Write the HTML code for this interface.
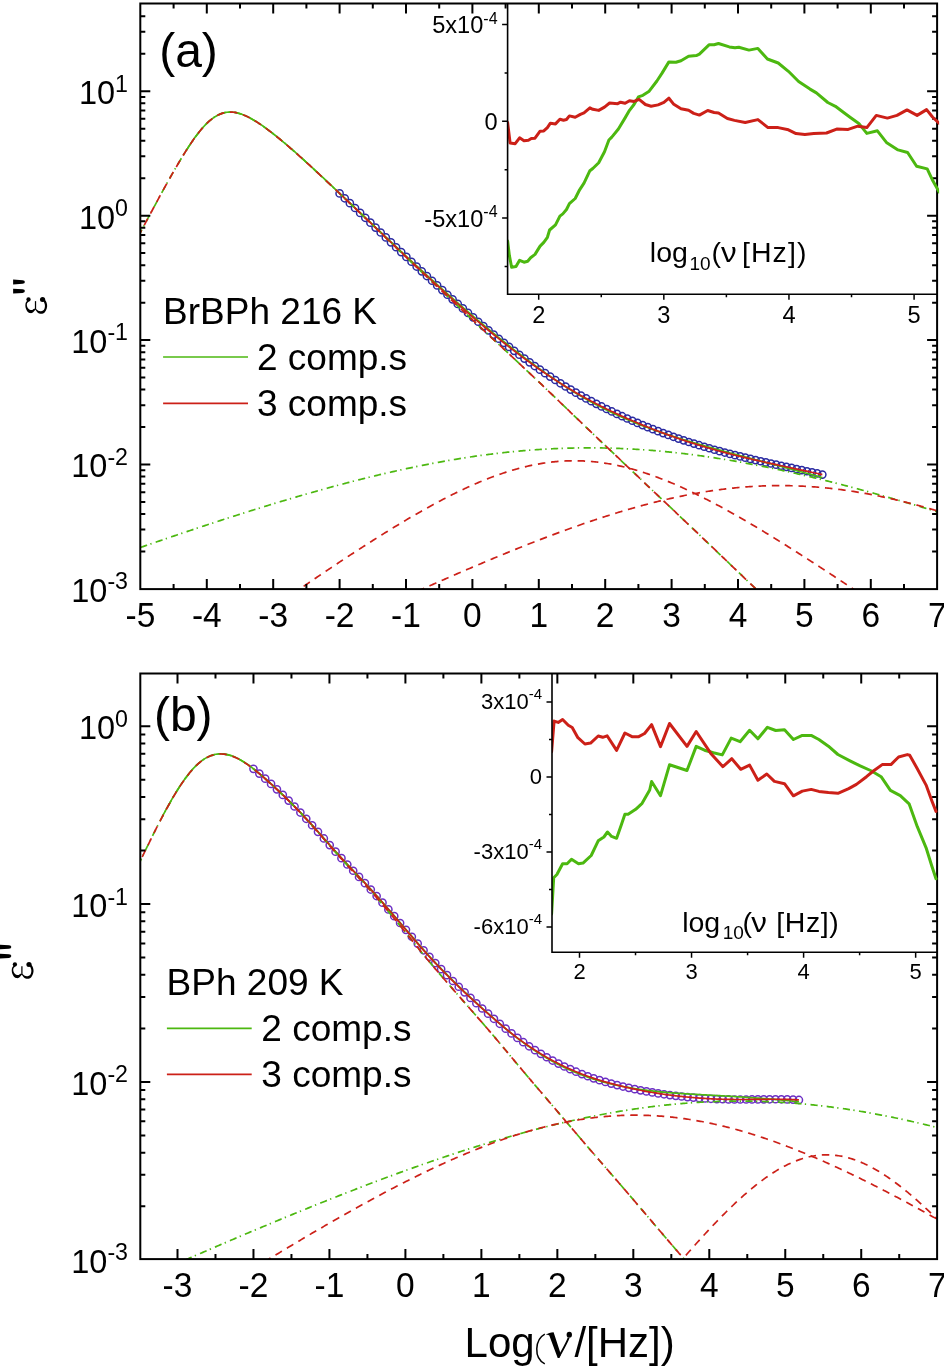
<!DOCTYPE html>
<html><head><meta charset="utf-8"><style>html,body{margin:0;padding:0;background:#fff;}svg{display:block;} text{-webkit-font-smoothing:antialiased;} body{will-change:transform;}</style></head>
<body>
<svg width="944" height="1366" viewBox="0 0 944 1366">
<rect width="944" height="1366" fill="#fff"/>
<clipPath id="ca"><rect x="140.3" y="3.5" width="796.8" height="585.6"/></clipPath>
<g clip-path="url(#ca)">
<g fill="none" stroke="#2a2aa2" stroke-width="1.5">
<circle cx="339.6" cy="193.43" r="3.6"/>
<circle cx="344.74" cy="198.29" r="3.6"/>
<circle cx="349.87" cy="203.15" r="3.6"/>
<circle cx="355.01" cy="208.02" r="3.6"/>
<circle cx="360.14" cy="212.9" r="3.6"/>
<circle cx="365.28" cy="217.78" r="3.6"/>
<circle cx="370.41" cy="222.68" r="3.6"/>
<circle cx="375.55" cy="227.59" r="3.6"/>
<circle cx="380.68" cy="232.51" r="3.6"/>
<circle cx="385.82" cy="237.42" r="3.6"/>
<circle cx="390.95" cy="242.33" r="3.6"/>
<circle cx="396.09" cy="247.23" r="3.6"/>
<circle cx="401.22" cy="252.1" r="3.6"/>
<circle cx="406.36" cy="256.95" r="3.6"/>
<circle cx="411.5" cy="261.76" r="3.6"/>
<circle cx="416.63" cy="266.54" r="3.6"/>
<circle cx="421.77" cy="271.3" r="3.6"/>
<circle cx="426.9" cy="276.03" r="3.6"/>
<circle cx="432.04" cy="280.74" r="3.6"/>
<circle cx="437.17" cy="285.43" r="3.6"/>
<circle cx="442.31" cy="290.1" r="3.6"/>
<circle cx="447.44" cy="294.74" r="3.6"/>
<circle cx="452.58" cy="299.34" r="3.6"/>
<circle cx="457.71" cy="303.91" r="3.6"/>
<circle cx="462.85" cy="308.44" r="3.6"/>
<circle cx="467.99" cy="312.92" r="3.6"/>
<circle cx="473.12" cy="317.36" r="3.6"/>
<circle cx="478.26" cy="321.75" r="3.6"/>
<circle cx="483.39" cy="326.09" r="3.6"/>
<circle cx="488.53" cy="330.37" r="3.6"/>
<circle cx="493.66" cy="334.59" r="3.6"/>
<circle cx="498.8" cy="338.76" r="3.6"/>
<circle cx="503.93" cy="342.86" r="3.6"/>
<circle cx="509.07" cy="346.9" r="3.6"/>
<circle cx="514.2" cy="350.87" r="3.6"/>
<circle cx="519.34" cy="354.77" r="3.6"/>
<circle cx="524.47" cy="358.59" r="3.6"/>
<circle cx="529.61" cy="362.35" r="3.6"/>
<circle cx="534.75" cy="366.03" r="3.6"/>
<circle cx="539.88" cy="369.63" r="3.6"/>
<circle cx="545.02" cy="373.16" r="3.6"/>
<circle cx="550.15" cy="376.62" r="3.6"/>
<circle cx="555.29" cy="379.99" r="3.6"/>
<circle cx="560.42" cy="383.28" r="3.6"/>
<circle cx="565.56" cy="386.49" r="3.6"/>
<circle cx="570.69" cy="389.6" r="3.6"/>
<circle cx="575.83" cy="392.63" r="3.6"/>
<circle cx="580.96" cy="395.56" r="3.6"/>
<circle cx="586.1" cy="398.41" r="3.6"/>
<circle cx="591.23" cy="401.18" r="3.6"/>
<circle cx="596.37" cy="403.86" r="3.6"/>
<circle cx="601.51" cy="406.47" r="3.6"/>
<circle cx="606.64" cy="409" r="3.6"/>
<circle cx="611.78" cy="411.47" r="3.6"/>
<circle cx="616.91" cy="413.88" r="3.6"/>
<circle cx="622.05" cy="416.22" r="3.6"/>
<circle cx="627.18" cy="418.51" r="3.6"/>
<circle cx="632.32" cy="420.75" r="3.6"/>
<circle cx="637.45" cy="422.93" r="3.6"/>
<circle cx="642.59" cy="425.07" r="3.6"/>
<circle cx="647.72" cy="427.14" r="3.6"/>
<circle cx="652.86" cy="429.17" r="3.6"/>
<circle cx="658" cy="431.15" r="3.6"/>
<circle cx="663.13" cy="433.08" r="3.6"/>
<circle cx="668.27" cy="434.95" r="3.6"/>
<circle cx="673.4" cy="436.78" r="3.6"/>
<circle cx="678.54" cy="438.56" r="3.6"/>
<circle cx="683.67" cy="440.3" r="3.6"/>
<circle cx="688.81" cy="441.98" r="3.6"/>
<circle cx="693.94" cy="443.62" r="3.6"/>
<circle cx="699.08" cy="445.22" r="3.6"/>
<circle cx="704.21" cy="446.77" r="3.6"/>
<circle cx="709.35" cy="448.27" r="3.6"/>
<circle cx="714.48" cy="449.74" r="3.6"/>
<circle cx="719.62" cy="451.16" r="3.6"/>
<circle cx="724.76" cy="452.54" r="3.6"/>
<circle cx="729.89" cy="453.88" r="3.6"/>
<circle cx="735.03" cy="455.18" r="3.6"/>
<circle cx="740.16" cy="456.45" r="3.6"/>
<circle cx="745.3" cy="457.69" r="3.6"/>
<circle cx="750.43" cy="458.9" r="3.6"/>
<circle cx="755.57" cy="460.09" r="3.6"/>
<circle cx="760.7" cy="461.25" r="3.6"/>
<circle cx="765.84" cy="462.39" r="3.6"/>
<circle cx="770.97" cy="463.52" r="3.6"/>
<circle cx="776.11" cy="464.64" r="3.6"/>
<circle cx="781.24" cy="465.74" r="3.6"/>
<circle cx="786.38" cy="466.84" r="3.6"/>
<circle cx="791.52" cy="467.94" r="3.6"/>
<circle cx="796.65" cy="469.03" r="3.6"/>
<circle cx="801.79" cy="470.13" r="3.6"/>
<circle cx="806.92" cy="471.23" r="3.6"/>
<circle cx="812.06" cy="472.34" r="3.6"/>
<circle cx="817.19" cy="473.47" r="3.6"/>
<circle cx="822.33" cy="474.6" r="3.6"/>
</g>
<path d="M183.56,154.68 L184.84,152.62 L186.12,150.59 L187.4,148.59 L188.68,146.63 L189.96,144.69 L191.24,142.79 L192.52,140.93 L193.8,139.11 L195.08,137.33 L196.36,135.59 L197.64,133.9 L198.92,132.26 L200.2,130.67 L201.48,129.14 L202.76,127.66 L204.04,126.24 L205.32,124.88 L206.6,123.58 L207.88,122.35 L209.16,121.19 L210.44,120.09 L211.72,119.06 L213,118.1 L214.28,117.21 L215.56,116.39 L216.84,115.65 L218.12,114.97 L219.4,114.37 L220.68,113.84 L221.96,113.39 L223.24,113 L224.52,112.68 L225.8,112.43 L227.08,112.24 L228.36,112.12 L229.64,112.07 L230.92,112.07 L232.2,112.13 L233.48,112.25 L234.76,112.43 L236.04,112.65 L237.32,112.93 L238.6,113.26 L239.88,113.63 L241.16,114.05 L242.44,114.5 L243.72,115 L245,115.54 L246.28,116.11 L247.56,116.72 L248.84,117.36 L250.13,118.03 L251.41,118.72 L252.69,119.45 L253.97,120.2 L255.25,120.97 L256.53,121.77 L257.81,122.59 L259.09,123.43 L260.37,124.29 L261.65,125.17 L262.93,126.06 L264.21,126.97 L265.49,127.9 L266.77,128.84 L268.05,129.79 L269.33,130.75 L270.61,131.73 L271.89,132.72 L273.17,133.72 L274.45,134.73 L275.73,135.75 L277.01,136.78 L278.29,137.82 L279.57,138.86 L280.85,139.92 L282.13,140.98 L283.41,142.05 L284.69,143.12 L285.97,144.21 L287.25,145.3 L288.53,146.39 L289.81,147.5 L291.09,148.6 L292.37,149.72 L293.65,150.84 L294.93,151.97 L296.21,153.1 L297.49,154.23 L298.77,155.37 L300.05,156.52 L301.33,157.67 L302.61,158.83 L303.89,159.98 L305.17,161.15 L306.45,162.31 L307.73,163.48 L309.01,164.66 L310.29,165.83 L311.57,167.01 L312.85,168.2 L314.13,169.38 L315.41,170.57 L316.69,171.76 L317.97,172.95 L319.25,174.14 L320.53,175.34 L321.81,176.54 L323.09,177.73 L324.37,178.93 L325.65,180.13 L326.93,181.34 L328.21,182.54 L329.49,183.74 L330.77,184.95 L332.05,186.15 L333.33,187.35 L334.61,188.56 L335.89,189.77 L337.17,190.97 L338.45,192.18 L339.73,193.38 L341.01,194.59 L342.29,195.8 L343.57,197 L344.85,198.21 L346.13,199.42 L347.41,200.63 L348.69,201.83 L349.97,203.04 L351.25,204.25 L352.53,205.46 L353.81,206.66 L355.09,207.87 L356.37,209.08 L357.65,210.29 L358.93,211.5 L360.21,212.71 L361.49,213.92 L362.77,215.14 L364.05,216.35 L365.33,217.56 L366.61,218.77 L367.89,219.99 L369.17,221.2 L370.45,222.42 L371.73,223.63 L373.01,224.85 L374.29,226.07 L375.57,227.28 L376.85,228.5 L378.13,229.72 L379.41,230.94 L380.69,232.15 L381.97,233.37 L383.26,234.59 L384.54,235.81 L385.82,237.02 L387.1,238.24 L388.38,239.45 L389.66,240.67 L390.94,241.88 L392.22,243.1 L393.5,244.31 L394.78,245.52 L396.06,246.73 L397.34,247.93 L398.62,249.14 L399.9,250.34 L401.18,251.54 L402.46,252.74 L403.74,253.94 L405.02,255.14 L406.3,256.33 L407.58,257.52 L408.86,258.72 L410.14,259.9 L411.42,261.09 L412.7,262.27 L413.98,263.46 L415.26,264.64 L416.54,265.81 L417.82,266.99 L419.1,268.17 L420.38,269.34 L421.66,270.51 L422.94,271.68 L424.22,272.85 L425.5,274.02 L426.78,275.18 L428.06,276.34 L429.34,277.51 L430.62,278.67 L431.9,279.83 L433.18,280.99 L434.46,282.14 L435.74,283.3 L437.02,284.45 L438.3,285.61 L439.58,286.76 L440.86,287.91 L442.14,289.06 L443.42,290.21 L444.7,291.35 L445.98,292.49 L447.26,293.64 L448.54,294.78 L449.82,295.91 L451.1,297.05 L452.38,298.18 L453.66,299.32 L454.94,300.45 L456.22,301.57 L457.5,302.7 L458.78,303.82 L460.06,304.94 L461.34,306.06 L462.62,307.18 L463.9,308.29 L465.18,309.4 L466.46,310.51 L467.74,311.61 L469.02,312.72 L470.3,313.82 L471.58,314.91 L472.86,316.01 L474.14,317.1 L475.42,318.19 L476.7,319.28 L477.98,320.37 L479.26,321.45 L480.54,322.53 L481.82,323.6 L483.1,324.68 L484.38,325.75 L485.66,326.82 L486.94,327.88 L488.22,328.94 L489.5,330 L490.78,331.06 L492.06,332.12 L493.34,333.17 L494.62,334.21 L495.9,335.26 L497.18,336.3 L498.46,337.34 L499.74,338.37 L501.02,339.41 L502.3,340.44 L503.58,341.46 L504.86,342.48 L506.14,343.5 L507.42,344.52 L508.7,345.53 L509.98,346.54 L511.26,347.55 L512.54,348.55 L513.82,349.55 L515.1,350.55 L516.39,351.54 L517.67,352.53 L518.95,353.51 L520.23,354.49 L521.51,355.47 L522.79,356.44 L524.07,357.41 L525.35,358.38 L526.63,359.34 L527.91,360.3 L529.19,361.26 L530.47,362.21 L531.75,363.16 L533.03,364.1 L534.31,365.04 L535.59,365.98 L536.87,366.91 L538.15,367.84 L539.43,368.77 L540.71,369.69 L541.99,370.6 L543.27,371.52 L544.55,372.42 L545.83,373.33 L547.11,374.23 L548.39,375.12 L549.67,376.01 L550.95,376.9 L552.23,377.78 L553.51,378.66 L554.79,379.53 L556.07,380.4 L557.35,381.26 L558.63,382.11 L559.91,382.97 L561.19,383.81 L562.47,384.65 L563.75,385.49 L565.03,386.32 L566.31,387.14 L567.59,387.96 L568.87,388.77 L570.15,389.58 L571.43,390.38 L572.71,391.18 L573.99,391.96 L575.27,392.75 L576.55,393.52 L577.83,394.29 L579.11,395.06 L580.39,395.81 L581.67,396.57 L582.95,397.31 L584.23,398.05 L585.51,398.78 L586.79,399.51 L588.07,400.23 L589.35,400.94 L590.63,401.65 L591.91,402.35 L593.19,403.04 L594.47,403.73 L595.75,404.41 L597.03,405.09 L598.31,405.76 L599.59,406.43 L600.87,407.08 L602.15,407.74 L603.43,408.38 L604.71,409.03 L605.99,409.66 L607.27,410.29 L608.55,410.92 L609.83,411.53 L611.11,412.15 L612.39,412.76 L613.67,413.36 L614.95,413.96 L616.23,414.55 L617.51,415.13 L618.79,415.72 L620.07,416.29 L621.35,416.86 L622.63,417.43 L623.91,417.99 L625.19,418.55 L626.47,419.1 L627.75,419.65 L629.03,420.19 L630.31,420.73 L631.59,421.26 L632.87,421.79 L634.15,422.32 L635.43,422.84 L636.71,423.35 L637.99,423.86 L639.27,424.37 L640.55,424.87 L641.83,425.37 L643.11,425.86 L644.39,426.35 L645.67,426.84 L646.95,427.32 L648.23,427.8 L649.52,428.27 L650.8,428.74 L652.08,429.21 L653.36,429.67 L654.64,430.13 L655.92,430.59 L657.2,431.04 L658.48,431.49 L659.76,431.93 L661.04,432.37 L662.32,432.81 L663.6,433.25 L664.88,433.68 L666.16,434.11 L667.44,434.54 L668.72,434.96 L670,435.38 L671.28,435.8 L672.56,436.21 L673.84,436.62 L675.12,437.03 L676.4,437.44 L677.68,437.84 L678.96,438.25 L680.24,438.65 L681.52,439.04 L682.8,439.44 L684.08,439.83 L685.36,440.22 L686.64,440.61 L687.92,441 L689.2,441.39 L690.48,441.77 L691.76,442.15 L693.04,442.53 L694.32,442.91 L695.6,443.29 L696.88,443.66 L698.16,444.04 L699.44,444.41 L700.72,444.78 L702,445.15 L703.28,445.51 L704.56,445.88 L705.84,446.25 L707.12,446.61 L708.4,446.97 L709.68,447.33 L710.96,447.69 L712.24,448.05 L713.52,448.41 L714.8,448.77 L716.08,449.12 L717.36,449.48 L718.64,449.83 L719.92,450.18 L721.2,450.53 L722.48,450.88 L723.76,451.23 L725.04,451.58 L726.32,451.93 L727.6,452.28 L728.88,452.63 L730.16,452.97 L731.44,453.32 L732.72,453.66 L734,454.01 L735.28,454.35 L736.56,454.69 L737.84,455.03 L739.12,455.38 L740.4,455.72 L741.68,456.06 L742.96,456.4 L744.24,456.74 L745.52,457.08 L746.8,457.42 L748.08,457.76 L749.36,458.1 L750.64,458.44 L751.92,458.78 L753.2,459.11 L754.48,459.45 L755.76,459.79 L757.04,460.13 L758.32,460.47 L759.6,460.8 L760.88,461.14 L762.16,461.48 L763.44,461.82 L764.72,462.15 L766,462.49 L767.28,462.83 L768.56,463.17 L769.84,463.51 L771.12,463.84 L772.4,464.18 L773.68,464.52 L774.96,464.86 L776.24,465.2 L777.52,465.54 L778.8,465.87 L780.08,466.21 L781.36,466.55 L782.65,466.89 L783.93,467.23 L785.21,467.57 L786.49,467.91 L787.77,468.25 L789.05,468.59 L790.33,468.93 L791.61,469.27 L792.89,469.61 L794.17,469.95 L795.45,470.3 L796.73,470.64 L798.01,470.98 L799.29,471.32 L800.57,471.67 L801.85,472.01 L803.13,472.35 L804.41,472.7 L805.69,473.04 L806.97,473.39 L808.25,473.73 L809.53,474.08 L810.81,474.42 L812.09,474.77 L813.37,475.12 L814.65,475.47 L815.93,475.81 L817.21,476.16 L818.49,476.51 L819.77,476.86 L821.05,477.21 L822.33,477.56" fill="none" stroke="#4cb810" stroke-width="1.7"/>
<path d="M339.6,193.43 L340.81,194.57 L342.02,195.72 L343.23,196.86 L344.44,198.01 L345.65,199.15 L346.86,200.3 L348.07,201.44 L349.28,202.59 L350.49,203.74 L351.7,204.88 L352.91,206.03 L354.12,207.18 L355.33,208.32 L356.54,209.47 L357.75,210.62 L358.96,211.77 L360.17,212.92 L361.38,214.07 L362.59,215.22 L363.8,216.37 L365.01,217.52 L366.22,218.68 L367.43,219.83 L368.64,220.98 L369.85,222.14 L371.06,223.3 L372.27,224.45 L373.48,225.61 L374.69,226.76 L375.9,227.92 L377.11,229.08 L378.32,230.24 L379.52,231.4 L380.73,232.56 L381.94,233.71 L383.15,234.87 L384.36,236.03 L385.57,237.19 L386.78,238.35 L387.99,239.5 L389.2,240.66 L390.41,241.82 L391.62,242.97 L392.83,244.13 L394.04,245.28 L395.25,246.43 L396.46,247.58 L397.67,248.73 L398.88,249.88 L400.09,251.03 L401.3,252.17 L402.51,253.32 L403.72,254.46 L404.93,255.6 L406.14,256.74 L407.35,257.88 L408.56,259.01 L409.77,260.15 L410.98,261.28 L412.19,262.41 L413.4,263.54 L414.61,264.67 L415.82,265.79 L417.03,266.92 L418.24,268.04 L419.45,269.16 L420.66,270.28 L421.87,271.4 L423.08,272.51 L424.29,273.63 L425.5,274.74 L426.71,275.86 L427.92,276.97 L429.13,278.08 L430.34,279.19 L431.55,280.3 L432.76,281.4 L433.97,282.51 L435.18,283.61 L436.39,284.72 L437.6,285.82 L438.81,286.92 L440.02,288.02 L441.23,289.12 L442.44,290.21 L443.65,291.31 L444.86,292.4 L446.07,293.5 L447.28,294.59 L448.49,295.67 L449.7,296.76 L450.91,297.85 L452.12,298.93 L453.33,300.01 L454.54,301.09 L455.75,302.16 L456.95,303.24 L458.16,304.31 L459.37,305.38 L460.58,306.45 L461.79,307.51 L463,308.58 L464.21,309.64 L465.42,310.69 L466.63,311.75 L467.84,312.8 L469.05,313.85 L470.26,314.9 L471.47,315.94 L472.68,316.99 L473.89,318.02 L475.1,319.06 L476.31,320.1 L477.52,321.13 L478.73,322.15 L479.94,323.18 L481.15,324.2 L482.36,325.22 L483.57,326.24 L484.78,327.25 L485.99,328.26 L487.2,329.27 L488.41,330.27 L489.62,331.27 L490.83,332.27 L492.04,333.27 L493.25,334.26 L494.46,335.25 L495.67,336.23 L496.88,337.21 L498.09,338.19 L499.3,339.16 L500.51,340.13 L501.72,341.1 L502.93,342.07 L504.14,343.03 L505.35,343.98 L506.56,344.94 L507.77,345.88 L508.98,346.83 L510.19,347.77 L511.4,348.71 L512.61,349.64 L513.82,350.57 L515.03,351.5 L516.24,352.42 L517.45,353.34 L518.66,354.25 L519.87,355.16 L521.08,356.07 L522.29,356.97 L523.5,357.87 L524.71,358.76 L525.92,359.65 L527.13,360.54 L528.34,361.42 L529.55,362.3 L530.76,363.17 L531.97,364.04 L533.18,364.91 L534.38,365.77 L535.59,366.63 L536.8,367.48 L538.01,368.33 L539.22,369.18 L540.43,370.02 L541.64,370.85 L542.85,371.69 L544.06,372.51 L545.27,373.34 L546.48,374.16 L547.69,374.97 L548.9,375.78 L550.11,376.59 L551.32,377.39 L552.53,378.19 L553.74,378.98 L554.95,379.77 L556.16,380.56 L557.37,381.34 L558.58,382.11 L559.79,382.88 L561,383.65 L562.21,384.41 L563.42,385.16 L564.63,385.91 L565.84,386.66 L567.05,387.4 L568.26,388.14 L569.47,388.87 L570.68,389.59 L571.89,390.32 L573.1,391.03 L574.31,391.74 L575.52,392.45 L576.73,393.15 L577.94,393.85 L579.15,394.54 L580.36,395.22 L581.57,395.9 L582.78,396.58 L583.99,397.25 L585.2,397.92 L586.41,398.58 L587.62,399.24 L588.83,399.89 L590.04,400.54 L591.25,401.18 L592.46,401.82 L593.67,402.46 L594.88,403.09 L596.09,403.71 L597.3,404.33 L598.51,404.95 L599.72,405.57 L600.93,406.18 L602.14,406.78 L603.35,407.38 L604.56,407.98 L605.77,408.57 L606.98,409.16 L608.19,409.75 L609.4,410.33 L610.61,410.91 L611.82,411.49 L613.02,412.06 L614.23,412.63 L615.44,413.19 L616.65,413.76 L617.86,414.32 L619.07,414.87 L620.28,415.42 L621.49,415.97 L622.7,416.52 L623.91,417.06 L625.12,417.6 L626.33,418.14 L627.54,418.67 L628.75,419.2 L629.96,419.73 L631.17,420.26 L632.38,420.78 L633.59,421.3 L634.8,421.81 L636.01,422.33 L637.22,422.84 L638.43,423.34 L639.64,423.85 L640.85,424.35 L642.06,424.85 L643.27,425.34 L644.48,425.84 L645.69,426.33 L646.9,426.81 L648.11,427.3 L649.32,427.78 L650.53,428.26 L651.74,428.74 L652.95,429.21 L654.16,429.68 L655.37,430.15 L656.58,430.61 L657.79,431.07 L659,431.53 L660.21,431.99 L661.42,432.44 L662.63,432.89 L663.84,433.34 L665.05,433.78 L666.26,434.23 L667.47,434.67 L668.68,435.1 L669.89,435.54 L671.1,435.97 L672.31,436.4 L673.52,436.82 L674.73,437.25 L675.94,437.67 L677.15,438.09 L678.36,438.5 L679.57,438.91 L680.78,439.32 L681.99,439.73 L683.2,440.14 L684.41,440.54 L685.62,440.94 L686.83,441.34 L688.04,441.73 L689.25,442.12 L690.45,442.51 L691.66,442.9 L692.87,443.28 L694.08,443.67 L695.29,444.05 L696.5,444.42 L697.71,444.8 L698.92,445.17 L700.13,445.54 L701.34,445.91 L702.55,446.27 L703.76,446.63 L704.97,446.99 L706.18,447.35 L707.39,447.7 L708.6,448.06 L709.81,448.41 L711.02,448.75 L712.23,449.1 L713.44,449.44 L714.65,449.78 L715.86,450.12 L717.07,450.46 L718.28,450.79 L719.49,451.12 L720.7,451.45 L721.91,451.78 L723.12,452.1 L724.33,452.42 L725.54,452.74 L726.75,453.06 L727.96,453.38 L729.17,453.69 L730.38,454 L731.59,454.31 L732.8,454.62 L734.01,454.93 L735.22,455.23 L736.43,455.53 L737.64,455.83 L738.85,456.13 L740.06,456.43 L741.27,456.72 L742.48,457.01 L743.69,457.3 L744.9,457.59 L746.11,457.88 L747.32,458.17 L748.53,458.45 L749.74,458.74 L750.95,459.02 L752.16,459.3 L753.37,459.58 L754.58,459.86 L755.79,460.14 L757,460.41 L758.21,460.69 L759.42,460.96 L760.63,461.23 L761.84,461.5 L763.05,461.77 L764.26,462.04 L765.47,462.31 L766.68,462.58 L767.88,462.84 L769.09,463.11 L770.3,463.37 L771.51,463.64 L772.72,463.9 L773.93,464.17 L775.14,464.43 L776.35,464.69 L777.56,464.95 L778.77,465.21 L779.98,465.47 L781.19,465.73 L782.4,465.99 L783.61,466.25 L784.82,466.51 L786.03,466.77 L787.24,467.03 L788.45,467.28 L789.66,467.54 L790.87,467.8 L792.08,468.06 L793.29,468.32 L794.5,468.57 L795.71,468.83 L796.92,469.09 L798.13,469.35 L799.34,469.61 L800.55,469.87 L801.76,470.13 L802.97,470.38 L804.18,470.64 L805.39,470.9 L806.6,471.16 L807.81,471.42 L809.02,471.69 L810.23,471.95 L811.44,472.21 L812.65,472.47 L813.86,472.74 L815.07,473 L816.28,473.27 L817.49,473.53 L818.7,473.8 L819.91,474.07 L821.12,474.33 L822.33,474.6" fill="none" stroke="#cc2018" stroke-width="1.7"/>
<path d="M140.3,232.68 L141.63,230.18 L142.96,227.68 L144.29,225.17 L145.62,222.67 L146.95,220.18 L148.28,217.68 L149.61,215.19 L150.94,212.71 L152.27,210.23 L153.6,207.75 L154.93,205.28 L156.26,202.82 L157.59,200.36 L158.92,197.91 L160.25,195.46 L161.58,193.03 L162.91,190.6 L164.24,188.19 L165.57,185.78 L166.9,183.38 L168.23,181 L169.56,178.63 L170.89,176.27 L172.23,173.93 L173.56,171.6 L174.89,169.29 L176.22,167 L177.55,164.73 L178.88,162.47 L180.21,160.24 L181.54,158.04 L182.87,155.86 L184.2,153.7 L185.53,151.58 L186.86,149.48 L188.19,147.42 L189.52,145.4 L190.85,143.41 L192.18,141.46 L193.51,139.56 L194.84,137.7 L196.17,135.89 L197.5,134.12 L198.83,132.41 L200.16,130.76 L201.49,129.16 L202.82,127.63 L204.15,126.16 L205.48,124.75 L206.81,123.41 L208.14,122.14 L209.47,120.94 L210.8,119.82 L212.13,118.77 L213.46,117.8 L214.79,116.9 L216.12,116.09 L217.45,115.35 L218.78,114.68 L220.11,114.1 L221.44,113.59 L222.77,113.16 L224.1,112.81 L225.43,112.52 L226.76,112.31 L228.09,112.17 L229.42,112.1 L230.75,112.1 L232.08,112.15 L233.42,112.27 L234.75,112.45 L236.08,112.69 L237.41,112.98 L238.74,113.33 L240.07,113.72 L241.4,114.16 L242.73,114.64 L244.06,115.17 L245.39,115.74 L246.72,116.35 L248.05,116.99 L249.38,117.67 L250.71,118.38 L252.04,119.12 L253.37,119.89 L254.7,120.68 L256.03,121.5 L257.36,122.35 L258.69,123.21 L260.02,124.1 L261.35,125.01 L262.68,125.94 L264.01,126.88 L265.34,127.84 L266.67,128.82 L268,129.81 L269.33,130.81 L270.66,131.83 L271.99,132.86 L273.32,133.9 L274.65,134.95 L275.98,136.01 L277.31,137.09 L278.64,138.17 L279.97,139.26 L281.3,140.36 L282.63,141.47 L283.96,142.59 L285.29,143.71 L286.62,144.84 L287.95,145.98 L289.28,147.12 L290.61,148.28 L291.94,149.44 L293.27,150.6 L294.61,151.77 L295.94,152.95 L297.27,154.13 L298.6,155.32 L299.93,156.51 L301.26,157.71 L302.59,158.91 L303.92,160.12 L305.25,161.33 L306.58,162.55 L307.91,163.77 L309.24,164.99 L310.57,166.22 L311.9,167.45 L313.23,168.68 L314.56,169.92 L315.89,171.16 L317.22,172.4 L318.55,173.64 L319.88,174.89 L321.21,176.14 L322.54,177.39 L323.87,178.64 L325.2,179.89 L326.53,181.14 L327.86,182.4 L329.19,183.65 L330.52,184.91 L331.85,186.17 L333.18,187.43 L334.51,188.69 L335.84,189.94 L337.17,191.2 L338.5,192.46 L339.83,193.73 L341.16,194.99 L342.49,196.25 L343.82,197.51 L345.15,198.77 L346.48,200.04 L347.81,201.3 L349.14,202.56 L350.47,203.83 L351.8,205.09 L353.13,206.36 L354.46,207.62 L355.8,208.89 L357.13,210.16 L358.46,211.43 L359.79,212.69 L361.12,213.96 L362.45,215.24 L363.78,216.51 L365.11,217.78 L366.44,219.05 L367.77,220.33 L369.1,221.6 L370.43,222.88 L371.76,224.16 L373.09,225.44 L374.42,226.72 L375.75,228 L377.08,229.28 L378.41,230.56 L379.74,231.85 L381.07,233.13 L382.4,234.41 L383.73,235.7 L385.06,236.98 L386.39,238.27 L387.72,239.55 L389.05,240.83 L390.38,242.12 L391.71,243.4 L393.04,244.68 L394.37,245.96 L395.7,247.25 L397.03,248.53 L398.36,249.8 L399.69,251.08 L401.02,252.36 L402.35,253.63 L403.68,254.91 L405.01,256.18 L406.34,257.45 L407.67,258.72 L409,259.99 L410.33,261.26 L411.66,262.52 L412.99,263.79 L414.32,265.05 L415.65,266.31 L416.99,267.57 L418.32,268.83 L419.65,270.09 L420.98,271.35 L422.31,272.61 L423.64,273.87 L424.97,275.12 L426.3,276.38 L427.63,277.63 L428.96,278.89 L430.29,280.15 L431.62,281.4 L432.95,282.66 L434.28,283.91 L435.61,285.17 L436.94,286.42 L438.27,287.67 L439.6,288.93 L440.93,290.18 L442.26,291.44 L443.59,292.69 L444.92,293.95 L446.25,295.2 L447.58,296.45 L448.91,297.71 L450.24,298.96 L451.57,300.21 L452.9,301.46 L454.23,302.71 L455.56,303.96 L456.89,305.21 L458.22,306.46 L459.55,307.71 L460.88,308.96 L462.21,310.21 L463.54,311.45 L464.87,312.7 L466.2,313.95 L467.53,315.19 L468.86,316.44 L470.19,317.68 L471.52,318.93 L472.85,320.17 L474.18,321.41 L475.51,322.66 L476.84,323.9 L478.18,325.14 L479.51,326.38 L480.84,327.63 L482.17,328.87 L483.5,330.11 L484.83,331.35 L486.16,332.59 L487.49,333.83 L488.82,335.07 L490.15,336.32 L491.48,337.56 L492.81,338.8 L494.14,340.04 L495.47,341.28 L496.8,342.52 L498.13,343.76 L499.46,345 L500.79,346.25 L502.12,347.49 L503.45,348.73 L504.78,349.97 L506.11,351.21 L507.44,352.46 L508.77,353.7 L510.1,354.94 L511.43,356.19 L512.76,357.43 L514.09,358.67 L515.42,359.92 L516.75,361.16 L518.08,362.41 L519.41,363.66 L520.74,364.9 L522.07,366.15 L523.4,367.4 L524.73,368.65 L526.06,369.9 L527.39,371.15 L528.72,372.4 L530.05,373.65 L531.38,374.91 L532.71,376.16 L534.04,377.42 L535.37,378.68 L536.7,379.93 L538.03,381.19 L539.37,382.45 L540.7,383.72 L542.03,384.98 L543.36,386.25 L544.69,387.51 L546.02,388.78 L547.35,390.05 L548.68,391.32 L550.01,392.59 L551.34,393.86 L552.67,395.13 L554,396.41 L555.33,397.68 L556.66,398.96 L557.99,400.24 L559.32,401.51 L560.65,402.79 L561.98,404.07 L563.31,405.35 L564.64,406.63 L565.97,407.91 L567.3,409.19 L568.63,410.47 L569.96,411.75 L571.29,413.03 L572.62,414.31 L573.95,415.59 L575.28,416.87 L576.61,418.15 L577.94,419.42 L579.27,420.7 L580.6,421.98 L581.93,423.25 L583.26,424.53 L584.59,425.8 L585.92,427.08 L587.25,428.35 L588.58,429.62 L589.91,430.9 L591.24,432.17 L592.57,433.44 L593.9,434.71 L595.23,435.98 L596.56,437.25 L597.89,438.51 L599.22,439.78 L600.56,441.05 L601.89,442.31 L603.22,443.58 L604.55,444.84 L605.88,446.11 L607.21,447.37 L608.54,448.64 L609.87,449.9 L611.2,451.17 L612.53,452.43 L613.86,453.69 L615.19,454.96 L616.52,456.22 L617.85,457.48 L619.18,458.74 L620.51,460.01 L621.84,461.27 L623.17,462.53 L624.5,463.8 L625.83,465.06 L627.16,466.32 L628.49,467.59 L629.82,468.85 L631.15,470.11 L632.48,471.38 L633.81,472.64 L635.14,473.9 L636.47,475.17 L637.8,476.43 L639.13,477.7 L640.46,478.96 L641.79,480.22 L643.12,481.49 L644.45,482.75 L645.78,484.01 L647.11,485.27 L648.44,486.54 L649.77,487.8 L651.1,489.06 L652.43,490.32 L653.76,491.58 L655.09,492.85 L656.42,494.11 L657.75,495.37 L659.08,496.63 L660.41,497.89 L661.75,499.15 L663.08,500.41 L664.41,501.67 L665.74,502.93 L667.07,504.18 L668.4,505.44 L669.73,506.7 L671.06,507.96 L672.39,509.22 L673.72,510.48 L675.05,511.74 L676.38,513 L677.71,514.26 L679.04,515.51 L680.37,516.77 L681.7,518.03 L683.03,519.29 L684.36,520.55 L685.69,521.82 L687.02,523.08 L688.35,524.34 L689.68,525.6 L691.01,526.87 L692.34,528.13 L693.67,529.39 L695,530.66 L696.33,531.93 L697.66,533.19 L698.99,534.46 L700.32,535.73 L701.65,537 L702.98,538.27 L704.31,539.54 L705.64,540.81 L706.97,542.08 L708.3,543.35 L709.63,544.62 L710.96,545.9 L712.29,547.17 L713.62,548.44 L714.95,549.72 L716.28,550.99 L717.61,552.27 L718.94,553.54 L720.27,554.82 L721.6,556.09 L722.94,557.37 L724.27,558.64 L725.6,559.92 L726.93,561.19 L728.26,562.47 L729.59,563.74 L730.92,565.02 L732.25,566.29 L733.58,567.57 L734.91,568.84 L736.24,570.12 L737.57,571.39 L738.9,572.67 L740.23,573.94 L741.56,575.22 L742.89,576.49 L744.22,577.77 L745.55,579.04 L746.88,580.31 L748.21,581.59 L749.54,582.86 L750.87,584.14 L752.2,585.41 L753.53,586.68 L754.86,587.96 L756.19,589.23 L757.52,590.51 L758.85,591.78 L760.18,593.05 L761.51,594.33 L762.84,595.6 L764.17,596.88 L765.5,598.15 L766.83,599.42 L768.16,600.7 L769.49,601.97 L770.82,603.24 L772.15,604.52 L773.48,605.79 L774.81,607.06 L776.14,608.33 L777.47,609.6 L778.8,610.87 L780.13,612.14 L781.46,613.41 L782.79,614.68 L784.13,615.95 L785.46,617.22 L786.79,618.48 L788.12,619.75 L789.45,621.01 L790.78,622.27 L792.11,623.53 L793.44,624.79 L794.77,626.05 L796.1,627.31 L797.43,628.56 L798.76,629.82 L800.09,631.07 L801.42,632.32 L802.75,633.58 L804.08,634.83 L805.41,636.08 L806.74,637.33 L808.07,638.58 L809.4,639.82 L810.73,641.07 L812.06,642.32 L813.39,643.57 L814.72,644.82 L816.05,646.06 L817.38,647.31 L818.71,648.56 L820.04,649.81 L821.37,651.05 L822.7,652.3 L824.03,653.55 L825.36,654.81 L826.69,656.07 L828.02,657.34 L829.35,658.6 L830.68,659.86 L832.01,661.13 L833.34,662.39 L834.67,663.65 L836,664.91 L837.33,666.17 L838.66,667.43 L839.99,668.69 L841.32,669.95 L842.65,671.21 L843.98,672.47 L845.32,673.73 L846.65,674.99 L847.98,676.25 L849.31,677.51 L850.64,678.77 L851.97,680.04 L853.3,681.3 L854.63,682.56 L855.96,683.82 L857.29,685.08 L858.62,686.34 L859.95,687.6 L861.28,688.86 L862.61,690.12 L863.94,691.38 L865.27,692.64 L866.6,693.91 L867.93,695.17 L869.26,696.43 L870.59,697.69 L871.92,698.95 L873.25,700.22 L874.58,701.48 L875.91,702.74 L877.24,704 L878.57,705.27 L879.9,706.53 L881.23,707.79 L882.56,709.06 L883.89,710.32 L885.22,711.58 L886.55,712.85 L887.88,714.11 L889.21,715.37 L890.54,716.64 L891.87,717.9 L893.2,719.16 L894.53,720.43 L895.86,721.69 L897.19,722.95 L898.52,724.22 L899.85,725.48 L901.18,726.74 L902.51,728.01 L903.84,729.27 L905.17,730.54 L906.51,731.8 L907.84,733.06 L909.17,734.33 L910.5,735.59 L911.83,736.86 L913.16,738.12 L914.49,739.38 L915.82,740.65 L917.15,741.91 L918.48,743.17 L919.81,744.44 L921.14,745.7 L922.47,746.97 L923.8,748.23 L925.13,749.49 L926.46,750.76 L927.79,752.02 L929.12,753.28 L930.45,754.55 L931.78,755.81 L933.11,757.08 L934.44,758.34 L935.77,759.6 L937.1,760.87" fill="none" stroke="#4cb810" stroke-width="1.7" stroke-dasharray="7.2 3.4 1.3 4.4" stroke-dashoffset="3.70"/>
<path d="M140.3,547.52 L141.63,547.06 L142.96,546.6 L144.29,546.13 L145.62,545.67 L146.95,545.21 L148.28,544.75 L149.61,544.3 L150.94,543.84 L152.27,543.38 L153.6,542.92 L154.93,542.46 L156.26,542.01 L157.59,541.55 L158.92,541.09 L160.25,540.64 L161.58,540.18 L162.91,539.72 L164.24,539.27 L165.57,538.82 L166.9,538.36 L168.23,537.91 L169.56,537.46 L170.89,537 L172.23,536.55 L173.56,536.1 L174.89,535.65 L176.22,535.2 L177.55,534.75 L178.88,534.3 L180.21,533.85 L181.54,533.4 L182.87,532.95 L184.2,532.5 L185.53,532.05 L186.86,531.61 L188.19,531.16 L189.52,530.71 L190.85,530.27 L192.18,529.82 L193.51,529.38 L194.84,528.94 L196.17,528.49 L197.5,528.05 L198.83,527.61 L200.16,527.17 L201.49,526.72 L202.82,526.28 L204.15,525.84 L205.48,525.4 L206.81,524.96 L208.14,524.53 L209.47,524.09 L210.8,523.65 L212.13,523.21 L213.46,522.78 L214.79,522.34 L216.12,521.91 L217.45,521.47 L218.78,521.04 L220.11,520.6 L221.44,520.17 L222.77,519.74 L224.1,519.31 L225.43,518.88 L226.76,518.45 L228.09,518.02 L229.42,517.59 L230.75,517.16 L232.08,516.73 L233.42,516.3 L234.75,515.88 L236.08,515.45 L237.41,515.03 L238.74,514.6 L240.07,514.18 L241.4,513.76 L242.73,513.33 L244.06,512.91 L245.39,512.49 L246.72,512.07 L248.05,511.65 L249.38,511.23 L250.71,510.81 L252.04,510.4 L253.37,509.98 L254.7,509.56 L256.03,509.15 L257.36,508.73 L258.69,508.32 L260.02,507.91 L261.35,507.49 L262.68,507.08 L264.01,506.67 L265.34,506.26 L266.67,505.85 L268,505.44 L269.33,505.04 L270.66,504.63 L271.99,504.22 L273.32,503.82 L274.65,503.42 L275.98,503.01 L277.31,502.61 L278.64,502.21 L279.97,501.81 L281.3,501.41 L282.63,501.01 L283.96,500.61 L285.29,500.21 L286.62,499.82 L287.95,499.42 L289.28,499.03 L290.61,498.63 L291.94,498.24 L293.27,497.85 L294.61,497.46 L295.94,497.07 L297.27,496.68 L298.6,496.29 L299.93,495.9 L301.26,495.52 L302.59,495.13 L303.92,494.75 L305.25,494.36 L306.58,493.98 L307.91,493.6 L309.24,493.22 L310.57,492.84 L311.9,492.46 L313.23,492.08 L314.56,491.71 L315.89,491.33 L317.22,490.96 L318.55,490.58 L319.88,490.21 L321.21,489.84 L322.54,489.47 L323.87,489.1 L325.2,488.73 L326.53,488.37 L327.86,488 L329.19,487.64 L330.52,487.27 L331.85,486.91 L333.18,486.55 L334.51,486.19 L335.84,485.83 L337.17,485.47 L338.5,485.12 L339.83,484.76 L341.16,484.41 L342.49,484.06 L343.82,483.7 L345.15,483.35 L346.48,483 L347.81,482.66 L349.14,482.31 L350.47,481.96 L351.8,481.62 L353.13,481.28 L354.46,480.93 L355.8,480.59 L357.13,480.25 L358.46,479.92 L359.79,479.58 L361.12,479.24 L362.45,478.91 L363.78,478.58 L365.11,478.25 L366.44,477.92 L367.77,477.59 L369.1,477.26 L370.43,476.93 L371.76,476.61 L373.09,476.29 L374.42,475.96 L375.75,475.64 L377.08,475.32 L378.41,475.01 L379.74,474.69 L381.07,474.38 L382.4,474.06 L383.73,473.75 L385.06,473.44 L386.39,473.13 L387.72,472.82 L389.05,472.52 L390.38,472.21 L391.71,471.91 L393.04,471.61 L394.37,471.31 L395.7,471.01 L397.03,470.71 L398.36,470.42 L399.69,470.12 L401.02,469.83 L402.35,469.54 L403.68,469.25 L405.01,468.96 L406.34,468.68 L407.67,468.39 L409,468.11 L410.33,467.83 L411.66,467.55 L412.99,467.27 L414.32,466.99 L415.65,466.72 L416.99,466.45 L418.32,466.17 L419.65,465.9 L420.98,465.64 L422.31,465.37 L423.64,465.11 L424.97,464.84 L426.3,464.58 L427.63,464.32 L428.96,464.06 L430.29,463.81 L431.62,463.55 L432.95,463.3 L434.28,463.05 L435.61,462.8 L436.94,462.56 L438.27,462.31 L439.6,462.07 L440.93,461.83 L442.26,461.59 L443.59,461.35 L444.92,461.11 L446.25,460.88 L447.58,460.64 L448.91,460.41 L450.24,460.18 L451.57,459.96 L452.9,459.73 L454.23,459.51 L455.56,459.29 L456.89,459.07 L458.22,458.85 L459.55,458.64 L460.88,458.42 L462.21,458.21 L463.54,458 L464.87,457.79 L466.2,457.59 L467.53,457.38 L468.86,457.18 L470.19,456.98 L471.52,456.78 L472.85,456.59 L474.18,456.4 L475.51,456.2 L476.84,456.01 L478.18,455.83 L479.51,455.64 L480.84,455.46 L482.17,455.27 L483.5,455.1 L484.83,454.92 L486.16,454.74 L487.49,454.57 L488.82,454.4 L490.15,454.23 L491.48,454.06 L492.81,453.9 L494.14,453.73 L495.47,453.57 L496.8,453.41 L498.13,453.26 L499.46,453.1 L500.79,452.95 L502.12,452.8 L503.45,452.65 L504.78,452.51 L506.11,452.36 L507.44,452.22 L508.77,452.08 L510.1,451.95 L511.43,451.81 L512.76,451.68 L514.09,451.55 L515.42,451.42 L516.75,451.29 L518.08,451.17 L519.41,451.05 L520.74,450.93 L522.07,450.81 L523.4,450.7 L524.73,450.58 L526.06,450.47 L527.39,450.36 L528.72,450.26 L530.05,450.15 L531.38,450.05 L532.71,449.95 L534.04,449.86 L535.37,449.76 L536.7,449.67 L538.03,449.58 L539.37,449.49 L540.7,449.4 L542.03,449.32 L543.36,449.24 L544.69,449.16 L546.02,449.08 L547.35,449.01 L548.68,448.94 L550.01,448.87 L551.34,448.8 L552.67,448.74 L554,448.67 L555.33,448.61 L556.66,448.56 L557.99,448.5 L559.32,448.45 L560.65,448.39 L561.98,448.35 L563.31,448.3 L564.64,448.26 L565.97,448.21 L567.3,448.17 L568.63,448.14 L569.96,448.1 L571.29,448.07 L572.62,448.04 L573.95,448.01 L575.28,447.99 L576.61,447.96 L577.94,447.94 L579.27,447.92 L580.6,447.91 L581.93,447.89 L583.26,447.88 L584.59,447.87 L585.92,447.87 L587.25,447.86 L588.58,447.86 L589.91,447.86 L591.24,447.86 L592.57,447.87 L593.9,447.87 L595.23,447.88 L596.56,447.9 L597.89,447.91 L599.22,447.93 L600.56,447.94 L601.89,447.97 L603.22,447.99 L604.55,448.02 L605.88,448.04 L607.21,448.07 L608.54,448.11 L609.87,448.14 L611.2,448.18 L612.53,448.22 L613.86,448.26 L615.19,448.31 L616.52,448.35 L617.85,448.4 L619.18,448.45 L620.51,448.51 L621.84,448.56 L623.17,448.62 L624.5,448.68 L625.83,448.74 L627.16,448.81 L628.49,448.87 L629.82,448.94 L631.15,449.02 L632.48,449.09 L633.81,449.17 L635.14,449.24 L636.47,449.33 L637.8,449.41 L639.13,449.49 L640.46,449.58 L641.79,449.67 L643.12,449.76 L644.45,449.86 L645.78,449.95 L647.11,450.05 L648.44,450.15 L649.77,450.26 L651.1,450.36 L652.43,450.47 L653.76,450.58 L655.09,450.69 L656.42,450.8 L657.75,450.92 L659.08,451.04 L660.41,451.16 L661.75,451.28 L663.08,451.41 L664.41,451.53 L665.74,451.66 L667.07,451.79 L668.4,451.93 L669.73,452.06 L671.06,452.2 L672.39,452.34 L673.72,452.48 L675.05,452.63 L676.38,452.77 L677.71,452.92 L679.04,453.07 L680.37,453.22 L681.7,453.38 L683.03,453.53 L684.36,453.69 L685.69,453.85 L687.02,454.01 L688.35,454.18 L689.68,454.35 L691.01,454.51 L692.34,454.68 L693.67,454.86 L695,455.03 L696.33,455.21 L697.66,455.39 L698.99,455.57 L700.32,455.75 L701.65,455.93 L702.98,456.12 L704.31,456.31 L705.64,456.5 L706.97,456.69 L708.3,456.89 L709.63,457.08 L710.96,457.28 L712.29,457.48 L713.62,457.68 L714.95,457.88 L716.28,458.09 L717.61,458.3 L718.94,458.51 L720.27,458.72 L721.6,458.93 L722.94,459.14 L724.27,459.36 L725.6,459.58 L726.93,459.8 L728.26,460.02 L729.59,460.25 L730.92,460.47 L732.25,460.7 L733.58,460.93 L734.91,461.16 L736.24,461.39 L737.57,461.62 L738.9,461.86 L740.23,462.1 L741.56,462.34 L742.89,462.58 L744.22,462.82 L745.55,463.07 L746.88,463.31 L748.21,463.56 L749.54,463.81 L750.87,464.06 L752.2,464.31 L753.53,464.57 L754.86,464.82 L756.19,465.08 L757.52,465.34 L758.85,465.6 L760.18,465.86 L761.51,466.13 L762.84,466.39 L764.17,466.66 L765.5,466.93 L766.83,467.2 L768.16,467.47 L769.49,467.75 L770.82,468.02 L772.15,468.3 L773.48,468.57 L774.81,468.85 L776.14,469.14 L777.47,469.42 L778.8,469.7 L780.13,469.99 L781.46,470.27 L782.79,470.56 L784.13,470.85 L785.46,471.14 L786.79,471.44 L788.12,471.73 L789.45,472.03 L790.78,472.32 L792.11,472.62 L793.44,472.92 L794.77,473.22 L796.1,473.52 L797.43,473.83 L798.76,474.13 L800.09,474.44 L801.42,474.75 L802.75,475.05 L804.08,475.36 L805.41,475.68 L806.74,475.99 L808.07,476.3 L809.4,476.62 L810.73,476.94 L812.06,477.25 L813.39,477.57 L814.72,477.89 L816.05,478.22 L817.38,478.54 L818.71,478.86 L820.04,479.19 L821.37,479.51 L822.7,479.84 L824.03,480.17 L825.36,480.5 L826.69,480.83 L828.02,481.17 L829.35,481.5 L830.68,481.83 L832.01,482.17 L833.34,482.51 L834.67,482.85 L836,483.19 L837.33,483.53 L838.66,483.87 L839.99,484.21 L841.32,484.55 L842.65,484.9 L843.98,485.25 L845.32,485.59 L846.65,485.94 L847.98,486.29 L849.31,486.64 L850.64,486.99 L851.97,487.34 L853.3,487.7 L854.63,488.05 L855.96,488.41 L857.29,488.76 L858.62,489.12 L859.95,489.48 L861.28,489.84 L862.61,490.2 L863.94,490.56 L865.27,490.92 L866.6,491.29 L867.93,491.65 L869.26,492.01 L870.59,492.38 L871.92,492.75 L873.25,493.12 L874.58,493.48 L875.91,493.85 L877.24,494.22 L878.57,494.6 L879.9,494.97 L881.23,495.34 L882.56,495.72 L883.89,496.09 L885.22,496.47 L886.55,496.84 L887.88,497.22 L889.21,497.6 L890.54,497.98 L891.87,498.36 L893.2,498.74 L894.53,499.12 L895.86,499.5 L897.19,499.89 L898.52,500.27 L899.85,500.66 L901.18,501.04 L902.51,501.43 L903.84,501.82 L905.17,502.2 L906.51,502.59 L907.84,502.98 L909.17,503.37 L910.5,503.76 L911.83,504.16 L913.16,504.55 L914.49,504.94 L915.82,505.33 L917.15,505.73 L918.48,506.12 L919.81,506.52 L921.14,506.92 L922.47,507.32 L923.8,507.71 L925.13,508.11 L926.46,508.51 L927.79,508.91 L929.12,509.31 L930.45,509.71 L931.78,510.12 L933.11,510.52 L934.44,510.92 L935.77,511.33 L937.1,511.73" fill="none" stroke="#4cb810" stroke-width="1.7" stroke-dasharray="7.2 3.4 1.3 4.4"/>
<path d="M140.3,232.68 L141.63,230.18 L142.96,227.68 L144.29,225.17 L145.62,222.67 L146.95,220.18 L148.28,217.68 L149.61,215.19 L150.94,212.71 L152.27,210.23 L153.6,207.75 L154.93,205.28 L156.26,202.82 L157.59,200.36 L158.92,197.91 L160.25,195.46 L161.58,193.03 L162.91,190.6 L164.24,188.19 L165.57,185.78 L166.9,183.38 L168.23,181 L169.56,178.63 L170.89,176.27 L172.23,173.93 L173.56,171.6 L174.89,169.29 L176.22,167 L177.55,164.73 L178.88,162.47 L180.21,160.24 L181.54,158.04 L182.87,155.86 L184.2,153.7 L185.53,151.58 L186.86,149.48 L188.19,147.42 L189.52,145.4 L190.85,143.41 L192.18,141.46 L193.51,139.56 L194.84,137.7 L196.17,135.89 L197.5,134.12 L198.83,132.41 L200.16,130.76 L201.49,129.16 L202.82,127.63 L204.15,126.16 L205.48,124.75 L206.81,123.41 L208.14,122.14 L209.47,120.94 L210.8,119.82 L212.13,118.77 L213.46,117.8 L214.79,116.9 L216.12,116.09 L217.45,115.35 L218.78,114.68 L220.11,114.1 L221.44,113.59 L222.77,113.16 L224.1,112.81 L225.43,112.52 L226.76,112.31 L228.09,112.17 L229.42,112.1 L230.75,112.1 L232.08,112.15 L233.42,112.27 L234.75,112.45 L236.08,112.69 L237.41,112.98 L238.74,113.33 L240.07,113.72 L241.4,114.16 L242.73,114.64 L244.06,115.17 L245.39,115.74 L246.72,116.35 L248.05,116.99 L249.38,117.67 L250.71,118.38 L252.04,119.12 L253.37,119.89 L254.7,120.68 L256.03,121.5 L257.36,122.35 L258.69,123.21 L260.02,124.1 L261.35,125.01 L262.68,125.94 L264.01,126.88 L265.34,127.84 L266.67,128.82 L268,129.81 L269.33,130.81 L270.66,131.83 L271.99,132.86 L273.32,133.9 L274.65,134.95 L275.98,136.01 L277.31,137.09 L278.64,138.17 L279.97,139.26 L281.3,140.36 L282.63,141.47 L283.96,142.59 L285.29,143.71 L286.62,144.84 L287.95,145.98 L289.28,147.12 L290.61,148.28 L291.94,149.44 L293.27,150.6 L294.61,151.77 L295.94,152.95 L297.27,154.13 L298.6,155.32 L299.93,156.51 L301.26,157.71 L302.59,158.91 L303.92,160.12 L305.25,161.33 L306.58,162.55 L307.91,163.77 L309.24,164.99 L310.57,166.22 L311.9,167.45 L313.23,168.68 L314.56,169.92 L315.89,171.16 L317.22,172.4 L318.55,173.64 L319.88,174.89 L321.21,176.14 L322.54,177.39 L323.87,178.64 L325.2,179.89 L326.53,181.14 L327.86,182.4 L329.19,183.65 L330.52,184.91 L331.85,186.17 L333.18,187.43 L334.51,188.69 L335.84,189.94 L337.17,191.2 L338.5,192.46 L339.83,193.73 L341.16,194.99 L342.49,196.25 L343.82,197.51 L345.15,198.77 L346.48,200.04 L347.81,201.3 L349.14,202.56 L350.47,203.83 L351.8,205.09 L353.13,206.36 L354.46,207.62 L355.8,208.89 L357.13,210.16 L358.46,211.43 L359.79,212.69 L361.12,213.96 L362.45,215.24 L363.78,216.51 L365.11,217.78 L366.44,219.05 L367.77,220.33 L369.1,221.6 L370.43,222.88 L371.76,224.16 L373.09,225.44 L374.42,226.72 L375.75,228 L377.08,229.28 L378.41,230.56 L379.74,231.85 L381.07,233.13 L382.4,234.41 L383.73,235.7 L385.06,236.98 L386.39,238.27 L387.72,239.55 L389.05,240.83 L390.38,242.12 L391.71,243.4 L393.04,244.68 L394.37,245.96 L395.7,247.25 L397.03,248.53 L398.36,249.8 L399.69,251.08 L401.02,252.36 L402.35,253.63 L403.68,254.91 L405.01,256.18 L406.34,257.45 L407.67,258.72 L409,259.99 L410.33,261.26 L411.66,262.52 L412.99,263.79 L414.32,265.05 L415.65,266.31 L416.99,267.57 L418.32,268.83 L419.65,270.09 L420.98,271.35 L422.31,272.61 L423.64,273.87 L424.97,275.12 L426.3,276.38 L427.63,277.63 L428.96,278.89 L430.29,280.15 L431.62,281.4 L432.95,282.66 L434.28,283.91 L435.61,285.17 L436.94,286.42 L438.27,287.67 L439.6,288.93 L440.93,290.18 L442.26,291.44 L443.59,292.69 L444.92,293.95 L446.25,295.2 L447.58,296.45 L448.91,297.71 L450.24,298.96 L451.57,300.21 L452.9,301.46 L454.23,302.71 L455.56,303.96 L456.89,305.21 L458.22,306.46 L459.55,307.71 L460.88,308.96 L462.21,310.21 L463.54,311.45 L464.87,312.7 L466.2,313.95 L467.53,315.19 L468.86,316.44 L470.19,317.68 L471.52,318.93 L472.85,320.17 L474.18,321.41 L475.51,322.66 L476.84,323.9 L478.18,325.14 L479.51,326.38 L480.84,327.63 L482.17,328.87 L483.5,330.11 L484.83,331.35 L486.16,332.59 L487.49,333.83 L488.82,335.07 L490.15,336.32 L491.48,337.56 L492.81,338.8 L494.14,340.04 L495.47,341.28 L496.8,342.52 L498.13,343.76 L499.46,345 L500.79,346.25 L502.12,347.49 L503.45,348.73 L504.78,349.97 L506.11,351.21 L507.44,352.46 L508.77,353.7 L510.1,354.94 L511.43,356.19 L512.76,357.43 L514.09,358.67 L515.42,359.92 L516.75,361.16 L518.08,362.41 L519.41,363.66 L520.74,364.9 L522.07,366.15 L523.4,367.4 L524.73,368.65 L526.06,369.9 L527.39,371.15 L528.72,372.4 L530.05,373.65 L531.38,374.91 L532.71,376.16 L534.04,377.42 L535.37,378.68 L536.7,379.93 L538.03,381.19 L539.37,382.45 L540.7,383.72 L542.03,384.98 L543.36,386.25 L544.69,387.51 L546.02,388.78 L547.35,390.05 L548.68,391.32 L550.01,392.59 L551.34,393.86 L552.67,395.13 L554,396.41 L555.33,397.68 L556.66,398.96 L557.99,400.24 L559.32,401.51 L560.65,402.79 L561.98,404.07 L563.31,405.35 L564.64,406.63 L565.97,407.91 L567.3,409.19 L568.63,410.47 L569.96,411.75 L571.29,413.03 L572.62,414.31 L573.95,415.59 L575.28,416.87 L576.61,418.15 L577.94,419.42 L579.27,420.7 L580.6,421.98 L581.93,423.25 L583.26,424.53 L584.59,425.8 L585.92,427.08 L587.25,428.35 L588.58,429.62 L589.91,430.9 L591.24,432.17 L592.57,433.44 L593.9,434.71 L595.23,435.98 L596.56,437.25 L597.89,438.51 L599.22,439.78 L600.56,441.05 L601.89,442.31 L603.22,443.58 L604.55,444.84 L605.88,446.11 L607.21,447.37 L608.54,448.64 L609.87,449.9 L611.2,451.17 L612.53,452.43 L613.86,453.69 L615.19,454.96 L616.52,456.22 L617.85,457.48 L619.18,458.74 L620.51,460.01 L621.84,461.27 L623.17,462.53 L624.5,463.8 L625.83,465.06 L627.16,466.32 L628.49,467.59 L629.82,468.85 L631.15,470.11 L632.48,471.38 L633.81,472.64 L635.14,473.9 L636.47,475.17 L637.8,476.43 L639.13,477.7 L640.46,478.96 L641.79,480.22 L643.12,481.49 L644.45,482.75 L645.78,484.01 L647.11,485.27 L648.44,486.54 L649.77,487.8 L651.1,489.06 L652.43,490.32 L653.76,491.58 L655.09,492.85 L656.42,494.11 L657.75,495.37 L659.08,496.63 L660.41,497.89 L661.75,499.15 L663.08,500.41 L664.41,501.67 L665.74,502.93 L667.07,504.18 L668.4,505.44 L669.73,506.7 L671.06,507.96 L672.39,509.22 L673.72,510.48 L675.05,511.74 L676.38,513 L677.71,514.26 L679.04,515.51 L680.37,516.77 L681.7,518.03 L683.03,519.29 L684.36,520.55 L685.69,521.82 L687.02,523.08 L688.35,524.34 L689.68,525.6 L691.01,526.87 L692.34,528.13 L693.67,529.39 L695,530.66 L696.33,531.93 L697.66,533.19 L698.99,534.46 L700.32,535.73 L701.65,537 L702.98,538.27 L704.31,539.54 L705.64,540.81 L706.97,542.08 L708.3,543.35 L709.63,544.62 L710.96,545.9 L712.29,547.17 L713.62,548.44 L714.95,549.72 L716.28,550.99 L717.61,552.27 L718.94,553.54 L720.27,554.82 L721.6,556.09 L722.94,557.37 L724.27,558.64 L725.6,559.92 L726.93,561.19 L728.26,562.47 L729.59,563.74 L730.92,565.02 L732.25,566.29 L733.58,567.57 L734.91,568.84 L736.24,570.12 L737.57,571.39 L738.9,572.67 L740.23,573.94 L741.56,575.22 L742.89,576.49 L744.22,577.77 L745.55,579.04 L746.88,580.31 L748.21,581.59 L749.54,582.86 L750.87,584.14 L752.2,585.41 L753.53,586.68 L754.86,587.96 L756.19,589.23 L757.52,590.51 L758.85,591.78 L760.18,593.05 L761.51,594.33 L762.84,595.6 L764.17,596.88 L765.5,598.15 L766.83,599.42 L768.16,600.7 L769.49,601.97 L770.82,603.24 L772.15,604.52 L773.48,605.79 L774.81,607.06 L776.14,608.33 L777.47,609.6 L778.8,610.87 L780.13,612.14 L781.46,613.41 L782.79,614.68 L784.13,615.95 L785.46,617.22 L786.79,618.48 L788.12,619.75 L789.45,621.01 L790.78,622.27 L792.11,623.53 L793.44,624.79 L794.77,626.05 L796.1,627.31 L797.43,628.56 L798.76,629.82 L800.09,631.07 L801.42,632.32 L802.75,633.58 L804.08,634.83 L805.41,636.08 L806.74,637.33 L808.07,638.58 L809.4,639.82 L810.73,641.07 L812.06,642.32 L813.39,643.57 L814.72,644.82 L816.05,646.06 L817.38,647.31 L818.71,648.56 L820.04,649.81 L821.37,651.05 L822.7,652.3 L824.03,653.55 L825.36,654.81 L826.69,656.07 L828.02,657.34 L829.35,658.6 L830.68,659.86 L832.01,661.13 L833.34,662.39 L834.67,663.65 L836,664.91 L837.33,666.17 L838.66,667.43 L839.99,668.69 L841.32,669.95 L842.65,671.21 L843.98,672.47 L845.32,673.73 L846.65,674.99 L847.98,676.25 L849.31,677.51 L850.64,678.77 L851.97,680.04 L853.3,681.3 L854.63,682.56 L855.96,683.82 L857.29,685.08 L858.62,686.34 L859.95,687.6 L861.28,688.86 L862.61,690.12 L863.94,691.38 L865.27,692.64 L866.6,693.91 L867.93,695.17 L869.26,696.43 L870.59,697.69 L871.92,698.95 L873.25,700.22 L874.58,701.48 L875.91,702.74 L877.24,704 L878.57,705.27 L879.9,706.53 L881.23,707.79 L882.56,709.06 L883.89,710.32 L885.22,711.58 L886.55,712.85 L887.88,714.11 L889.21,715.37 L890.54,716.64 L891.87,717.9 L893.2,719.16 L894.53,720.43 L895.86,721.69 L897.19,722.95 L898.52,724.22 L899.85,725.48 L901.18,726.74 L902.51,728.01 L903.84,729.27 L905.17,730.54 L906.51,731.8 L907.84,733.06 L909.17,734.33 L910.5,735.59 L911.83,736.86 L913.16,738.12 L914.49,739.38 L915.82,740.65 L917.15,741.91 L918.48,743.17 L919.81,744.44 L921.14,745.7 L922.47,746.97 L923.8,748.23 L925.13,749.49 L926.46,750.76 L927.79,752.02 L929.12,753.28 L930.45,754.55 L931.78,755.81 L933.11,757.08 L934.44,758.34 L935.77,759.6 L937.1,760.87" fill="none" stroke="#cc2018" stroke-width="1.7" stroke-dasharray="7.5 5.8" stroke-dashoffset="4.90"/>
<path d="M140.3,700.87 L141.63,699.92 L142.96,698.97 L144.29,698.03 L145.62,697.08 L146.95,696.14 L148.28,695.19 L149.61,694.24 L150.94,693.3 L152.27,692.35 L153.6,691.41 L154.93,690.46 L156.26,689.52 L157.59,688.57 L158.92,687.63 L160.25,686.68 L161.58,685.74 L162.91,684.8 L164.24,683.85 L165.57,682.91 L166.9,681.96 L168.23,681.02 L169.56,680.07 L170.89,679.13 L172.23,678.19 L173.56,677.24 L174.89,676.3 L176.22,675.36 L177.55,674.41 L178.88,673.47 L180.21,672.53 L181.54,671.59 L182.87,670.64 L184.2,669.7 L185.53,668.76 L186.86,667.82 L188.19,666.88 L189.52,665.93 L190.85,664.99 L192.18,664.05 L193.51,663.11 L194.84,662.17 L196.17,661.23 L197.5,660.29 L198.83,659.35 L200.16,658.41 L201.49,657.47 L202.82,656.53 L204.15,655.59 L205.48,654.65 L206.81,653.71 L208.14,652.77 L209.47,651.83 L210.8,650.9 L212.13,649.96 L213.46,649.02 L214.79,648.08 L216.12,647.14 L217.45,646.21 L218.78,645.27 L220.11,644.33 L221.44,643.4 L222.77,642.46 L224.1,641.52 L225.43,640.59 L226.76,639.65 L228.09,638.72 L229.42,637.78 L230.75,636.85 L232.08,635.91 L233.42,634.98 L234.75,634.05 L236.08,633.11 L237.41,632.18 L238.74,631.25 L240.07,630.31 L241.4,629.38 L242.73,628.45 L244.06,627.52 L245.39,626.59 L246.72,625.66 L248.05,624.73 L249.38,623.8 L250.71,622.87 L252.04,621.94 L253.37,621.01 L254.7,620.08 L256.03,619.15 L257.36,618.23 L258.69,617.3 L260.02,616.37 L261.35,615.45 L262.68,614.52 L264.01,613.59 L265.34,612.67 L266.67,611.75 L268,610.82 L269.33,609.9 L270.66,608.97 L271.99,608.05 L273.32,607.13 L274.65,606.21 L275.98,605.29 L277.31,604.37 L278.64,603.45 L279.97,602.53 L281.3,601.61 L282.63,600.69 L283.96,599.77 L285.29,598.86 L286.62,597.94 L287.95,597.02 L289.28,596.11 L290.61,595.19 L291.94,594.28 L293.27,593.37 L294.61,592.45 L295.94,591.54 L297.27,590.63 L298.6,589.72 L299.93,588.81 L301.26,587.9 L302.59,586.99 L303.92,586.08 L305.25,585.18 L306.58,584.27 L307.91,583.37 L309.24,582.46 L310.57,581.56 L311.9,580.66 L313.23,579.75 L314.56,578.85 L315.89,577.95 L317.22,577.05 L318.55,576.15 L319.88,575.26 L321.21,574.36 L322.54,573.46 L323.87,572.57 L325.2,571.68 L326.53,570.78 L327.86,569.89 L329.19,569 L330.52,568.11 L331.85,567.22 L333.18,566.34 L334.51,565.45 L335.84,564.56 L337.17,563.68 L338.5,562.8 L339.83,561.91 L341.16,561.03 L342.49,560.16 L343.82,559.28 L345.15,558.4 L346.48,557.53 L347.81,556.65 L349.14,555.78 L350.47,554.91 L351.8,554.04 L353.13,553.17 L354.46,552.3 L355.8,551.44 L357.13,550.57 L358.46,549.71 L359.79,548.85 L361.12,547.99 L362.45,547.13 L363.78,546.27 L365.11,545.42 L366.44,544.56 L367.77,543.71 L369.1,542.86 L370.43,542.01 L371.76,541.17 L373.09,540.32 L374.42,539.48 L375.75,538.64 L377.08,537.8 L378.41,536.96 L379.74,536.13 L381.07,535.3 L382.4,534.47 L383.73,533.64 L385.06,532.81 L386.39,531.98 L387.72,531.16 L389.05,530.34 L390.38,529.52 L391.71,528.71 L393.04,527.89 L394.37,527.08 L395.7,526.27 L397.03,525.47 L398.36,524.66 L399.69,523.86 L401.02,523.06 L402.35,522.26 L403.68,521.47 L405.01,520.68 L406.34,519.89 L407.67,519.1 L409,518.32 L410.33,517.54 L411.66,516.76 L412.99,515.99 L414.32,515.22 L415.65,514.45 L416.99,513.68 L418.32,512.92 L419.65,512.16 L420.98,511.4 L422.31,510.65 L423.64,509.9 L424.97,509.15 L426.3,508.41 L427.63,507.67 L428.96,506.94 L430.29,506.2 L431.62,505.47 L432.95,504.75 L434.28,504.03 L435.61,503.31 L436.94,502.59 L438.27,501.88 L439.6,501.18 L440.93,500.47 L442.26,499.78 L443.59,499.08 L444.92,498.39 L446.25,497.7 L447.58,497.02 L448.91,496.34 L450.24,495.67 L451.57,495 L452.9,494.34 L454.23,493.68 L455.56,493.02 L456.89,492.37 L458.22,491.72 L459.55,491.08 L460.88,490.45 L462.21,489.82 L463.54,489.19 L464.87,488.57 L466.2,487.95 L467.53,487.34 L468.86,486.73 L470.19,486.13 L471.52,485.54 L472.85,484.95 L474.18,484.36 L475.51,483.78 L476.84,483.21 L478.18,482.64 L479.51,482.08 L480.84,481.53 L482.17,480.98 L483.5,480.43 L484.83,479.89 L486.16,479.36 L487.49,478.84 L488.82,478.32 L490.15,477.8 L491.48,477.3 L492.81,476.8 L494.14,476.3 L495.47,475.81 L496.8,475.33 L498.13,474.86 L499.46,474.39 L500.79,473.93 L502.12,473.48 L503.45,473.03 L504.78,472.59 L506.11,472.16 L507.44,471.73 L508.77,471.32 L510.1,470.9 L511.43,470.5 L512.76,470.1 L514.09,469.72 L515.42,469.33 L516.75,468.96 L518.08,468.6 L519.41,468.24 L520.74,467.89 L522.07,467.54 L523.4,467.21 L524.73,466.88 L526.06,466.56 L527.39,466.25 L528.72,465.95 L530.05,465.66 L531.38,465.37 L532.71,465.09 L534.04,464.82 L535.37,464.56 L536.7,464.31 L538.03,464.06 L539.37,463.83 L540.7,463.6 L542.03,463.38 L543.36,463.17 L544.69,462.97 L546.02,462.77 L547.35,462.59 L548.68,462.41 L550.01,462.24 L551.34,462.09 L552.67,461.94 L554,461.8 L555.33,461.66 L556.66,461.54 L557.99,461.43 L559.32,461.32 L560.65,461.23 L561.98,461.14 L563.31,461.06 L564.64,460.99 L565.97,460.93 L567.3,460.88 L568.63,460.84 L569.96,460.8 L571.29,460.78 L572.62,460.76 L573.95,460.76 L575.28,460.76 L576.61,460.77 L577.94,460.79 L579.27,460.82 L580.6,460.86 L581.93,460.91 L583.26,460.97 L584.59,461.03 L585.92,461.11 L587.25,461.19 L588.58,461.29 L589.91,461.39 L591.24,461.5 L592.57,461.62 L593.9,461.74 L595.23,461.88 L596.56,462.03 L597.89,462.18 L599.22,462.34 L600.56,462.52 L601.89,462.7 L603.22,462.89 L604.55,463.08 L605.88,463.29 L607.21,463.5 L608.54,463.73 L609.87,463.96 L611.2,464.2 L612.53,464.45 L613.86,464.7 L615.19,464.97 L616.52,465.24 L617.85,465.52 L619.18,465.81 L620.51,466.11 L621.84,466.41 L623.17,466.72 L624.5,467.04 L625.83,467.37 L627.16,467.71 L628.49,468.05 L629.82,468.4 L631.15,468.76 L632.48,469.13 L633.81,469.5 L635.14,469.88 L636.47,470.27 L637.8,470.67 L639.13,471.07 L640.46,471.48 L641.79,471.9 L643.12,472.32 L644.45,472.75 L645.78,473.19 L647.11,473.63 L648.44,474.08 L649.77,474.54 L651.1,475 L652.43,475.48 L653.76,475.95 L655.09,476.44 L656.42,476.93 L657.75,477.42 L659.08,477.93 L660.41,478.43 L661.75,478.95 L663.08,479.47 L664.41,480 L665.74,480.53 L667.07,481.07 L668.4,481.61 L669.73,482.16 L671.06,482.71 L672.39,483.27 L673.72,483.84 L675.05,484.41 L676.38,484.99 L677.71,485.57 L679.04,486.16 L680.37,486.75 L681.7,487.35 L683.03,487.95 L684.36,488.56 L685.69,489.17 L687.02,489.78 L688.35,490.41 L689.68,491.03 L691.01,491.66 L692.34,492.3 L693.67,492.94 L695,493.58 L696.33,494.23 L697.66,494.88 L698.99,495.54 L700.32,496.2 L701.65,496.87 L702.98,497.54 L704.31,498.21 L705.64,498.89 L706.97,499.57 L708.3,500.26 L709.63,500.95 L710.96,501.64 L712.29,502.34 L713.62,503.04 L714.95,503.74 L716.28,504.45 L717.61,505.16 L718.94,505.87 L720.27,506.59 L721.6,507.31 L722.94,508.03 L724.27,508.76 L725.6,509.49 L726.93,510.23 L728.26,510.96 L729.59,511.7 L730.92,512.45 L732.25,513.19 L733.58,513.94 L734.91,514.69 L736.24,515.45 L737.57,516.21 L738.9,516.97 L740.23,517.73 L741.56,518.49 L742.89,519.26 L744.22,520.03 L745.55,520.81 L746.88,521.58 L748.21,522.36 L749.54,523.14 L750.87,523.92 L752.2,524.71 L753.53,525.49 L754.86,526.28 L756.19,527.08 L757.52,527.87 L758.85,528.67 L760.18,529.47 L761.51,530.27 L762.84,531.07 L764.17,531.87 L765.5,532.68 L766.83,533.49 L768.16,534.3 L769.49,535.11 L770.82,535.93 L772.15,536.74 L773.48,537.56 L774.81,538.38 L776.14,539.2 L777.47,540.02 L778.8,540.85 L780.13,541.68 L781.46,542.5 L782.79,543.33 L784.13,544.17 L785.46,545 L786.79,545.83 L788.12,546.67 L789.45,547.51 L790.78,548.35 L792.11,549.19 L793.44,550.03 L794.77,550.87 L796.1,551.72 L797.43,552.56 L798.76,553.41 L800.09,554.26 L801.42,555.11 L802.75,555.96 L804.08,556.81 L805.41,557.66 L806.74,558.52 L808.07,559.37 L809.4,560.23 L810.73,561.09 L812.06,561.95 L813.39,562.81 L814.72,563.67 L816.05,564.53 L817.38,565.4 L818.71,566.26 L820.04,567.13 L821.37,567.99 L822.7,568.86 L824.03,569.73 L825.36,570.6 L826.69,571.47 L828.02,572.34 L829.35,573.21 L830.68,574.09 L832.01,574.96 L833.34,575.83 L834.67,576.71 L836,577.59 L837.33,578.46 L838.66,579.34 L839.99,580.22 L841.32,581.1 L842.65,581.98 L843.98,582.86 L845.32,583.74 L846.65,584.63 L847.98,585.51 L849.31,586.39 L850.64,587.28 L851.97,588.16 L853.3,589.05 L854.63,589.94 L855.96,590.82 L857.29,591.71 L858.62,592.6 L859.95,593.49 L861.28,594.38 L862.61,595.27 L863.94,596.16 L865.27,597.05 L866.6,597.94 L867.93,598.83 L869.26,599.73 L870.59,600.62 L871.92,601.52 L873.25,602.41 L874.58,603.3 L875.91,604.2 L877.24,605.1 L878.57,605.99 L879.9,606.89 L881.23,607.79 L882.56,608.69 L883.89,609.58 L885.22,610.48 L886.55,611.38 L887.88,612.28 L889.21,613.18 L890.54,614.08 L891.87,614.98 L893.2,615.88 L894.53,616.79 L895.86,617.69 L897.19,618.59 L898.52,619.49 L899.85,620.4 L901.18,621.3 L902.51,622.2 L903.84,623.11 L905.17,624.01 L906.51,624.92 L907.84,625.82 L909.17,626.73 L910.5,627.63 L911.83,628.54 L913.16,629.45 L914.49,630.35 L915.82,631.26 L917.15,632.17 L918.48,633.07 L919.81,633.98 L921.14,634.89 L922.47,635.8 L923.8,636.71 L925.13,637.62 L926.46,638.52 L927.79,639.43 L929.12,640.34 L930.45,641.25 L931.78,642.16 L933.11,643.07 L934.44,643.98 L935.77,644.89 L937.1,645.81" fill="none" stroke="#cc2018" stroke-width="1.7" stroke-dasharray="7.5 5.8"/>
<path d="M140.3,720.99 L141.63,720.36 L142.96,719.72 L144.29,719.09 L145.62,718.45 L146.95,717.82 L148.28,717.18 L149.61,716.55 L150.94,715.91 L152.27,715.27 L153.6,714.64 L154.93,714 L156.26,713.37 L157.59,712.73 L158.92,712.1 L160.25,711.46 L161.58,710.83 L162.91,710.19 L164.24,709.56 L165.57,708.92 L166.9,708.29 L168.23,707.66 L169.56,707.02 L170.89,706.39 L172.23,705.75 L173.56,705.12 L174.89,704.48 L176.22,703.85 L177.55,703.21 L178.88,702.58 L180.21,701.95 L181.54,701.31 L182.87,700.68 L184.2,700.05 L185.53,699.41 L186.86,698.78 L188.19,698.14 L189.52,697.51 L190.85,696.88 L192.18,696.24 L193.51,695.61 L194.84,694.98 L196.17,694.34 L197.5,693.71 L198.83,693.08 L200.16,692.44 L201.49,691.81 L202.82,691.18 L204.15,690.55 L205.48,689.91 L206.81,689.28 L208.14,688.65 L209.47,688.02 L210.8,687.38 L212.13,686.75 L213.46,686.12 L214.79,685.49 L216.12,684.86 L217.45,684.22 L218.78,683.59 L220.11,682.96 L221.44,682.33 L222.77,681.7 L224.1,681.07 L225.43,680.43 L226.76,679.8 L228.09,679.17 L229.42,678.54 L230.75,677.91 L232.08,677.28 L233.42,676.65 L234.75,676.02 L236.08,675.39 L237.41,674.76 L238.74,674.13 L240.07,673.5 L241.4,672.87 L242.73,672.24 L244.06,671.61 L245.39,670.98 L246.72,670.35 L248.05,669.72 L249.38,669.09 L250.71,668.46 L252.04,667.83 L253.37,667.2 L254.7,666.57 L256.03,665.94 L257.36,665.32 L258.69,664.69 L260.02,664.06 L261.35,663.43 L262.68,662.8 L264.01,662.17 L265.34,661.55 L266.67,660.92 L268,660.29 L269.33,659.66 L270.66,659.04 L271.99,658.41 L273.32,657.78 L274.65,657.16 L275.98,656.53 L277.31,655.9 L278.64,655.28 L279.97,654.65 L281.3,654.03 L282.63,653.4 L283.96,652.77 L285.29,652.15 L286.62,651.52 L287.95,650.9 L289.28,650.27 L290.61,649.65 L291.94,649.02 L293.27,648.4 L294.61,647.77 L295.94,647.15 L297.27,646.53 L298.6,645.9 L299.93,645.28 L301.26,644.66 L302.59,644.03 L303.92,643.41 L305.25,642.79 L306.58,642.16 L307.91,641.54 L309.24,640.92 L310.57,640.3 L311.9,639.68 L313.23,639.06 L314.56,638.43 L315.89,637.81 L317.22,637.19 L318.55,636.57 L319.88,635.95 L321.21,635.33 L322.54,634.71 L323.87,634.09 L325.2,633.47 L326.53,632.85 L327.86,632.23 L329.19,631.61 L330.52,631 L331.85,630.38 L333.18,629.76 L334.51,629.14 L335.84,628.52 L337.17,627.91 L338.5,627.29 L339.83,626.67 L341.16,626.06 L342.49,625.44 L343.82,624.82 L345.15,624.21 L346.48,623.59 L347.81,622.98 L349.14,622.36 L350.47,621.75 L351.8,621.13 L353.13,620.52 L354.46,619.91 L355.8,619.29 L357.13,618.68 L358.46,618.07 L359.79,617.46 L361.12,616.84 L362.45,616.23 L363.78,615.62 L365.11,615.01 L366.44,614.4 L367.77,613.79 L369.1,613.18 L370.43,612.57 L371.76,611.96 L373.09,611.35 L374.42,610.74 L375.75,610.13 L377.08,609.53 L378.41,608.92 L379.74,608.31 L381.07,607.7 L382.4,607.1 L383.73,606.49 L385.06,605.89 L386.39,605.28 L387.72,604.68 L389.05,604.07 L390.38,603.47 L391.71,602.86 L393.04,602.26 L394.37,601.66 L395.7,601.05 L397.03,600.45 L398.36,599.85 L399.69,599.25 L401.02,598.65 L402.35,598.05 L403.68,597.45 L405.01,596.85 L406.34,596.25 L407.67,595.65 L409,595.06 L410.33,594.46 L411.66,593.86 L412.99,593.26 L414.32,592.67 L415.65,592.07 L416.99,591.48 L418.32,590.88 L419.65,590.29 L420.98,589.7 L422.31,589.1 L423.64,588.51 L424.97,587.92 L426.3,587.33 L427.63,586.74 L428.96,586.15 L430.29,585.56 L431.62,584.97 L432.95,584.38 L434.28,583.8 L435.61,583.21 L436.94,582.62 L438.27,582.04 L439.6,581.45 L440.93,580.87 L442.26,580.28 L443.59,579.7 L444.92,579.12 L446.25,578.53 L447.58,577.95 L448.91,577.37 L450.24,576.79 L451.57,576.21 L452.9,575.63 L454.23,575.06 L455.56,574.48 L456.89,573.9 L458.22,573.33 L459.55,572.75 L460.88,572.18 L462.21,571.6 L463.54,571.03 L464.87,570.46 L466.2,569.89 L467.53,569.32 L468.86,568.75 L470.19,568.18 L471.52,567.61 L472.85,567.04 L474.18,566.48 L475.51,565.91 L476.84,565.35 L478.18,564.78 L479.51,564.22 L480.84,563.66 L482.17,563.1 L483.5,562.53 L484.83,561.98 L486.16,561.42 L487.49,560.86 L488.82,560.3 L490.15,559.75 L491.48,559.19 L492.81,558.64 L494.14,558.08 L495.47,557.53 L496.8,556.98 L498.13,556.43 L499.46,555.88 L500.79,555.33 L502.12,554.79 L503.45,554.24 L504.78,553.69 L506.11,553.15 L507.44,552.61 L508.77,552.07 L510.1,551.52 L511.43,550.99 L512.76,550.45 L514.09,549.91 L515.42,549.37 L516.75,548.84 L518.08,548.3 L519.41,547.77 L520.74,547.24 L522.07,546.71 L523.4,546.18 L524.73,545.65 L526.06,545.12 L527.39,544.6 L528.72,544.07 L530.05,543.55 L531.38,543.03 L532.71,542.51 L534.04,541.99 L535.37,541.47 L536.7,540.96 L538.03,540.44 L539.37,539.93 L540.7,539.41 L542.03,538.9 L543.36,538.39 L544.69,537.88 L546.02,537.38 L547.35,536.87 L548.68,536.37 L550.01,535.87 L551.34,535.36 L552.67,534.87 L554,534.37 L555.33,533.87 L556.66,533.38 L557.99,532.88 L559.32,532.39 L560.65,531.9 L561.98,531.41 L563.31,530.92 L564.64,530.44 L565.97,529.96 L567.3,529.47 L568.63,528.99 L569.96,528.51 L571.29,528.04 L572.62,527.56 L573.95,527.09 L575.28,526.62 L576.61,526.15 L577.94,525.68 L579.27,525.21 L580.6,524.75 L581.93,524.28 L583.26,523.82 L584.59,523.36 L585.92,522.91 L587.25,522.45 L588.58,522 L589.91,521.55 L591.24,521.1 L592.57,520.65 L593.9,520.2 L595.23,519.76 L596.56,519.32 L597.89,518.88 L599.22,518.44 L600.56,518.01 L601.89,517.57 L603.22,517.14 L604.55,516.71 L605.88,516.29 L607.21,515.86 L608.54,515.44 L609.87,515.02 L611.2,514.6 L612.53,514.18 L613.86,513.77 L615.19,513.36 L616.52,512.95 L617.85,512.54 L619.18,512.14 L620.51,511.73 L621.84,511.33 L623.17,510.94 L624.5,510.54 L625.83,510.15 L627.16,509.76 L628.49,509.37 L629.82,508.99 L631.15,508.6 L632.48,508.22 L633.81,507.84 L635.14,507.47 L636.47,507.1 L637.8,506.73 L639.13,506.36 L640.46,505.99 L641.79,505.63 L643.12,505.27 L644.45,504.92 L645.78,504.56 L647.11,504.21 L648.44,503.86 L649.77,503.51 L651.1,503.17 L652.43,502.83 L653.76,502.49 L655.09,502.16 L656.42,501.83 L657.75,501.5 L659.08,501.17 L660.41,500.85 L661.75,500.53 L663.08,500.21 L664.41,499.89 L665.74,499.58 L667.07,499.27 L668.4,498.97 L669.73,498.67 L671.06,498.37 L672.39,498.07 L673.72,497.78 L675.05,497.49 L676.38,497.2 L677.71,496.91 L679.04,496.63 L680.37,496.36 L681.7,496.08 L683.03,495.81 L684.36,495.54 L685.69,495.28 L687.02,495.01 L688.35,494.76 L689.68,494.5 L691.01,494.25 L692.34,494 L693.67,493.76 L695,493.51 L696.33,493.27 L697.66,493.04 L698.99,492.81 L700.32,492.58 L701.65,492.35 L702.98,492.13 L704.31,491.92 L705.64,491.7 L706.97,491.49 L708.3,491.28 L709.63,491.08 L710.96,490.88 L712.29,490.68 L713.62,490.49 L714.95,490.3 L716.28,490.11 L717.61,489.93 L718.94,489.75 L720.27,489.58 L721.6,489.4 L722.94,489.24 L724.27,489.07 L725.6,488.91 L726.93,488.75 L728.26,488.6 L729.59,488.45 L730.92,488.31 L732.25,488.16 L733.58,488.03 L734.91,487.89 L736.24,487.76 L737.57,487.63 L738.9,487.51 L740.23,487.39 L741.56,487.28 L742.89,487.16 L744.22,487.06 L745.55,486.95 L746.88,486.85 L748.21,486.75 L749.54,486.66 L750.87,486.57 L752.2,486.49 L753.53,486.41 L754.86,486.33 L756.19,486.26 L757.52,486.19 L758.85,486.12 L760.18,486.06 L761.51,486 L762.84,485.95 L764.17,485.9 L765.5,485.85 L766.83,485.81 L768.16,485.77 L769.49,485.74 L770.82,485.71 L772.15,485.68 L773.48,485.66 L774.81,485.64 L776.14,485.63 L777.47,485.62 L778.8,485.61 L780.13,485.61 L781.46,485.61 L782.79,485.62 L784.13,485.63 L785.46,485.64 L786.79,485.66 L788.12,485.68 L789.45,485.7 L790.78,485.73 L792.11,485.76 L793.44,485.8 L794.77,485.84 L796.1,485.89 L797.43,485.93 L798.76,485.99 L800.09,486.04 L801.42,486.1 L802.75,486.17 L804.08,486.24 L805.41,486.31 L806.74,486.38 L808.07,486.46 L809.4,486.55 L810.73,486.63 L812.06,486.73 L813.39,486.82 L814.72,486.92 L816.05,487.02 L817.38,487.13 L818.71,487.24 L820.04,487.36 L821.37,487.47 L822.7,487.6 L824.03,487.72 L825.36,487.85 L826.69,487.98 L828.02,488.12 L829.35,488.26 L830.68,488.41 L832.01,488.56 L833.34,488.71 L834.67,488.86 L836,489.02 L837.33,489.19 L838.66,489.35 L839.99,489.52 L841.32,489.7 L842.65,489.87 L843.98,490.06 L845.32,490.24 L846.65,490.43 L847.98,490.62 L849.31,490.82 L850.64,491.02 L851.97,491.22 L853.3,491.43 L854.63,491.64 L855.96,491.85 L857.29,492.07 L858.62,492.29 L859.95,492.51 L861.28,492.74 L862.61,492.97 L863.94,493.2 L865.27,493.44 L866.6,493.68 L867.93,493.92 L869.26,494.17 L870.59,494.42 L871.92,494.68 L873.25,494.93 L874.58,495.2 L875.91,495.46 L877.24,495.73 L878.57,496 L879.9,496.27 L881.23,496.55 L882.56,496.83 L883.89,497.11 L885.22,497.4 L886.55,497.69 L887.88,497.98 L889.21,498.27 L890.54,498.57 L891.87,498.87 L893.2,499.18 L894.53,499.49 L895.86,499.8 L897.19,500.11 L898.52,500.43 L899.85,500.75 L901.18,501.07 L902.51,501.4 L903.84,501.72 L905.17,502.06 L906.51,502.39 L907.84,502.73 L909.17,503.07 L910.5,503.41 L911.83,503.75 L913.16,504.1 L914.49,504.45 L915.82,504.81 L917.15,505.16 L918.48,505.52 L919.81,505.88 L921.14,506.25 L922.47,506.61 L923.8,506.98 L925.13,507.35 L926.46,507.73 L927.79,508.11 L929.12,508.49 L930.45,508.87 L931.78,509.25 L933.11,509.64 L934.44,510.03 L935.77,510.42 L937.1,510.82" fill="none" stroke="#cc2018" stroke-width="1.7" stroke-dasharray="7.5 5.8"/>
</g>
<rect x="140.3" y="3.5" width="796.8" height="585.6" fill="none" stroke="#000" stroke-width="2"/>
<path d="M173.6,589.1v-5M173.6,3.5v5M206.8,589.1v-10M206.8,3.5v10M240,589.1v-5M240,3.5v5M273.2,589.1v-10M273.2,3.5v10M306.4,589.1v-5M306.4,3.5v5M339.6,589.1v-10M339.6,3.5v10M372.8,589.1v-5M372.8,3.5v5M406,589.1v-10M406,3.5v10M439.2,589.1v-5M439.2,3.5v5M472.4,589.1v-10M472.4,3.5v10M505.6,589.1v-5M505.6,3.5v5M538.8,589.1v-10M538.8,3.5v10M572,589.1v-5M572,3.5v5M605.2,589.1v-10M605.2,3.5v10M638.4,589.1v-5M638.4,3.5v5M671.6,589.1v-10M671.6,3.5v10M704.8,589.1v-5M704.8,3.5v5M738,589.1v-10M738,3.5v10M771.2,589.1v-5M771.2,3.5v5M804.4,589.1v-10M804.4,3.5v10M837.6,589.1v-5M837.6,3.5v5M870.8,589.1v-10M870.8,3.5v10M904,589.1v-5M904,3.5v5M140.3,551.54h5M937.1,551.54h-5M140.3,529.62h5M937.1,529.62h-5M140.3,514.07h5M937.1,514.07h-5M140.3,502.01h5M937.1,502.01h-5M140.3,492.16h5M937.1,492.16h-5M140.3,483.83h5M937.1,483.83h-5M140.3,476.61h5M937.1,476.61h-5M140.3,470.24h5M937.1,470.24h-5M140.3,464.55h10M937.1,464.55h-10M140.3,427.09h5M937.1,427.09h-5M140.3,405.17h5M937.1,405.17h-5M140.3,389.62h5M937.1,389.62h-5M140.3,377.56h5M937.1,377.56h-5M140.3,367.71h5M937.1,367.71h-5M140.3,359.38h5M937.1,359.38h-5M140.3,352.16h5M937.1,352.16h-5M140.3,345.79h5M937.1,345.79h-5M140.3,340.1h10M937.1,340.1h-10M140.3,302.64h5M937.1,302.64h-5M140.3,280.72h5M937.1,280.72h-5M140.3,265.17h5M937.1,265.17h-5M140.3,253.11h5M937.1,253.11h-5M140.3,243.26h5M937.1,243.26h-5M140.3,234.93h5M937.1,234.93h-5M140.3,227.71h5M937.1,227.71h-5M140.3,221.34h5M937.1,221.34h-5M140.3,215.65h10M937.1,215.65h-10M140.3,178.19h5M937.1,178.19h-5M140.3,156.27h5M937.1,156.27h-5M140.3,140.72h5M937.1,140.72h-5M140.3,128.66h5M937.1,128.66h-5M140.3,118.81h5M937.1,118.81h-5M140.3,110.48h5M937.1,110.48h-5M140.3,103.26h5M937.1,103.26h-5M140.3,96.89h5M937.1,96.89h-5M140.3,91.2h10M937.1,91.2h-10M140.3,53.74h5M937.1,53.74h-5M140.3,31.82h5M937.1,31.82h-5M140.3,16.27h5M937.1,16.27h-5" stroke="#000" stroke-width="2" fill="none"/>
<text x="140.4" y="627.2" font-family="Liberation Sans, sans-serif" font-size="33.5" text-anchor="middle" transform="translate(0,627.2) scale(1,1.045) translate(0,-627.2)">-5</text>
<text x="206.8" y="627.2" font-family="Liberation Sans, sans-serif" font-size="33.5" text-anchor="middle" transform="translate(0,627.2) scale(1,1.045) translate(0,-627.2)">-4</text>
<text x="273.2" y="627.2" font-family="Liberation Sans, sans-serif" font-size="33.5" text-anchor="middle" transform="translate(0,627.2) scale(1,1.045) translate(0,-627.2)">-3</text>
<text x="339.6" y="627.2" font-family="Liberation Sans, sans-serif" font-size="33.5" text-anchor="middle" transform="translate(0,627.2) scale(1,1.045) translate(0,-627.2)">-2</text>
<text x="406" y="627.2" font-family="Liberation Sans, sans-serif" font-size="33.5" text-anchor="middle" transform="translate(0,627.2) scale(1,1.045) translate(0,-627.2)">-1</text>
<text x="472.4" y="627.2" font-family="Liberation Sans, sans-serif" font-size="33.5" text-anchor="middle" transform="translate(0,627.2) scale(1,1.045) translate(0,-627.2)">0</text>
<text x="538.8" y="627.2" font-family="Liberation Sans, sans-serif" font-size="33.5" text-anchor="middle" transform="translate(0,627.2) scale(1,1.045) translate(0,-627.2)">1</text>
<text x="605.2" y="627.2" font-family="Liberation Sans, sans-serif" font-size="33.5" text-anchor="middle" transform="translate(0,627.2) scale(1,1.045) translate(0,-627.2)">2</text>
<text x="671.6" y="627.2" font-family="Liberation Sans, sans-serif" font-size="33.5" text-anchor="middle" transform="translate(0,627.2) scale(1,1.045) translate(0,-627.2)">3</text>
<text x="738" y="627.2" font-family="Liberation Sans, sans-serif" font-size="33.5" text-anchor="middle" transform="translate(0,627.2) scale(1,1.045) translate(0,-627.2)">4</text>
<text x="804.4" y="627.2" font-family="Liberation Sans, sans-serif" font-size="33.5" text-anchor="middle" transform="translate(0,627.2) scale(1,1.045) translate(0,-627.2)">5</text>
<text x="870.8" y="627.2" font-family="Liberation Sans, sans-serif" font-size="33.5" text-anchor="middle" transform="translate(0,627.2) scale(1,1.045) translate(0,-627.2)">6</text>
<text x="937.2" y="627.2" font-family="Liberation Sans, sans-serif" font-size="33.5" text-anchor="middle" transform="translate(0,627.2) scale(1,1.045) translate(0,-627.2)">7</text>
<text x="128" y="601.9" font-family="Liberation Sans, sans-serif" font-size="32.5" text-anchor="end" transform="translate(0,601.9) scale(1,1.05) translate(0,-601.9)">10<tspan font-size="23.2" dy="-11.9">-3</tspan></text>
<text x="128" y="477.45" font-family="Liberation Sans, sans-serif" font-size="32.5" text-anchor="end" transform="translate(0,477.45) scale(1,1.05) translate(0,-477.45)">10<tspan font-size="23.2" dy="-11.9">-2</tspan></text>
<text x="128" y="353" font-family="Liberation Sans, sans-serif" font-size="32.5" text-anchor="end" transform="translate(0,353) scale(1,1.05) translate(0,-353)">10<tspan font-size="23.2" dy="-11.9">-1</tspan></text>
<text x="128" y="228.55" font-family="Liberation Sans, sans-serif" font-size="32.5" text-anchor="end" transform="translate(0,228.55) scale(1,1.05) translate(0,-228.55)">10<tspan font-size="23.2" dy="-11.9">0</tspan></text>
<text x="128" y="104.1" font-family="Liberation Sans, sans-serif" font-size="32.5" text-anchor="end" transform="translate(0,104.1) scale(1,1.05) translate(0,-104.1)">10<tspan font-size="23.2" dy="-11.9">1</tspan></text>
<clipPath id="cb"><rect x="140.3" y="673.5" width="796.8" height="585.6"/></clipPath>
<g clip-path="url(#cb)">
<g fill="none" stroke="#6b2ec4" stroke-width="1.5">
<circle cx="253.47" cy="768.85" r="3.6"/>
<circle cx="259.34" cy="773.62" r="3.6"/>
<circle cx="265.2" cy="778.69" r="3.6"/>
<circle cx="271.07" cy="783.95" r="3.6"/>
<circle cx="276.93" cy="789.37" r="3.6"/>
<circle cx="282.8" cy="794.92" r="3.6"/>
<circle cx="288.66" cy="800.62" r="3.6"/>
<circle cx="294.53" cy="806.48" r="3.6"/>
<circle cx="300.39" cy="812.53" r="3.6"/>
<circle cx="306.26" cy="818.79" r="3.6"/>
<circle cx="312.12" cy="825.24" r="3.6"/>
<circle cx="317.99" cy="831.82" r="3.6"/>
<circle cx="323.85" cy="838.46" r="3.6"/>
<circle cx="329.72" cy="845.09" r="3.6"/>
<circle cx="335.58" cy="851.66" r="3.6"/>
<circle cx="341.45" cy="858.13" r="3.6"/>
<circle cx="347.31" cy="864.49" r="3.6"/>
<circle cx="353.18" cy="870.75" r="3.6"/>
<circle cx="359.04" cy="876.94" r="3.6"/>
<circle cx="364.91" cy="883.18" r="3.6"/>
<circle cx="370.77" cy="889.53" r="3.6"/>
<circle cx="376.64" cy="896.04" r="3.6"/>
<circle cx="382.5" cy="902.67" r="3.6"/>
<circle cx="388.37" cy="909.39" r="3.6"/>
<circle cx="394.24" cy="916.17" r="3.6"/>
<circle cx="400.1" cy="923" r="3.6"/>
<circle cx="405.97" cy="929.86" r="3.6"/>
<circle cx="411.83" cy="936.75" r="3.6"/>
<circle cx="417.7" cy="943.59" r="3.6"/>
<circle cx="423.56" cy="950.28" r="3.6"/>
<circle cx="429.43" cy="956.77" r="3.6"/>
<circle cx="435.29" cy="963.08" r="3.6"/>
<circle cx="441.16" cy="969.2" r="3.6"/>
<circle cx="447.02" cy="975.17" r="3.6"/>
<circle cx="452.89" cy="981.01" r="3.6"/>
<circle cx="458.75" cy="986.74" r="3.6"/>
<circle cx="464.62" cy="992.37" r="3.6"/>
<circle cx="470.48" cy="997.88" r="3.6"/>
<circle cx="476.35" cy="1003.26" r="3.6"/>
<circle cx="482.21" cy="1008.52" r="3.6"/>
<circle cx="488.08" cy="1013.69" r="3.6"/>
<circle cx="493.94" cy="1018.79" r="3.6"/>
<circle cx="499.81" cy="1023.79" r="3.6"/>
<circle cx="505.67" cy="1028.68" r="3.6"/>
<circle cx="511.54" cy="1033.4" r="3.6"/>
<circle cx="517.4" cy="1037.91" r="3.6"/>
<circle cx="523.27" cy="1042.21" r="3.6"/>
<circle cx="529.13" cy="1046.29" r="3.6"/>
<circle cx="535" cy="1050.15" r="3.6"/>
<circle cx="540.87" cy="1053.81" r="3.6"/>
<circle cx="546.73" cy="1057.26" r="3.6"/>
<circle cx="552.6" cy="1060.53" r="3.6"/>
<circle cx="558.46" cy="1063.6" r="3.6"/>
<circle cx="564.33" cy="1066.49" r="3.6"/>
<circle cx="570.19" cy="1069.19" r="3.6"/>
<circle cx="576.06" cy="1071.72" r="3.6"/>
<circle cx="581.92" cy="1074.07" r="3.6"/>
<circle cx="587.79" cy="1076.26" r="3.6"/>
<circle cx="593.65" cy="1078.3" r="3.6"/>
<circle cx="599.52" cy="1080.19" r="3.6"/>
<circle cx="605.38" cy="1081.95" r="3.6"/>
<circle cx="611.25" cy="1083.58" r="3.6"/>
<circle cx="617.11" cy="1085.1" r="3.6"/>
<circle cx="622.98" cy="1086.53" r="3.6"/>
<circle cx="628.84" cy="1087.87" r="3.6"/>
<circle cx="634.71" cy="1089.13" r="3.6"/>
<circle cx="640.57" cy="1090.31" r="3.6"/>
<circle cx="646.44" cy="1091.42" r="3.6"/>
<circle cx="652.3" cy="1092.45" r="3.6"/>
<circle cx="658.17" cy="1093.4" r="3.6"/>
<circle cx="664.03" cy="1094.28" r="3.6"/>
<circle cx="669.9" cy="1095.08" r="3.6"/>
<circle cx="675.77" cy="1095.82" r="3.6"/>
<circle cx="681.63" cy="1096.48" r="3.6"/>
<circle cx="687.5" cy="1097.08" r="3.6"/>
<circle cx="693.36" cy="1097.61" r="3.6"/>
<circle cx="699.23" cy="1098.06" r="3.6"/>
<circle cx="705.09" cy="1098.46" r="3.6"/>
<circle cx="710.96" cy="1098.78" r="3.6"/>
<circle cx="716.82" cy="1099.05" r="3.6"/>
<circle cx="722.69" cy="1099.25" r="3.6"/>
<circle cx="728.55" cy="1099.39" r="3.6"/>
<circle cx="734.42" cy="1099.48" r="3.6"/>
<circle cx="740.28" cy="1099.51" r="3.6"/>
<circle cx="746.15" cy="1099.5" r="3.6"/>
<circle cx="752.01" cy="1099.46" r="3.6"/>
<circle cx="757.88" cy="1099.4" r="3.6"/>
<circle cx="763.74" cy="1099.33" r="3.6"/>
<circle cx="769.61" cy="1099.28" r="3.6"/>
<circle cx="775.47" cy="1099.25" r="3.6"/>
<circle cx="781.34" cy="1099.29" r="3.6"/>
<circle cx="787.2" cy="1099.4" r="3.6"/>
<circle cx="793.07" cy="1099.62" r="3.6"/>
<circle cx="798.93" cy="1099.96" r="3.6"/>
</g>
<path d="M162.31,816.56 L163.58,814.16 L164.86,811.79 L166.13,809.44 L167.41,807.12 L168.69,804.83 L169.96,802.57 L171.24,800.34 L172.51,798.14 L173.79,795.98 L175.06,793.86 L176.34,791.77 L177.62,789.72 L178.89,787.72 L180.17,785.75 L181.44,783.83 L182.72,781.96 L183.99,780.14 L185.27,778.37 L186.55,776.65 L187.82,774.99 L189.1,773.38 L190.37,771.83 L191.65,770.34 L192.93,768.9 L194.2,767.54 L195.48,766.23 L196.75,764.98 L198.03,763.8 L199.3,762.69 L200.58,761.64 L201.86,760.66 L203.13,759.74 L204.41,758.9 L205.68,758.12 L206.96,757.4 L208.24,756.75 L209.51,756.17 L210.79,755.66 L212.06,755.21 L213.34,754.83 L214.61,754.51 L215.89,754.25 L217.17,754.06 L218.44,753.92 L219.72,753.85 L220.99,753.83 L222.27,753.88 L223.54,753.97 L224.82,754.13 L226.1,754.33 L227.37,754.59 L228.65,754.9 L229.92,755.26 L231.2,755.66 L232.48,756.11 L233.75,756.61 L235.03,757.15 L236.3,757.73 L237.58,758.35 L238.85,759 L240.13,759.7 L241.41,760.43 L242.68,761.19 L243.96,761.99 L245.23,762.81 L246.51,763.67 L247.79,764.55 L249.06,765.46 L250.34,766.39 L251.61,767.35 L252.89,768.32 L254.16,769.32 L255.44,770.34 L256.72,771.37 L257.99,772.42 L259.27,773.48 L260.54,774.56 L261.82,775.65 L263.09,776.75 L264.37,777.87 L265.65,778.99 L266.92,780.12 L268.2,781.27 L269.47,782.41 L270.75,783.57 L272.03,784.74 L273.3,785.9 L274.58,787.08 L275.85,788.27 L277.13,789.45 L278.4,790.65 L279.68,791.85 L280.96,793.06 L282.23,794.27 L283.51,795.49 L284.78,796.72 L286.06,797.96 L287.34,799.2 L288.61,800.45 L289.89,801.71 L291.16,802.97 L292.44,804.25 L293.71,805.53 L294.99,806.82 L296.27,808.12 L297.54,809.43 L298.82,810.75 L300.09,812.08 L301.37,813.42 L302.64,814.77 L303.92,816.13 L305.2,817.5 L306.47,818.88 L307.75,820.27 L309.02,821.66 L310.3,823.06 L311.58,824.47 L312.85,825.89 L314.13,827.31 L315.4,828.74 L316.68,830.17 L317.95,831.61 L319.23,833.05 L320.51,834.49 L321.78,835.93 L323.06,837.37 L324.33,838.82 L325.61,840.26 L326.89,841.7 L328.16,843.13 L329.44,844.57 L330.71,846 L331.99,847.43 L333.26,848.86 L334.54,850.28 L335.82,851.7 L337.09,853.11 L338.37,854.51 L339.64,855.92 L340.92,857.32 L342.2,858.71 L343.47,860.09 L344.75,861.48 L346.02,862.85 L347.3,864.22 L348.57,865.59 L349.85,866.94 L351.13,868.3 L352.4,869.65 L353.68,871 L354.95,872.35 L356.23,873.69 L357.5,875.03 L358.78,876.38 L360.06,877.72 L361.33,879.07 L362.61,880.42 L363.88,881.77 L365.16,883.14 L366.44,884.5 L367.71,885.87 L368.99,887.26 L370.26,888.65 L371.54,890.04 L372.81,891.45 L374.09,892.85 L375.37,894.27 L376.64,895.7 L377.92,897.12 L379.19,898.56 L380.47,900 L381.75,901.44 L383.02,902.89 L384.3,904.35 L385.57,905.8 L386.85,907.26 L388.12,908.72 L389.4,910.19 L390.68,911.65 L391.95,913.13 L393.23,914.6 L394.5,916.07 L395.78,917.55 L397.05,919.02 L398.33,920.51 L399.61,921.99 L400.88,923.48 L402.16,924.96 L403.43,926.46 L404.71,927.95 L405.99,929.44 L407.26,930.94 L408.54,932.43 L409.81,933.92 L411.09,935.42 L412.36,936.91 L413.64,938.4 L414.92,939.88 L416.19,941.37 L417.47,942.84 L418.74,944.31 L420.02,945.77 L421.3,947.22 L422.57,948.66 L423.85,950.1 L425.12,951.53 L426.4,952.94 L427.67,954.36 L428.95,955.75 L430.23,957.14 L431.5,958.52 L432.78,959.89 L434.05,961.25 L435.33,962.61 L436.6,963.96 L437.88,965.29 L439.16,966.63 L440.43,967.95 L441.71,969.26 L442.98,970.57 L444.26,971.88 L445.54,973.17 L446.81,974.46 L448.09,975.75 L449.36,977.03 L450.64,978.3 L451.91,979.57 L453.19,980.83 L454.47,982.09 L455.74,983.34 L457.02,984.59 L458.29,985.84 L459.57,987.08 L460.85,988.32 L462.12,989.55 L463.4,990.77 L464.67,991.99 L465.95,993.21 L467.22,994.42 L468.5,995.63 L469.78,996.83 L471.05,998.02 L472.33,999.21 L473.6,1000.39 L474.88,1001.57 L476.15,1002.74 L477.43,1003.91 L478.71,1005.07 L479.98,1006.23 L481.26,1007.38 L482.53,1008.53 L483.81,1009.67 L485.09,1010.81 L486.36,1011.95 L487.64,1013.09 L488.91,1014.21 L490.19,1015.34 L491.46,1016.47 L492.74,1017.59 L494.02,1018.71 L495.29,1019.82 L496.57,1020.93 L497.84,1022.04 L499.12,1023.14 L500.4,1024.24 L501.67,1025.33 L502.95,1026.42 L504.22,1027.49 L505.5,1028.56 L506.77,1029.63 L508.05,1030.68 L509.33,1031.73 L510.6,1032.77 L511.88,1033.8 L513.15,1034.82 L514.43,1035.83 L515.71,1036.83 L516.98,1037.82 L518.26,1038.8 L519.53,1039.77 L520.81,1040.73 L522.08,1041.68 L523.36,1042.62 L524.64,1043.55 L525.91,1044.46 L527.19,1045.37 L528.46,1046.27 L529.74,1047.15 L531.01,1048.03 L532.29,1048.9 L533.57,1049.75 L534.84,1050.6 L536.12,1051.43 L537.39,1052.26 L538.67,1053.08 L539.95,1053.88 L541.22,1054.68 L542.5,1055.47 L543.77,1056.24 L545.05,1057.01 L546.32,1057.77 L547.6,1058.52 L548.88,1059.26 L550.15,1059.99 L551.43,1060.71 L552.7,1061.42 L553.98,1062.12 L555.26,1062.81 L556.53,1063.49 L557.81,1064.16 L559.08,1064.82 L560.36,1065.47 L561.63,1066.11 L562.91,1066.74 L564.19,1067.37 L565.46,1067.98 L566.74,1068.58 L568.01,1069.18 L569.29,1069.76 L570.56,1070.33 L571.84,1070.9 L573.12,1071.45 L574.39,1072 L575.67,1072.54 L576.94,1073.06 L578.22,1073.58 L579.5,1074.09 L580.77,1074.59 L582.05,1075.08 L583.32,1075.56 L584.6,1076.04 L585.87,1076.5 L587.15,1076.95 L588.43,1077.4 L589.7,1077.84 L590.98,1078.26 L592.25,1078.68 L593.53,1079.1 L594.81,1079.5 L596.08,1079.89 L597.36,1080.28 L598.63,1080.66 L599.91,1081.03 L601.18,1081.39 L602.46,1081.74 L603.74,1082.09 L605.01,1082.43 L606.29,1082.76 L607.56,1083.09 L608.84,1083.4 L610.11,1083.72 L611.39,1084.02 L612.67,1084.32 L613.94,1084.61 L615.22,1084.9 L616.49,1085.18 L617.77,1085.45 L619.05,1085.72 L620.32,1085.98 L621.6,1086.24 L622.87,1086.49 L624.15,1086.73 L625.42,1086.97 L626.7,1087.21 L627.98,1087.44 L629.25,1087.66 L630.53,1087.89 L631.8,1088.1 L633.08,1088.31 L634.36,1088.52 L635.63,1088.72 L636.91,1088.92 L638.18,1089.11 L639.46,1089.3 L640.73,1089.48 L642.01,1089.66 L643.29,1089.84 L644.56,1090.01 L645.84,1090.18 L647.11,1090.34 L648.39,1090.5 L649.66,1090.66 L650.94,1090.81 L652.22,1090.96 L653.49,1091.11 L654.77,1091.25 L656.04,1091.39 L657.32,1091.52 L658.6,1091.65 L659.87,1091.78 L661.15,1091.9 L662.42,1092.03 L663.7,1092.14 L664.97,1092.26 L666.25,1092.37 L667.53,1092.48 L668.8,1092.59 L670.08,1092.7 L671.35,1092.8 L672.63,1092.9 L673.91,1093 L675.18,1093.09 L676.46,1093.19 L677.73,1093.28 L679.01,1093.37 L680.28,1093.46 L681.56,1093.54 L682.84,1093.63 L684.11,1093.71 L685.39,1093.79 L686.66,1093.87 L687.94,1093.95 L689.22,1094.03 L690.49,1094.11 L691.77,1094.18 L693.04,1094.26 L694.32,1094.33 L695.59,1094.4 L696.87,1094.47 L698.15,1094.55 L699.42,1094.62 L700.7,1094.69 L701.97,1094.76 L703.25,1094.82 L704.52,1094.89 L705.8,1094.96 L707.08,1095.03 L708.35,1095.1 L709.63,1095.17 L710.9,1095.24 L712.18,1095.3 L713.46,1095.37 L714.73,1095.44 L716.01,1095.51 L717.28,1095.58 L718.56,1095.65 L719.83,1095.72 L721.11,1095.79 L722.39,1095.86 L723.66,1095.93 L724.94,1096 L726.21,1096.08 L727.49,1096.15 L728.77,1096.22 L730.04,1096.3 L731.32,1096.37 L732.59,1096.45 L733.87,1096.52 L735.14,1096.6 L736.42,1096.68 L737.7,1096.75 L738.97,1096.83 L740.25,1096.91 L741.52,1096.99 L742.8,1097.07 L744.07,1097.16 L745.35,1097.24 L746.63,1097.32 L747.9,1097.41 L749.18,1097.49 L750.45,1097.58 L751.73,1097.67 L753.01,1097.76 L754.28,1097.85 L755.56,1097.94 L756.83,1098.03 L758.11,1098.12 L759.38,1098.21 L760.66,1098.31 L761.94,1098.4 L763.21,1098.5 L764.49,1098.6 L765.76,1098.7 L767.04,1098.8 L768.32,1098.9 L769.59,1099 L770.87,1099.11 L772.14,1099.21 L773.42,1099.32 L774.69,1099.43 L775.97,1099.54 L777.25,1099.65 L778.52,1099.76 L779.8,1099.88 L781.07,1099.99 L782.35,1100.11 L783.62,1100.23 L784.9,1100.35 L786.18,1100.47 L787.45,1100.6 L788.73,1100.72 L790,1100.85 L791.28,1100.98 L792.56,1101.11 L793.83,1101.24 L795.11,1101.37 L796.38,1101.51 L797.66,1101.64 L798.93,1101.78" fill="none" stroke="#4cb810" stroke-width="1.7"/>
<path d="M253.47,768.85 L254.84,769.93 L256.2,771.03 L257.57,772.15 L258.94,773.29 L260.31,774.44 L261.67,775.61 L263.04,776.79 L264.41,777.99 L265.77,779.19 L267.14,780.41 L268.51,781.64 L269.87,782.87 L271.24,784.11 L272.61,785.37 L273.98,786.62 L275.34,787.89 L276.71,789.17 L278.08,790.44 L279.44,791.73 L280.81,793.03 L282.18,794.33 L283.55,795.64 L284.91,796.96 L286.28,798.29 L287.65,799.62 L289.01,800.96 L290.38,802.32 L291.75,803.68 L293.12,805.05 L294.48,806.43 L295.85,807.82 L297.22,809.23 L298.58,810.64 L299.95,812.07 L301.32,813.51 L302.68,814.95 L304.05,816.42 L305.42,817.89 L306.79,819.37 L308.15,820.86 L309.52,822.36 L310.89,823.87 L312.25,825.39 L313.62,826.91 L314.99,828.44 L316.36,829.98 L317.72,831.52 L319.09,833.07 L320.46,834.62 L321.82,836.16 L323.19,837.71 L324.56,839.26 L325.93,840.81 L327.29,842.35 L328.66,843.9 L330.03,845.44 L331.39,846.98 L332.76,848.51 L334.13,850.04 L335.49,851.56 L336.86,853.08 L338.23,854.59 L339.6,856.1 L340.96,857.6 L342.33,859.09 L343.7,860.58 L345.06,862.07 L346.43,863.54 L347.8,865.01 L349.17,866.48 L350.53,867.94 L351.9,869.39 L353.27,870.84 L354.63,872.29 L356,873.73 L357.37,875.18 L358.74,876.62 L360.1,878.06 L361.47,879.51 L362.84,880.96 L364.2,882.42 L365.57,883.89 L366.94,885.35 L368.3,886.84 L369.67,888.33 L371.04,889.82 L372.41,891.33 L373.77,892.84 L375.14,894.36 L376.51,895.89 L377.87,897.43 L379.24,898.97 L380.61,900.52 L381.98,902.07 L383.34,903.63 L384.71,905.19 L386.08,906.76 L387.44,908.33 L388.81,909.9 L390.18,911.47 L391.54,913.06 L392.91,914.64 L394.28,916.22 L395.65,917.81 L397.01,919.4 L398.38,920.99 L399.75,922.58 L401.11,924.18 L402.48,925.78 L403.85,927.38 L405.22,928.98 L406.58,930.59 L407.95,932.2 L409.32,933.8 L410.68,935.41 L412.05,937.01 L413.42,938.61 L414.79,940.21 L416.15,941.8 L417.52,943.38 L418.89,944.96 L420.25,946.53 L421.62,948.08 L422.99,949.63 L424.35,951.17 L425.72,952.69 L427.09,954.21 L428.46,955.72 L429.82,957.21 L431.19,958.69 L432.56,960.16 L433.92,961.62 L435.29,963.08 L436.66,964.52 L438.03,965.95 L439.39,967.38 L440.76,968.79 L442.13,970.2 L443.49,971.6 L444.86,972.99 L446.23,974.37 L447.6,975.75 L448.96,977.11 L450.33,978.48 L451.7,979.83 L453.06,981.18 L454.43,982.53 L455.8,983.87 L457.16,985.2 L458.53,986.53 L459.9,987.85 L461.27,989.17 L462.63,990.48 L464,991.78 L465.37,993.08 L466.73,994.37 L468.1,995.65 L469.47,996.93 L470.84,998.2 L472.2,999.47 L473.57,1000.72 L474.94,1001.98 L476.3,1003.22 L477.67,1004.46 L479.04,1005.69 L480.41,1006.91 L481.77,1008.13 L483.14,1009.35 L484.51,1010.55 L485.87,1011.76 L487.24,1012.96 L488.61,1014.15 L489.97,1015.35 L491.34,1016.54 L492.71,1017.72 L494.08,1018.9 L495.44,1020.08 L496.81,1021.24 L498.18,1022.41 L499.54,1023.57 L500.91,1024.72 L502.28,1025.87 L503.65,1027.01 L505.01,1028.14 L506.38,1029.26 L507.75,1030.37 L509.11,1031.47 L510.48,1032.56 L511.85,1033.64 L513.22,1034.71 L514.58,1035.77 L515.95,1036.81 L517.32,1037.85 L518.68,1038.87 L520.05,1039.88 L521.42,1040.88 L522.78,1041.87 L524.15,1042.84 L525.52,1043.8 L526.89,1044.75 L528.25,1045.69 L529.62,1046.62 L530.99,1047.53 L532.35,1048.43 L533.72,1049.33 L535.09,1050.21 L536.46,1051.08 L537.82,1051.93 L539.19,1052.78 L540.56,1053.62 L541.92,1054.44 L543.29,1055.26 L544.66,1056.06 L546.02,1056.86 L547.39,1057.64 L548.76,1058.41 L550.13,1059.18 L551.49,1059.93 L552.86,1060.67 L554.23,1061.4 L555.59,1062.12 L556.96,1062.83 L558.33,1063.53 L559.7,1064.22 L561.06,1064.91 L562.43,1065.57 L563.8,1066.23 L565.16,1066.89 L566.53,1067.52 L567.9,1068.16 L569.27,1068.78 L570.63,1069.39 L572,1069.99 L573.37,1070.58 L574.73,1071.16 L576.1,1071.73 L577.47,1072.3 L578.83,1072.85 L580.2,1073.4 L581.57,1073.93 L582.94,1074.46 L584.3,1074.98 L585.67,1075.49 L587.04,1075.99 L588.4,1076.49 L589.77,1076.97 L591.14,1077.45 L592.51,1077.92 L593.87,1078.37 L595.24,1078.83 L596.61,1079.27 L597.97,1079.71 L599.34,1080.14 L600.71,1080.56 L602.08,1080.97 L603.44,1081.38 L604.81,1081.78 L606.18,1082.17 L607.54,1082.56 L608.91,1082.94 L610.28,1083.32 L611.64,1083.68 L613.01,1084.05 L614.38,1084.4 L615.75,1084.76 L617.11,1085.1 L618.48,1085.44 L619.85,1085.78 L621.21,1086.11 L622.58,1086.44 L623.95,1086.76 L625.32,1087.08 L626.68,1087.39 L628.05,1087.7 L629.42,1088 L630.78,1088.3 L632.15,1088.59 L633.52,1088.88 L634.89,1089.17 L636.25,1089.45 L637.62,1089.73 L638.99,1090 L640.35,1090.27 L641.72,1090.53 L643.09,1090.79 L644.45,1091.05 L645.82,1091.3 L647.19,1091.55 L648.56,1091.8 L649.92,1092.04 L651.29,1092.27 L652.66,1092.5 L654.02,1092.73 L655.39,1092.96 L656.76,1093.18 L658.13,1093.39 L659.49,1093.6 L660.86,1093.81 L662.23,1094.02 L663.59,1094.22 L664.96,1094.41 L666.33,1094.6 L667.69,1094.79 L669.06,1094.97 L670.43,1095.15 L671.8,1095.33 L673.16,1095.5 L674.53,1095.67 L675.9,1095.84 L677.26,1096 L678.63,1096.15 L680,1096.31 L681.37,1096.46 L682.73,1096.6 L684.1,1096.74 L685.47,1096.88 L686.83,1097.02 L688.2,1097.15 L689.57,1097.27 L690.94,1097.4 L692.3,1097.52 L693.67,1097.63 L695.04,1097.74 L696.4,1097.85 L697.77,1097.96 L699.14,1098.06 L700.5,1098.16 L701.87,1098.25 L703.24,1098.34 L704.61,1098.43 L705.97,1098.51 L707.34,1098.59 L708.71,1098.66 L710.07,1098.74 L711.44,1098.81 L712.81,1098.87 L714.18,1098.94 L715.54,1098.99 L716.91,1099.05 L718.28,1099.1 L719.64,1099.15 L721.01,1099.2 L722.38,1099.24 L723.75,1099.28 L725.11,1099.32 L726.48,1099.35 L727.85,1099.38 L729.21,1099.4 L730.58,1099.43 L731.95,1099.45 L733.31,1099.47 L734.68,1099.48 L736.05,1099.49 L737.42,1099.5 L738.78,1099.51 L740.15,1099.51 L741.52,1099.51 L742.88,1099.51 L744.25,1099.51 L745.62,1099.51 L746.99,1099.5 L748.35,1099.49 L749.72,1099.48 L751.09,1099.47 L752.45,1099.46 L753.82,1099.45 L755.19,1099.43 L756.56,1099.42 L757.92,1099.4 L759.29,1099.38 L760.66,1099.37 L762.02,1099.35 L763.39,1099.34 L764.76,1099.32 L766.12,1099.31 L767.49,1099.29 L768.86,1099.28 L770.23,1099.27 L771.59,1099.26 L772.96,1099.26 L774.33,1099.25 L775.69,1099.25 L777.06,1099.26 L778.43,1099.26 L779.8,1099.27 L781.16,1099.29 L782.53,1099.3 L783.9,1099.33 L785.26,1099.35 L786.63,1099.39 L788,1099.42 L789.37,1099.47 L790.73,1099.52 L792.1,1099.58 L793.47,1099.64 L794.83,1099.71 L796.2,1099.79 L797.57,1099.87 L798.93,1099.96" fill="none" stroke="#cc2018" stroke-width="1.7"/>
<path d="M140.3,861.05 L141.63,858.27 L142.96,855.5 L144.29,852.74 L145.62,849.98 L146.95,847.24 L148.28,844.51 L149.61,841.79 L150.94,839.09 L152.27,836.41 L153.6,833.74 L154.93,831.09 L156.26,828.46 L157.59,825.85 L158.92,823.26 L160.25,820.69 L161.58,818.15 L162.91,815.63 L164.24,813.14 L165.57,810.67 L166.9,808.24 L168.23,805.83 L169.56,803.46 L170.89,801.12 L172.23,798.82 L173.56,796.55 L174.89,794.33 L176.22,792.14 L177.55,790 L178.88,787.9 L180.21,785.85 L181.54,783.85 L182.87,781.91 L184.2,780.01 L185.53,778.17 L186.86,776.39 L188.19,774.67 L189.52,773.01 L190.85,771.41 L192.18,769.88 L193.51,768.41 L194.84,767.01 L196.17,765.68 L197.5,764.42 L198.83,763.23 L200.16,762.11 L201.49,761.07 L202.82,760.09 L204.15,759.19 L205.48,758.37 L206.81,757.61 L208.14,756.93 L209.47,756.32 L210.8,755.78 L212.13,755.32 L213.46,754.92 L214.79,754.6 L216.12,754.34 L217.45,754.15 L218.78,754.03 L220.11,753.97 L221.44,753.98 L222.77,754.04 L224.1,754.17 L225.43,754.36 L226.76,754.6 L228.09,754.9 L229.42,755.26 L230.75,755.66 L232.08,756.12 L233.42,756.62 L234.75,757.18 L236.08,757.78 L237.41,758.42 L238.74,759.1 L240.07,759.82 L241.4,760.59 L242.73,761.39 L244.06,762.22 L245.39,763.09 L246.72,763.99 L248.05,764.91 L249.38,765.87 L250.71,766.85 L252.04,767.86 L253.37,768.89 L254.7,769.94 L256.03,771.01 L257.36,772.11 L258.69,773.21 L260.02,774.33 L261.35,775.47 L262.68,776.62 L264.01,777.78 L265.34,778.96 L266.67,780.14 L268,781.34 L269.33,782.54 L270.66,783.75 L271.99,784.97 L273.32,786.2 L274.65,787.43 L275.98,788.67 L277.31,789.92 L278.64,791.17 L279.97,792.43 L281.3,793.7 L282.63,794.98 L283.96,796.26 L285.29,797.55 L286.62,798.85 L287.95,800.16 L289.28,801.47 L290.61,802.8 L291.94,804.13 L293.27,805.47 L294.61,806.83 L295.94,808.19 L297.27,809.57 L298.6,810.95 L299.93,812.35 L301.26,813.76 L302.59,815.17 L303.92,816.6 L305.25,818.04 L306.58,819.49 L307.91,820.95 L309.24,822.42 L310.57,823.89 L311.9,825.38 L313.23,826.88 L314.56,828.38 L315.89,829.88 L317.22,831.4 L318.55,832.91 L319.88,834.43 L321.21,835.95 L322.54,837.47 L323.87,838.99 L325.2,840.52 L326.53,842.04 L327.86,843.55 L329.19,845.08 L330.52,846.59 L331.85,848.1 L333.18,849.61 L334.51,851.11 L335.84,852.61 L337.17,854.11 L338.5,855.6 L339.83,857.09 L341.16,858.57 L342.49,860.04 L343.82,861.51 L345.15,862.98 L346.48,864.44 L347.81,865.89 L349.14,867.34 L350.47,868.79 L351.8,870.23 L353.13,871.67 L354.46,873.1 L355.8,874.54 L357.13,875.97 L358.46,877.4 L359.79,878.84 L361.12,880.28 L362.45,881.72 L363.78,883.17 L365.11,884.63 L366.44,886.1 L367.77,887.56 L369.1,889.05 L370.43,890.54 L371.76,892.04 L373.09,893.56 L374.42,895.07 L375.75,896.6 L377.08,898.14 L378.41,899.68 L379.74,901.23 L381.07,902.79 L382.4,904.35 L383.73,905.93 L385.06,907.51 L386.39,909.08 L387.72,910.67 L389.05,912.27 L390.38,913.86 L391.71,915.46 L393.04,917.07 L394.37,918.67 L395.7,920.29 L397.03,921.91 L398.36,923.53 L399.69,925.16 L401.02,926.79 L402.35,928.43 L403.68,930.07 L405.01,931.72 L406.34,933.37 L407.67,935.03 L409,936.68 L410.33,938.34 L411.66,940.01 L412.99,941.67 L414.32,943.33 L415.65,944.98 L416.99,946.64 L418.32,948.29 L419.65,949.94 L420.98,951.58 L422.31,953.21 L423.64,954.84 L424.97,956.46 L426.3,958.07 L427.63,959.68 L428.96,961.28 L430.29,962.87 L431.62,964.46 L432.95,966.03 L434.28,967.6 L435.61,969.18 L436.94,970.73 L438.27,972.29 L439.6,973.84 L440.93,975.38 L442.26,976.93 L443.59,978.47 L444.92,980 L446.25,981.53 L447.58,983.06 L448.91,984.59 L450.24,986.12 L451.57,987.64 L452.9,989.17 L454.23,990.69 L455.56,992.21 L456.89,993.73 L458.22,995.26 L459.55,996.78 L460.88,998.3 L462.21,999.82 L463.54,1001.35 L464.87,1002.87 L466.2,1004.39 L467.53,1005.91 L468.86,1007.43 L470.19,1008.95 L471.52,1010.47 L472.85,1011.99 L474.18,1013.51 L475.51,1015.03 L476.84,1016.55 L478.18,1018.07 L479.51,1019.6 L480.84,1021.12 L482.17,1022.64 L483.5,1024.17 L484.83,1025.7 L486.16,1027.24 L487.49,1028.78 L488.82,1030.32 L490.15,1031.87 L491.48,1033.43 L492.81,1034.98 L494.14,1036.55 L495.47,1038.12 L496.8,1039.69 L498.13,1041.27 L499.46,1042.85 L500.79,1044.44 L502.12,1046.03 L503.45,1047.62 L504.78,1049.21 L506.11,1050.81 L507.44,1052.4 L508.77,1053.99 L510.1,1055.59 L511.43,1057.18 L512.76,1058.78 L514.09,1060.37 L515.42,1061.96 L516.75,1063.55 L518.08,1065.13 L519.41,1066.72 L520.74,1068.3 L522.07,1069.88 L523.4,1071.46 L524.73,1073.03 L526.06,1074.61 L527.39,1076.18 L528.72,1077.75 L530.05,1079.32 L531.38,1080.89 L532.71,1082.45 L534.04,1084.01 L535.37,1085.58 L536.7,1087.14 L538.03,1088.7 L539.37,1090.26 L540.7,1091.82 L542.03,1093.38 L543.36,1094.95 L544.69,1096.51 L546.02,1098.07 L547.35,1099.63 L548.68,1101.19 L550.01,1102.75 L551.34,1104.31 L552.67,1105.87 L554,1107.43 L555.33,1108.99 L556.66,1110.55 L557.99,1112.11 L559.32,1113.67 L560.65,1115.23 L561.98,1116.79 L563.31,1118.35 L564.64,1119.91 L565.97,1121.47 L567.3,1123.02 L568.63,1124.58 L569.96,1126.14 L571.29,1127.7 L572.62,1129.25 L573.95,1130.81 L575.28,1132.36 L576.61,1133.92 L577.94,1135.47 L579.27,1137.03 L580.6,1138.58 L581.93,1140.13 L583.26,1141.68 L584.59,1143.23 L585.92,1144.78 L587.25,1146.33 L588.58,1147.88 L589.91,1149.43 L591.24,1150.97 L592.57,1152.51 L593.9,1154.06 L595.23,1155.6 L596.56,1157.14 L597.89,1158.68 L599.22,1160.21 L600.56,1161.75 L601.89,1163.28 L603.22,1164.82 L604.55,1166.35 L605.88,1167.88 L607.21,1169.41 L608.54,1170.95 L609.87,1172.48 L611.2,1174.01 L612.53,1175.54 L613.86,1177.07 L615.19,1178.6 L616.52,1180.14 L617.85,1181.67 L619.18,1183.21 L620.51,1184.75 L621.84,1186.28 L623.17,1187.83 L624.5,1189.37 L625.83,1190.91 L627.16,1192.46 L628.49,1194.01 L629.82,1195.55 L631.15,1197.11 L632.48,1198.66 L633.81,1200.21 L635.14,1201.77 L636.47,1203.33 L637.8,1204.89 L639.13,1206.45 L640.46,1208.01 L641.79,1209.58 L643.12,1211.14 L644.45,1212.71 L645.78,1214.27 L647.11,1215.84 L648.44,1217.41 L649.77,1218.97 L651.1,1220.54 L652.43,1222.11 L653.76,1223.68 L655.09,1225.24 L656.42,1226.81 L657.75,1228.37 L659.08,1229.94 L660.41,1231.5 L661.75,1233.06 L663.08,1234.62 L664.41,1236.18 L665.74,1237.74 L667.07,1239.29 L668.4,1240.85 L669.73,1242.4 L671.06,1243.95 L672.39,1245.5 L673.72,1247.04 L675.05,1248.59 L676.38,1250.13 L677.71,1251.67 L679.04,1253.21 L680.37,1254.75 L681.7,1256.29 L683.03,1257.82 L684.36,1259.36 L685.69,1260.89 L687.02,1262.42 L688.35,1263.95 L689.68,1265.47 L691.01,1267 L692.34,1268.52 L693.67,1270.04 L695,1271.56 L696.33,1273.08 L697.66,1274.6 L698.99,1276.11 L700.32,1277.63 L701.65,1279.15 L702.98,1280.66 L704.31,1282.18 L705.64,1283.69 L706.97,1285.21 L708.3,1286.73 L709.63,1288.26 L710.96,1289.78 L712.29,1291.31 L713.62,1292.84 L714.95,1294.37 L716.28,1295.9 L717.61,1297.44 L718.94,1298.98 L720.27,1300.52 L721.6,1302.07 L722.94,1303.62 L724.27,1305.16 L725.6,1306.72 L726.93,1308.27 L728.26,1309.83 L729.59,1311.39 L730.92,1312.95 L732.25,1314.51 L733.58,1316.07 L734.91,1317.64 L736.24,1319.21 L737.57,1320.78 L738.9,1322.35 L740.23,1323.92 L741.56,1325.5 L742.89,1327.08 L744.22,1328.65 L745.55,1330.23 L746.88,1331.81 L748.21,1333.38 L749.54,1334.96 L750.87,1336.53 L752.2,1338.11 L753.53,1339.68 L754.86,1341.25 L756.19,1342.82 L757.52,1344.38 L758.85,1345.95 L760.18,1347.51 L761.51,1349.07 L762.84,1350.63 L764.17,1352.19 L765.5,1353.75 L766.83,1355.3 L768.16,1356.85 L769.49,1358.4 L770.82,1359.95 L772.15,1361.49 L773.48,1363.04 L774.81,1364.58 L776.14,1366.12 L777.47,1367.66 L778.8,1369.2 L780.13,1370.73 L781.46,1372.27 L782.79,1373.81 L784.13,1375.35 L785.46,1376.89 L786.79,1378.43 L788.12,1379.98 L789.45,1381.52 L790.78,1383.07 L792.11,1384.62 L793.44,1386.17 L794.77,1387.72 L796.1,1389.27 L797.43,1390.82 L798.76,1392.38 L800.09,1393.93 L801.42,1395.5 L802.75,1397.06 L804.08,1398.62 L805.41,1400.19 L806.74,1401.76 L808.07,1403.33 L809.4,1404.91 L810.73,1406.49 L812.06,1408.06 L813.39,1409.64 L814.72,1411.22 L816.05,1412.81 L817.38,1414.39 L818.71,1415.98 L820.04,1417.56 L821.37,1419.15 L822.7,1420.74 L824.03,1422.32 L825.36,1423.91 L826.69,1425.5 L828.02,1427.09 L829.35,1428.67 L830.68,1430.26 L832.01,1431.85 L833.34,1433.43 L834.67,1435.02 L836,1436.6 L837.33,1438.18 L838.66,1439.77 L839.99,1441.35 L841.32,1442.93 L842.65,1444.51 L843.98,1446.08 L845.32,1447.66 L846.65,1449.23 L847.98,1450.81 L849.31,1452.38 L850.64,1453.95 L851.97,1455.52 L853.3,1457.1 L854.63,1458.66 L855.96,1460.23 L857.29,1461.8 L858.62,1463.37 L859.95,1464.93 L861.28,1466.5 L862.61,1468.06 L863.94,1469.62 L865.27,1471.18 L866.6,1472.75 L867.93,1474.31 L869.26,1475.87 L870.59,1477.43 L871.92,1478.99 L873.25,1480.55 L874.58,1482.11 L875.91,1483.67 L877.24,1485.22 L878.57,1486.78 L879.9,1488.34 L881.23,1489.9 L882.56,1491.46 L883.89,1493.01 L885.22,1494.57 L886.55,1496.13 L887.88,1497.69 L889.21,1499.24 L890.54,1500.8 L891.87,1502.36 L893.2,1503.91 L894.53,1505.47 L895.86,1507.03 L897.19,1508.58 L898.52,1510.14 L899.85,1511.7 L901.18,1513.25 L902.51,1514.81 L903.84,1516.36 L905.17,1517.92 L906.51,1519.48 L907.84,1521.03 L909.17,1522.59 L910.5,1524.15 L911.83,1525.7 L913.16,1527.26 L914.49,1528.82 L915.82,1530.37 L917.15,1531.93 L918.48,1533.48 L919.81,1535.04 L921.14,1536.6 L922.47,1538.15 L923.8,1539.71 L925.13,1541.27 L926.46,1542.82 L927.79,1544.38 L929.12,1545.93 L930.45,1547.49 L931.78,1549.05 L933.11,1550.6 L934.44,1552.16 L935.77,1553.72 L937.1,1555.27" fill="none" stroke="#4cb810" stroke-width="1.7" stroke-dasharray="7.2 3.4 1.3 4.4" stroke-dashoffset="4.61"/>
<path d="M140.3,1279.78 L141.63,1279.19 L142.96,1278.6 L144.29,1278.01 L145.62,1277.42 L146.95,1276.83 L148.28,1276.24 L149.61,1275.65 L150.94,1275.06 L152.27,1274.48 L153.6,1273.89 L154.93,1273.3 L156.26,1272.71 L157.59,1272.13 L158.92,1271.54 L160.25,1270.95 L161.58,1270.37 L162.91,1269.78 L164.24,1269.2 L165.57,1268.61 L166.9,1268.03 L168.23,1267.44 L169.56,1266.86 L170.89,1266.27 L172.23,1265.69 L173.56,1265.11 L174.89,1264.52 L176.22,1263.94 L177.55,1263.36 L178.88,1262.77 L180.21,1262.19 L181.54,1261.61 L182.87,1261.03 L184.2,1260.45 L185.53,1259.87 L186.86,1259.29 L188.19,1258.71 L189.52,1258.13 L190.85,1257.55 L192.18,1256.97 L193.51,1256.39 L194.84,1255.81 L196.17,1255.23 L197.5,1254.65 L198.83,1254.08 L200.16,1253.5 L201.49,1252.92 L202.82,1252.35 L204.15,1251.77 L205.48,1251.19 L206.81,1250.62 L208.14,1250.04 L209.47,1249.47 L210.8,1248.89 L212.13,1248.32 L213.46,1247.75 L214.79,1247.17 L216.12,1246.6 L217.45,1246.03 L218.78,1245.45 L220.11,1244.88 L221.44,1244.31 L222.77,1243.74 L224.1,1243.17 L225.43,1242.6 L226.76,1242.03 L228.09,1241.46 L229.42,1240.89 L230.75,1240.32 L232.08,1239.75 L233.42,1239.19 L234.75,1238.62 L236.08,1238.05 L237.41,1237.48 L238.74,1236.92 L240.07,1236.35 L241.4,1235.79 L242.73,1235.22 L244.06,1234.66 L245.39,1234.09 L246.72,1233.53 L248.05,1232.97 L249.38,1232.4 L250.71,1231.84 L252.04,1231.28 L253.37,1230.72 L254.7,1230.16 L256.03,1229.6 L257.36,1229.04 L258.69,1228.48 L260.02,1227.92 L261.35,1227.36 L262.68,1226.8 L264.01,1226.24 L265.34,1225.69 L266.67,1225.13 L268,1224.57 L269.33,1224.02 L270.66,1223.46 L271.99,1222.91 L273.32,1222.35 L274.65,1221.8 L275.98,1221.25 L277.31,1220.69 L278.64,1220.14 L279.97,1219.59 L281.3,1219.04 L282.63,1218.49 L283.96,1217.94 L285.29,1217.39 L286.62,1216.84 L287.95,1216.29 L289.28,1215.74 L290.61,1215.2 L291.94,1214.65 L293.27,1214.1 L294.61,1213.56 L295.94,1213.01 L297.27,1212.47 L298.6,1211.93 L299.93,1211.38 L301.26,1210.84 L302.59,1210.3 L303.92,1209.76 L305.25,1209.22 L306.58,1208.68 L307.91,1208.14 L309.24,1207.6 L310.57,1207.06 L311.9,1206.52 L313.23,1205.98 L314.56,1205.45 L315.89,1204.91 L317.22,1204.38 L318.55,1203.84 L319.88,1203.31 L321.21,1202.77 L322.54,1202.24 L323.87,1201.71 L325.2,1201.18 L326.53,1200.65 L327.86,1200.12 L329.19,1199.59 L330.52,1199.06 L331.85,1198.53 L333.18,1198.01 L334.51,1197.48 L335.84,1196.95 L337.17,1196.43 L338.5,1195.9 L339.83,1195.38 L341.16,1194.86 L342.49,1194.34 L343.82,1193.81 L345.15,1193.29 L346.48,1192.77 L347.81,1192.25 L349.14,1191.74 L350.47,1191.22 L351.8,1190.7 L353.13,1190.19 L354.46,1189.67 L355.8,1189.16 L357.13,1188.64 L358.46,1188.13 L359.79,1187.62 L361.12,1187.11 L362.45,1186.6 L363.78,1186.09 L365.11,1185.58 L366.44,1185.07 L367.77,1184.56 L369.1,1184.06 L370.43,1183.55 L371.76,1183.05 L373.09,1182.54 L374.42,1182.04 L375.75,1181.54 L377.08,1181.04 L378.41,1180.54 L379.74,1180.04 L381.07,1179.54 L382.4,1179.04 L383.73,1178.54 L385.06,1178.05 L386.39,1177.55 L387.72,1177.06 L389.05,1176.57 L390.38,1176.07 L391.71,1175.58 L393.04,1175.09 L394.37,1174.6 L395.7,1174.11 L397.03,1173.63 L398.36,1173.14 L399.69,1172.66 L401.02,1172.17 L402.35,1171.69 L403.68,1171.2 L405.01,1170.72 L406.34,1170.24 L407.67,1169.76 L409,1169.29 L410.33,1168.81 L411.66,1168.33 L412.99,1167.86 L414.32,1167.38 L415.65,1166.91 L416.99,1166.44 L418.32,1165.97 L419.65,1165.5 L420.98,1165.03 L422.31,1164.56 L423.64,1164.09 L424.97,1163.63 L426.3,1163.16 L427.63,1162.7 L428.96,1162.24 L430.29,1161.78 L431.62,1161.32 L432.95,1160.86 L434.28,1160.4 L435.61,1159.94 L436.94,1159.49 L438.27,1159.03 L439.6,1158.58 L440.93,1158.13 L442.26,1157.68 L443.59,1157.23 L444.92,1156.78 L446.25,1156.33 L447.58,1155.89 L448.91,1155.44 L450.24,1155 L451.57,1154.56 L452.9,1154.12 L454.23,1153.68 L455.56,1153.24 L456.89,1152.8 L458.22,1152.36 L459.55,1151.93 L460.88,1151.5 L462.21,1151.06 L463.54,1150.63 L464.87,1150.2 L466.2,1149.78 L467.53,1149.35 L468.86,1148.92 L470.19,1148.5 L471.52,1148.08 L472.85,1147.66 L474.18,1147.24 L475.51,1146.82 L476.84,1146.4 L478.18,1145.99 L479.51,1145.57 L480.84,1145.16 L482.17,1144.75 L483.5,1144.34 L484.83,1143.93 L486.16,1143.52 L487.49,1143.12 L488.82,1142.71 L490.15,1142.31 L491.48,1141.91 L492.81,1141.51 L494.14,1141.11 L495.47,1140.71 L496.8,1140.32 L498.13,1139.92 L499.46,1139.53 L500.79,1139.14 L502.12,1138.75 L503.45,1138.36 L504.78,1137.98 L506.11,1137.59 L507.44,1137.21 L508.77,1136.83 L510.1,1136.45 L511.43,1136.07 L512.76,1135.69 L514.09,1135.32 L515.42,1134.94 L516.75,1134.57 L518.08,1134.2 L519.41,1133.83 L520.74,1133.46 L522.07,1133.1 L523.4,1132.73 L524.73,1132.37 L526.06,1132.01 L527.39,1131.65 L528.72,1131.3 L530.05,1130.94 L531.38,1130.59 L532.71,1130.24 L534.04,1129.89 L535.37,1129.54 L536.7,1129.19 L538.03,1128.85 L539.37,1128.5 L540.7,1128.16 L542.03,1127.82 L543.36,1127.48 L544.69,1127.15 L546.02,1126.81 L547.35,1126.48 L548.68,1126.15 L550.01,1125.82 L551.34,1125.5 L552.67,1125.17 L554,1124.85 L555.33,1124.53 L556.66,1124.21 L557.99,1123.89 L559.32,1123.57 L560.65,1123.26 L561.98,1122.95 L563.31,1122.64 L564.64,1122.33 L565.97,1122.02 L567.3,1121.72 L568.63,1121.42 L569.96,1121.12 L571.29,1120.82 L572.62,1120.52 L573.95,1120.23 L575.28,1119.93 L576.61,1119.64 L577.94,1119.35 L579.27,1119.07 L580.6,1118.78 L581.93,1118.5 L583.26,1118.22 L584.59,1117.94 L585.92,1117.66 L587.25,1117.39 L588.58,1117.12 L589.91,1116.85 L591.24,1116.58 L592.57,1116.31 L593.9,1116.05 L595.23,1115.79 L596.56,1115.53 L597.89,1115.27 L599.22,1115.01 L600.56,1114.76 L601.89,1114.51 L603.22,1114.26 L604.55,1114.01 L605.88,1113.77 L607.21,1113.52 L608.54,1113.28 L609.87,1113.04 L611.2,1112.81 L612.53,1112.57 L613.86,1112.34 L615.19,1112.11 L616.52,1111.88 L617.85,1111.66 L619.18,1111.44 L620.51,1111.21 L621.84,1111 L623.17,1110.78 L624.5,1110.57 L625.83,1110.35 L627.16,1110.14 L628.49,1109.94 L629.82,1109.73 L631.15,1109.53 L632.48,1109.33 L633.81,1109.13 L635.14,1108.93 L636.47,1108.74 L637.8,1108.55 L639.13,1108.36 L640.46,1108.17 L641.79,1107.99 L643.12,1107.8 L644.45,1107.63 L645.78,1107.45 L647.11,1107.27 L648.44,1107.1 L649.77,1106.93 L651.1,1106.76 L652.43,1106.6 L653.76,1106.43 L655.09,1106.27 L656.42,1106.11 L657.75,1105.96 L659.08,1105.8 L660.41,1105.65 L661.75,1105.5 L663.08,1105.36 L664.41,1105.21 L665.74,1105.07 L667.07,1104.93 L668.4,1104.79 L669.73,1104.66 L671.06,1104.53 L672.39,1104.4 L673.72,1104.27 L675.05,1104.15 L676.38,1104.02 L677.71,1103.9 L679.04,1103.79 L680.37,1103.67 L681.7,1103.56 L683.03,1103.45 L684.36,1103.34 L685.69,1103.24 L687.02,1103.13 L688.35,1103.03 L689.68,1102.94 L691.01,1102.84 L692.34,1102.75 L693.67,1102.66 L695,1102.57 L696.33,1102.49 L697.66,1102.41 L698.99,1102.33 L700.32,1102.25 L701.65,1102.17 L702.98,1102.1 L704.31,1102.03 L705.64,1101.96 L706.97,1101.9 L708.3,1101.84 L709.63,1101.78 L710.96,1101.72 L712.29,1101.66 L713.62,1101.61 L714.95,1101.56 L716.28,1101.52 L717.61,1101.47 L718.94,1101.43 L720.27,1101.39 L721.6,1101.35 L722.94,1101.32 L724.27,1101.29 L725.6,1101.26 L726.93,1101.23 L728.26,1101.21 L729.59,1101.19 L730.92,1101.17 L732.25,1101.15 L733.58,1101.14 L734.91,1101.13 L736.24,1101.12 L737.57,1101.11 L738.9,1101.11 L740.23,1101.11 L741.56,1101.11 L742.89,1101.11 L744.22,1101.12 L745.55,1101.13 L746.88,1101.14 L748.21,1101.15 L749.54,1101.17 L750.87,1101.19 L752.2,1101.21 L753.53,1101.24 L754.86,1101.26 L756.19,1101.29 L757.52,1101.32 L758.85,1101.36 L760.18,1101.4 L761.51,1101.44 L762.84,1101.48 L764.17,1101.52 L765.5,1101.57 L766.83,1101.62 L768.16,1101.67 L769.49,1101.73 L770.82,1101.79 L772.15,1101.85 L773.48,1101.91 L774.81,1101.97 L776.14,1102.04 L777.47,1102.11 L778.8,1102.18 L780.13,1102.26 L781.46,1102.34 L782.79,1102.42 L784.13,1102.5 L785.46,1102.59 L786.79,1102.67 L788.12,1102.76 L789.45,1102.86 L790.78,1102.95 L792.11,1103.05 L793.44,1103.15 L794.77,1103.25 L796.1,1103.36 L797.43,1103.47 L798.76,1103.58 L800.09,1103.69 L801.42,1103.8 L802.75,1103.92 L804.08,1104.04 L805.41,1104.16 L806.74,1104.29 L808.07,1104.42 L809.4,1104.55 L810.73,1104.68 L812.06,1104.81 L813.39,1104.95 L814.72,1105.09 L816.05,1105.23 L817.38,1105.38 L818.71,1105.52 L820.04,1105.67 L821.37,1105.83 L822.7,1105.98 L824.03,1106.14 L825.36,1106.3 L826.69,1106.46 L828.02,1106.62 L829.35,1106.79 L830.68,1106.95 L832.01,1107.13 L833.34,1107.3 L834.67,1107.47 L836,1107.65 L837.33,1107.83 L838.66,1108.01 L839.99,1108.2 L841.32,1108.39 L842.65,1108.58 L843.98,1108.77 L845.32,1108.96 L846.65,1109.16 L847.98,1109.36 L849.31,1109.56 L850.64,1109.76 L851.97,1109.97 L853.3,1110.18 L854.63,1110.39 L855.96,1110.6 L857.29,1110.81 L858.62,1111.03 L859.95,1111.25 L861.28,1111.47 L862.61,1111.69 L863.94,1111.92 L865.27,1112.15 L866.6,1112.38 L867.93,1112.61 L869.26,1112.84 L870.59,1113.08 L871.92,1113.32 L873.25,1113.56 L874.58,1113.8 L875.91,1114.05 L877.24,1114.3 L878.57,1114.55 L879.9,1114.8 L881.23,1115.05 L882.56,1115.31 L883.89,1115.57 L885.22,1115.83 L886.55,1116.09 L887.88,1116.35 L889.21,1116.62 L890.54,1116.89 L891.87,1117.16 L893.2,1117.43 L894.53,1117.71 L895.86,1117.98 L897.19,1118.26 L898.52,1118.54 L899.85,1118.83 L901.18,1119.11 L902.51,1119.4 L903.84,1119.69 L905.17,1119.98 L906.51,1120.27 L907.84,1120.56 L909.17,1120.86 L910.5,1121.16 L911.83,1121.46 L913.16,1121.76 L914.49,1122.07 L915.82,1122.37 L917.15,1122.68 L918.48,1122.99 L919.81,1123.31 L921.14,1123.62 L922.47,1123.94 L923.8,1124.25 L925.13,1124.57 L926.46,1124.9 L927.79,1125.22 L929.12,1125.54 L930.45,1125.87 L931.78,1126.2 L933.11,1126.53 L934.44,1126.86 L935.77,1127.2 L937.1,1127.54" fill="none" stroke="#4cb810" stroke-width="1.7" stroke-dasharray="7.2 3.4 1.3 4.4"/>
<path d="M140.3,861.05 L141.63,858.27 L142.96,855.5 L144.29,852.74 L145.62,849.98 L146.95,847.24 L148.28,844.51 L149.61,841.79 L150.94,839.09 L152.27,836.41 L153.6,833.74 L154.93,831.09 L156.26,828.46 L157.59,825.85 L158.92,823.26 L160.25,820.69 L161.58,818.15 L162.91,815.63 L164.24,813.14 L165.57,810.67 L166.9,808.24 L168.23,805.83 L169.56,803.46 L170.89,801.12 L172.23,798.82 L173.56,796.55 L174.89,794.33 L176.22,792.14 L177.55,790 L178.88,787.9 L180.21,785.85 L181.54,783.85 L182.87,781.91 L184.2,780.01 L185.53,778.17 L186.86,776.39 L188.19,774.67 L189.52,773.01 L190.85,771.41 L192.18,769.88 L193.51,768.41 L194.84,767.01 L196.17,765.68 L197.5,764.42 L198.83,763.23 L200.16,762.11 L201.49,761.07 L202.82,760.09 L204.15,759.19 L205.48,758.37 L206.81,757.61 L208.14,756.93 L209.47,756.32 L210.8,755.78 L212.13,755.32 L213.46,754.92 L214.79,754.6 L216.12,754.34 L217.45,754.15 L218.78,754.03 L220.11,753.97 L221.44,753.98 L222.77,754.04 L224.1,754.17 L225.43,754.36 L226.76,754.6 L228.09,754.9 L229.42,755.26 L230.75,755.66 L232.08,756.12 L233.42,756.62 L234.75,757.18 L236.08,757.78 L237.41,758.42 L238.74,759.1 L240.07,759.82 L241.4,760.59 L242.73,761.39 L244.06,762.22 L245.39,763.09 L246.72,763.99 L248.05,764.91 L249.38,765.87 L250.71,766.85 L252.04,767.86 L253.37,768.89 L254.7,769.94 L256.03,771.01 L257.36,772.11 L258.69,773.21 L260.02,774.33 L261.35,775.47 L262.68,776.62 L264.01,777.78 L265.34,778.96 L266.67,780.14 L268,781.34 L269.33,782.54 L270.66,783.75 L271.99,784.97 L273.32,786.2 L274.65,787.43 L275.98,788.67 L277.31,789.92 L278.64,791.17 L279.97,792.43 L281.3,793.7 L282.63,794.98 L283.96,796.26 L285.29,797.55 L286.62,798.85 L287.95,800.16 L289.28,801.47 L290.61,802.8 L291.94,804.13 L293.27,805.47 L294.61,806.83 L295.94,808.19 L297.27,809.57 L298.6,810.95 L299.93,812.35 L301.26,813.76 L302.59,815.17 L303.92,816.6 L305.25,818.04 L306.58,819.49 L307.91,820.95 L309.24,822.42 L310.57,823.89 L311.9,825.38 L313.23,826.88 L314.56,828.38 L315.89,829.88 L317.22,831.4 L318.55,832.91 L319.88,834.43 L321.21,835.95 L322.54,837.47 L323.87,838.99 L325.2,840.52 L326.53,842.04 L327.86,843.55 L329.19,845.08 L330.52,846.59 L331.85,848.1 L333.18,849.61 L334.51,851.11 L335.84,852.61 L337.17,854.11 L338.5,855.6 L339.83,857.09 L341.16,858.57 L342.49,860.04 L343.82,861.51 L345.15,862.98 L346.48,864.44 L347.81,865.89 L349.14,867.34 L350.47,868.79 L351.8,870.23 L353.13,871.67 L354.46,873.1 L355.8,874.54 L357.13,875.97 L358.46,877.4 L359.79,878.84 L361.12,880.28 L362.45,881.72 L363.78,883.17 L365.11,884.63 L366.44,886.1 L367.77,887.56 L369.1,889.05 L370.43,890.54 L371.76,892.04 L373.09,893.56 L374.42,895.07 L375.75,896.6 L377.08,898.14 L378.41,899.68 L379.74,901.23 L381.07,902.79 L382.4,904.35 L383.73,905.93 L385.06,907.51 L386.39,909.08 L387.72,910.67 L389.05,912.27 L390.38,913.86 L391.71,915.46 L393.04,917.07 L394.37,918.67 L395.7,920.29 L397.03,921.91 L398.36,923.53 L399.69,925.16 L401.02,926.79 L402.35,928.43 L403.68,930.07 L405.01,931.72 L406.34,933.37 L407.67,935.03 L409,936.68 L410.33,938.34 L411.66,940.01 L412.99,941.67 L414.32,943.33 L415.65,944.98 L416.99,946.64 L418.32,948.29 L419.65,949.94 L420.98,951.58 L422.31,953.21 L423.64,954.84 L424.97,956.46 L426.3,958.07 L427.63,959.68 L428.96,961.28 L430.29,962.87 L431.62,964.46 L432.95,966.03 L434.28,967.6 L435.61,969.18 L436.94,970.73 L438.27,972.29 L439.6,973.84 L440.93,975.38 L442.26,976.93 L443.59,978.47 L444.92,980 L446.25,981.53 L447.58,983.06 L448.91,984.59 L450.24,986.12 L451.57,987.64 L452.9,989.17 L454.23,990.69 L455.56,992.21 L456.89,993.73 L458.22,995.26 L459.55,996.78 L460.88,998.3 L462.21,999.82 L463.54,1001.35 L464.87,1002.87 L466.2,1004.39 L467.53,1005.91 L468.86,1007.43 L470.19,1008.95 L471.52,1010.47 L472.85,1011.99 L474.18,1013.51 L475.51,1015.03 L476.84,1016.55 L478.18,1018.07 L479.51,1019.6 L480.84,1021.12 L482.17,1022.64 L483.5,1024.17 L484.83,1025.7 L486.16,1027.24 L487.49,1028.78 L488.82,1030.32 L490.15,1031.87 L491.48,1033.43 L492.81,1034.98 L494.14,1036.55 L495.47,1038.12 L496.8,1039.69 L498.13,1041.27 L499.46,1042.85 L500.79,1044.44 L502.12,1046.03 L503.45,1047.62 L504.78,1049.21 L506.11,1050.81 L507.44,1052.4 L508.77,1053.99 L510.1,1055.59 L511.43,1057.18 L512.76,1058.78 L514.09,1060.37 L515.42,1061.96 L516.75,1063.55 L518.08,1065.13 L519.41,1066.72 L520.74,1068.3 L522.07,1069.88 L523.4,1071.46 L524.73,1073.03 L526.06,1074.61 L527.39,1076.18 L528.72,1077.75 L530.05,1079.32 L531.38,1080.89 L532.71,1082.45 L534.04,1084.01 L535.37,1085.58 L536.7,1087.14 L538.03,1088.7 L539.37,1090.26 L540.7,1091.82 L542.03,1093.38 L543.36,1094.95 L544.69,1096.51 L546.02,1098.07 L547.35,1099.63 L548.68,1101.19 L550.01,1102.75 L551.34,1104.31 L552.67,1105.87 L554,1107.43 L555.33,1108.99 L556.66,1110.55 L557.99,1112.11 L559.32,1113.67 L560.65,1115.23 L561.98,1116.79 L563.31,1118.35 L564.64,1119.91 L565.97,1121.47 L567.3,1123.02 L568.63,1124.58 L569.96,1126.14 L571.29,1127.7 L572.62,1129.25 L573.95,1130.81 L575.28,1132.36 L576.61,1133.92 L577.94,1135.47 L579.27,1137.03 L580.6,1138.58 L581.93,1140.13 L583.26,1141.68 L584.59,1143.23 L585.92,1144.78 L587.25,1146.33 L588.58,1147.88 L589.91,1149.43 L591.24,1150.97 L592.57,1152.51 L593.9,1154.06 L595.23,1155.6 L596.56,1157.14 L597.89,1158.68 L599.22,1160.21 L600.56,1161.75 L601.89,1163.28 L603.22,1164.82 L604.55,1166.35 L605.88,1167.88 L607.21,1169.41 L608.54,1170.95 L609.87,1172.48 L611.2,1174.01 L612.53,1175.54 L613.86,1177.07 L615.19,1178.6 L616.52,1180.14 L617.85,1181.67 L619.18,1183.21 L620.51,1184.75 L621.84,1186.28 L623.17,1187.83 L624.5,1189.37 L625.83,1190.91 L627.16,1192.46 L628.49,1194.01 L629.82,1195.55 L631.15,1197.11 L632.48,1198.66 L633.81,1200.21 L635.14,1201.77 L636.47,1203.33 L637.8,1204.89 L639.13,1206.45 L640.46,1208.01 L641.79,1209.58 L643.12,1211.14 L644.45,1212.71 L645.78,1214.27 L647.11,1215.84 L648.44,1217.41 L649.77,1218.97 L651.1,1220.54 L652.43,1222.11 L653.76,1223.68 L655.09,1225.24 L656.42,1226.81 L657.75,1228.37 L659.08,1229.94 L660.41,1231.5 L661.75,1233.06 L663.08,1234.62 L664.41,1236.18 L665.74,1237.74 L667.07,1239.29 L668.4,1240.85 L669.73,1242.4 L671.06,1243.95 L672.39,1245.5 L673.72,1247.04 L675.05,1248.59 L676.38,1250.13 L677.71,1251.67 L679.04,1253.21 L680.37,1254.75 L681.7,1256.29 L683.03,1257.82 L684.36,1259.36 L685.69,1260.89 L687.02,1262.42 L688.35,1263.95 L689.68,1265.47 L691.01,1267 L692.34,1268.52 L693.67,1270.04 L695,1271.56 L696.33,1273.08 L697.66,1274.6 L698.99,1276.11 L700.32,1277.63 L701.65,1279.15 L702.98,1280.66 L704.31,1282.18 L705.64,1283.69 L706.97,1285.21 L708.3,1286.73 L709.63,1288.26 L710.96,1289.78 L712.29,1291.31 L713.62,1292.84 L714.95,1294.37 L716.28,1295.9 L717.61,1297.44 L718.94,1298.98 L720.27,1300.52 L721.6,1302.07 L722.94,1303.62 L724.27,1305.16 L725.6,1306.72 L726.93,1308.27 L728.26,1309.83 L729.59,1311.39 L730.92,1312.95 L732.25,1314.51 L733.58,1316.07 L734.91,1317.64 L736.24,1319.21 L737.57,1320.78 L738.9,1322.35 L740.23,1323.92 L741.56,1325.5 L742.89,1327.08 L744.22,1328.65 L745.55,1330.23 L746.88,1331.81 L748.21,1333.38 L749.54,1334.96 L750.87,1336.53 L752.2,1338.11 L753.53,1339.68 L754.86,1341.25 L756.19,1342.82 L757.52,1344.38 L758.85,1345.95 L760.18,1347.51 L761.51,1349.07 L762.84,1350.63 L764.17,1352.19 L765.5,1353.75 L766.83,1355.3 L768.16,1356.85 L769.49,1358.4 L770.82,1359.95 L772.15,1361.49 L773.48,1363.04 L774.81,1364.58 L776.14,1366.12 L777.47,1367.66 L778.8,1369.2 L780.13,1370.73 L781.46,1372.27 L782.79,1373.81 L784.13,1375.35 L785.46,1376.89 L786.79,1378.43 L788.12,1379.98 L789.45,1381.52 L790.78,1383.07 L792.11,1384.62 L793.44,1386.17 L794.77,1387.72 L796.1,1389.27 L797.43,1390.82 L798.76,1392.38 L800.09,1393.93 L801.42,1395.5 L802.75,1397.06 L804.08,1398.62 L805.41,1400.19 L806.74,1401.76 L808.07,1403.33 L809.4,1404.91 L810.73,1406.49 L812.06,1408.06 L813.39,1409.64 L814.72,1411.22 L816.05,1412.81 L817.38,1414.39 L818.71,1415.98 L820.04,1417.56 L821.37,1419.15 L822.7,1420.74 L824.03,1422.32 L825.36,1423.91 L826.69,1425.5 L828.02,1427.09 L829.35,1428.67 L830.68,1430.26 L832.01,1431.85 L833.34,1433.43 L834.67,1435.02 L836,1436.6 L837.33,1438.18 L838.66,1439.77 L839.99,1441.35 L841.32,1442.93 L842.65,1444.51 L843.98,1446.08 L845.32,1447.66 L846.65,1449.23 L847.98,1450.81 L849.31,1452.38 L850.64,1453.95 L851.97,1455.52 L853.3,1457.1 L854.63,1458.66 L855.96,1460.23 L857.29,1461.8 L858.62,1463.37 L859.95,1464.93 L861.28,1466.5 L862.61,1468.06 L863.94,1469.62 L865.27,1471.18 L866.6,1472.75 L867.93,1474.31 L869.26,1475.87 L870.59,1477.43 L871.92,1478.99 L873.25,1480.55 L874.58,1482.11 L875.91,1483.67 L877.24,1485.22 L878.57,1486.78 L879.9,1488.34 L881.23,1489.9 L882.56,1491.46 L883.89,1493.01 L885.22,1494.57 L886.55,1496.13 L887.88,1497.69 L889.21,1499.24 L890.54,1500.8 L891.87,1502.36 L893.2,1503.91 L894.53,1505.47 L895.86,1507.03 L897.19,1508.58 L898.52,1510.14 L899.85,1511.7 L901.18,1513.25 L902.51,1514.81 L903.84,1516.36 L905.17,1517.92 L906.51,1519.48 L907.84,1521.03 L909.17,1522.59 L910.5,1524.15 L911.83,1525.7 L913.16,1527.26 L914.49,1528.82 L915.82,1530.37 L917.15,1531.93 L918.48,1533.48 L919.81,1535.04 L921.14,1536.6 L922.47,1538.15 L923.8,1539.71 L925.13,1541.27 L926.46,1542.82 L927.79,1544.38 L929.12,1545.93 L930.45,1547.49 L931.78,1549.05 L933.11,1550.6 L934.44,1552.16 L935.77,1553.72 L937.1,1555.27" fill="none" stroke="#cc2018" stroke-width="1.7" stroke-dasharray="7.5 5.8" stroke-dashoffset="8.81"/>
<path d="M140.3,1339.88 L141.63,1339.02 L142.96,1338.17 L144.29,1337.32 L145.62,1336.46 L146.95,1335.61 L148.28,1334.76 L149.61,1333.9 L150.94,1333.05 L152.27,1332.2 L153.6,1331.35 L154.93,1330.5 L156.26,1329.65 L157.59,1328.79 L158.92,1327.94 L160.25,1327.09 L161.58,1326.24 L162.91,1325.39 L164.24,1324.54 L165.57,1323.7 L166.9,1322.85 L168.23,1322 L169.56,1321.15 L170.89,1320.3 L172.23,1319.46 L173.56,1318.61 L174.89,1317.76 L176.22,1316.91 L177.55,1316.07 L178.88,1315.22 L180.21,1314.38 L181.54,1313.53 L182.87,1312.69 L184.2,1311.84 L185.53,1311 L186.86,1310.16 L188.19,1309.31 L189.52,1308.47 L190.85,1307.63 L192.18,1306.79 L193.51,1305.95 L194.84,1305.1 L196.17,1304.26 L197.5,1303.42 L198.83,1302.58 L200.16,1301.74 L201.49,1300.9 L202.82,1300.07 L204.15,1299.23 L205.48,1298.39 L206.81,1297.55 L208.14,1296.72 L209.47,1295.88 L210.8,1295.04 L212.13,1294.21 L213.46,1293.37 L214.79,1292.54 L216.12,1291.71 L217.45,1290.87 L218.78,1290.04 L220.11,1289.21 L221.44,1288.37 L222.77,1287.54 L224.1,1286.71 L225.43,1285.88 L226.76,1285.05 L228.09,1284.22 L229.42,1283.39 L230.75,1282.57 L232.08,1281.74 L233.42,1280.91 L234.75,1280.08 L236.08,1279.26 L237.41,1278.43 L238.74,1277.61 L240.07,1276.78 L241.4,1275.96 L242.73,1275.14 L244.06,1274.31 L245.39,1273.49 L246.72,1272.67 L248.05,1271.85 L249.38,1271.03 L250.71,1270.21 L252.04,1269.39 L253.37,1268.57 L254.7,1267.76 L256.03,1266.94 L257.36,1266.12 L258.69,1265.31 L260.02,1264.49 L261.35,1263.68 L262.68,1262.87 L264.01,1262.05 L265.34,1261.24 L266.67,1260.43 L268,1259.62 L269.33,1258.81 L270.66,1258 L271.99,1257.19 L273.32,1256.39 L274.65,1255.58 L275.98,1254.77 L277.31,1253.97 L278.64,1253.17 L279.97,1252.36 L281.3,1251.56 L282.63,1250.76 L283.96,1249.96 L285.29,1249.16 L286.62,1248.36 L287.95,1247.56 L289.28,1246.76 L290.61,1245.97 L291.94,1245.17 L293.27,1244.37 L294.61,1243.58 L295.94,1242.79 L297.27,1242 L298.6,1241.21 L299.93,1240.41 L301.26,1239.63 L302.59,1238.84 L303.92,1238.05 L305.25,1237.26 L306.58,1236.48 L307.91,1235.69 L309.24,1234.91 L310.57,1234.13 L311.9,1233.35 L313.23,1232.57 L314.56,1231.79 L315.89,1231.01 L317.22,1230.23 L318.55,1229.46 L319.88,1228.68 L321.21,1227.91 L322.54,1227.14 L323.87,1226.37 L325.2,1225.6 L326.53,1224.83 L327.86,1224.06 L329.19,1223.29 L330.52,1222.53 L331.85,1221.76 L333.18,1221 L334.51,1220.24 L335.84,1219.48 L337.17,1218.72 L338.5,1217.96 L339.83,1217.2 L341.16,1216.45 L342.49,1215.7 L343.82,1214.94 L345.15,1214.19 L346.48,1213.44 L347.81,1212.69 L349.14,1211.95 L350.47,1211.2 L351.8,1210.46 L353.13,1209.71 L354.46,1208.97 L355.8,1208.23 L357.13,1207.49 L358.46,1206.76 L359.79,1206.02 L361.12,1205.29 L362.45,1204.55 L363.78,1203.82 L365.11,1203.09 L366.44,1202.36 L367.77,1201.64 L369.1,1200.91 L370.43,1200.19 L371.76,1199.47 L373.09,1198.75 L374.42,1198.03 L375.75,1197.31 L377.08,1196.6 L378.41,1195.89 L379.74,1195.18 L381.07,1194.47 L382.4,1193.76 L383.73,1193.05 L385.06,1192.35 L386.39,1191.65 L387.72,1190.94 L389.05,1190.25 L390.38,1189.55 L391.71,1188.85 L393.04,1188.16 L394.37,1187.47 L395.7,1186.78 L397.03,1186.09 L398.36,1185.41 L399.69,1184.72 L401.02,1184.04 L402.35,1183.36 L403.68,1182.69 L405.01,1182.01 L406.34,1181.34 L407.67,1180.67 L409,1180 L410.33,1179.33 L411.66,1178.67 L412.99,1178.01 L414.32,1177.35 L415.65,1176.69 L416.99,1176.03 L418.32,1175.38 L419.65,1174.73 L420.98,1174.08 L422.31,1173.43 L423.64,1172.79 L424.97,1172.15 L426.3,1171.51 L427.63,1170.87 L428.96,1170.24 L430.29,1169.6 L431.62,1168.97 L432.95,1168.35 L434.28,1167.72 L435.61,1167.1 L436.94,1166.48 L438.27,1165.86 L439.6,1165.25 L440.93,1164.64 L442.26,1164.03 L443.59,1163.42 L444.92,1162.82 L446.25,1162.22 L447.58,1161.62 L448.91,1161.02 L450.24,1160.43 L451.57,1159.84 L452.9,1159.25 L454.23,1158.67 L455.56,1158.09 L456.89,1157.51 L458.22,1156.93 L459.55,1156.36 L460.88,1155.79 L462.21,1155.22 L463.54,1154.66 L464.87,1154.1 L466.2,1153.54 L467.53,1152.98 L468.86,1152.43 L470.19,1151.88 L471.52,1151.34 L472.85,1150.8 L474.18,1150.26 L475.51,1149.72 L476.84,1149.19 L478.18,1148.66 L479.51,1148.13 L480.84,1147.61 L482.17,1147.09 L483.5,1146.57 L484.83,1146.06 L486.16,1145.55 L487.49,1145.05 L488.82,1144.54 L490.15,1144.05 L491.48,1143.55 L492.81,1143.06 L494.14,1142.57 L495.47,1142.08 L496.8,1141.6 L498.13,1141.13 L499.46,1140.65 L500.79,1140.18 L502.12,1139.71 L503.45,1139.25 L504.78,1138.79 L506.11,1138.34 L507.44,1137.88 L508.77,1137.44 L510.1,1136.99 L511.43,1136.55 L512.76,1136.12 L514.09,1135.68 L515.42,1135.25 L516.75,1134.83 L518.08,1134.41 L519.41,1133.99 L520.74,1133.58 L522.07,1133.17 L523.4,1132.77 L524.73,1132.37 L526.06,1131.97 L527.39,1131.58 L528.72,1131.19 L530.05,1130.81 L531.38,1130.43 L532.71,1130.05 L534.04,1129.68 L535.37,1129.31 L536.7,1128.95 L538.03,1128.59 L539.37,1128.24 L540.7,1127.89 L542.03,1127.54 L543.36,1127.2 L544.69,1126.86 L546.02,1126.53 L547.35,1126.2 L548.68,1125.88 L550.01,1125.56 L551.34,1125.25 L552.67,1124.94 L554,1124.63 L555.33,1124.33 L556.66,1124.03 L557.99,1123.74 L559.32,1123.46 L560.65,1123.17 L561.98,1122.9 L563.31,1122.62 L564.64,1122.35 L565.97,1122.09 L567.3,1121.83 L568.63,1121.58 L569.96,1121.33 L571.29,1121.08 L572.62,1120.84 L573.95,1120.61 L575.28,1120.38 L576.61,1120.15 L577.94,1119.93 L579.27,1119.72 L580.6,1119.51 L581.93,1119.3 L583.26,1119.1 L584.59,1118.9 L585.92,1118.71 L587.25,1118.52 L588.58,1118.34 L589.91,1118.17 L591.24,1118 L592.57,1117.83 L593.9,1117.67 L595.23,1117.51 L596.56,1117.36 L597.89,1117.21 L599.22,1117.07 L600.56,1116.94 L601.89,1116.81 L603.22,1116.68 L604.55,1116.56 L605.88,1116.44 L607.21,1116.33 L608.54,1116.23 L609.87,1116.13 L611.2,1116.03 L612.53,1115.94 L613.86,1115.86 L615.19,1115.78 L616.52,1115.7 L617.85,1115.63 L619.18,1115.57 L620.51,1115.51 L621.84,1115.45 L623.17,1115.4 L624.5,1115.36 L625.83,1115.32 L627.16,1115.29 L628.49,1115.26 L629.82,1115.23 L631.15,1115.22 L632.48,1115.2 L633.81,1115.2 L635.14,1115.19 L636.47,1115.2 L637.8,1115.2 L639.13,1115.22 L640.46,1115.23 L641.79,1115.26 L643.12,1115.29 L644.45,1115.32 L645.78,1115.36 L647.11,1115.4 L648.44,1115.45 L649.77,1115.5 L651.1,1115.56 L652.43,1115.63 L653.76,1115.7 L655.09,1115.77 L656.42,1115.85 L657.75,1115.94 L659.08,1116.03 L660.41,1116.12 L661.75,1116.22 L663.08,1116.33 L664.41,1116.44 L665.74,1116.55 L667.07,1116.67 L668.4,1116.8 L669.73,1116.93 L671.06,1117.06 L672.39,1117.2 L673.72,1117.35 L675.05,1117.5 L676.38,1117.65 L677.71,1117.81 L679.04,1117.98 L680.37,1118.15 L681.7,1118.33 L683.03,1118.51 L684.36,1118.69 L685.69,1118.88 L687.02,1119.08 L688.35,1119.27 L689.68,1119.48 L691.01,1119.69 L692.34,1119.9 L693.67,1120.12 L695,1120.34 L696.33,1120.57 L697.66,1120.81 L698.99,1121.04 L700.32,1121.29 L701.65,1121.53 L702.98,1121.79 L704.31,1122.04 L705.64,1122.3 L706.97,1122.57 L708.3,1122.84 L709.63,1123.12 L710.96,1123.4 L712.29,1123.68 L713.62,1123.97 L714.95,1124.26 L716.28,1124.56 L717.61,1124.86 L718.94,1125.17 L720.27,1125.48 L721.6,1125.8 L722.94,1126.12 L724.27,1126.44 L725.6,1126.77 L726.93,1127.1 L728.26,1127.44 L729.59,1127.78 L730.92,1128.13 L732.25,1128.48 L733.58,1128.83 L734.91,1129.19 L736.24,1129.55 L737.57,1129.92 L738.9,1130.29 L740.23,1130.66 L741.56,1131.04 L742.89,1131.43 L744.22,1131.81 L745.55,1132.21 L746.88,1132.6 L748.21,1133 L749.54,1133.4 L750.87,1133.81 L752.2,1134.22 L753.53,1134.64 L754.86,1135.06 L756.19,1135.48 L757.52,1135.91 L758.85,1136.34 L760.18,1136.77 L761.51,1137.21 L762.84,1137.65 L764.17,1138.09 L765.5,1138.54 L766.83,1139 L768.16,1139.45 L769.49,1139.91 L770.82,1140.38 L772.15,1140.84 L773.48,1141.31 L774.81,1141.79 L776.14,1142.26 L777.47,1142.75 L778.8,1143.23 L780.13,1143.72 L781.46,1144.21 L782.79,1144.7 L784.13,1145.2 L785.46,1145.7 L786.79,1146.21 L788.12,1146.72 L789.45,1147.23 L790.78,1147.74 L792.11,1148.26 L793.44,1148.78 L794.77,1149.3 L796.1,1149.83 L797.43,1150.36 L798.76,1150.89 L800.09,1151.43 L801.42,1151.97 L802.75,1152.51 L804.08,1153.06 L805.41,1153.6 L806.74,1154.15 L808.07,1154.71 L809.4,1155.27 L810.73,1155.83 L812.06,1156.39 L813.39,1156.95 L814.72,1157.52 L816.05,1158.09 L817.38,1158.67 L818.71,1159.24 L820.04,1159.82 L821.37,1160.4 L822.7,1160.99 L824.03,1161.58 L825.36,1162.17 L826.69,1162.76 L828.02,1163.35 L829.35,1163.95 L830.68,1164.55 L832.01,1165.15 L833.34,1165.76 L834.67,1166.37 L836,1166.98 L837.33,1167.59 L838.66,1168.21 L839.99,1168.82 L841.32,1169.44 L842.65,1170.06 L843.98,1170.69 L845.32,1171.32 L846.65,1171.95 L847.98,1172.58 L849.31,1173.21 L850.64,1173.85 L851.97,1174.48 L853.3,1175.12 L854.63,1175.77 L855.96,1176.41 L857.29,1177.06 L858.62,1177.71 L859.95,1178.36 L861.28,1179.01 L862.61,1179.67 L863.94,1180.32 L865.27,1180.98 L866.6,1181.64 L867.93,1182.31 L869.26,1182.97 L870.59,1183.64 L871.92,1184.31 L873.25,1184.98 L874.58,1185.65 L875.91,1186.33 L877.24,1187 L878.57,1187.68 L879.9,1188.36 L881.23,1189.04 L882.56,1189.73 L883.89,1190.41 L885.22,1191.1 L886.55,1191.79 L887.88,1192.48 L889.21,1193.17 L890.54,1193.87 L891.87,1194.56 L893.2,1195.26 L894.53,1195.96 L895.86,1196.66 L897.19,1197.36 L898.52,1198.07 L899.85,1198.77 L901.18,1199.48 L902.51,1200.19 L903.84,1200.9 L905.17,1201.61 L906.51,1202.32 L907.84,1203.04 L909.17,1203.76 L910.5,1204.47 L911.83,1205.19 L913.16,1205.91 L914.49,1206.64 L915.82,1207.36 L917.15,1208.08 L918.48,1208.81 L919.81,1209.54 L921.14,1210.27 L922.47,1211 L923.8,1211.73 L925.13,1212.46 L926.46,1213.2 L927.79,1213.93 L929.12,1214.67 L930.45,1215.41 L931.78,1216.15 L933.11,1216.89 L934.44,1217.63 L935.77,1218.37 L937.1,1219.12" fill="none" stroke="#cc2018" stroke-width="1.7" stroke-dasharray="7.5 5.8"/>
<path d="M140.3,1959.84 L141.63,1958.1 L142.96,1956.36 L144.29,1954.62 L145.62,1952.88 L146.95,1951.14 L148.28,1949.4 L149.61,1947.66 L150.94,1945.92 L152.27,1944.18 L153.6,1942.44 L154.93,1940.7 L156.26,1938.96 L157.59,1937.22 L158.92,1935.48 L160.25,1933.74 L161.58,1932 L162.91,1930.25 L164.24,1928.51 L165.57,1926.77 L166.9,1925.03 L168.23,1923.29 L169.56,1921.55 L170.89,1919.81 L172.23,1918.07 L173.56,1916.33 L174.89,1914.59 L176.22,1912.85 L177.55,1911.11 L178.88,1909.37 L180.21,1907.63 L181.54,1905.89 L182.87,1904.15 L184.2,1902.4 L185.53,1900.66 L186.86,1898.92 L188.19,1897.18 L189.52,1895.44 L190.85,1893.7 L192.18,1891.96 L193.51,1890.22 L194.84,1888.48 L196.17,1886.74 L197.5,1885 L198.83,1883.26 L200.16,1881.52 L201.49,1879.78 L202.82,1878.04 L204.15,1876.3 L205.48,1874.56 L206.81,1872.82 L208.14,1871.07 L209.47,1869.33 L210.8,1867.59 L212.13,1865.85 L213.46,1864.11 L214.79,1862.37 L216.12,1860.63 L217.45,1858.89 L218.78,1857.15 L220.11,1855.41 L221.44,1853.67 L222.77,1851.93 L224.1,1850.19 L225.43,1848.45 L226.76,1846.71 L228.09,1844.97 L229.42,1843.23 L230.75,1841.48 L232.08,1839.74 L233.42,1838 L234.75,1836.26 L236.08,1834.52 L237.41,1832.78 L238.74,1831.04 L240.07,1829.3 L241.4,1827.56 L242.73,1825.82 L244.06,1824.08 L245.39,1822.34 L246.72,1820.6 L248.05,1818.86 L249.38,1817.12 L250.71,1815.38 L252.04,1813.64 L253.37,1811.9 L254.7,1810.16 L256.03,1808.42 L257.36,1806.67 L258.69,1804.93 L260.02,1803.19 L261.35,1801.45 L262.68,1799.71 L264.01,1797.97 L265.34,1796.23 L266.67,1794.49 L268,1792.75 L269.33,1791.01 L270.66,1789.27 L271.99,1787.53 L273.32,1785.79 L274.65,1784.05 L275.98,1782.31 L277.31,1780.57 L278.64,1778.83 L279.97,1777.09 L281.3,1775.35 L282.63,1773.61 L283.96,1771.87 L285.29,1770.13 L286.62,1768.38 L287.95,1766.64 L289.28,1764.9 L290.61,1763.16 L291.94,1761.42 L293.27,1759.68 L294.61,1757.94 L295.94,1756.2 L297.27,1754.46 L298.6,1752.72 L299.93,1750.98 L301.26,1749.24 L302.59,1747.5 L303.92,1745.76 L305.25,1744.02 L306.58,1742.28 L307.91,1740.54 L309.24,1738.8 L310.57,1737.06 L311.9,1735.32 L313.23,1733.58 L314.56,1731.84 L315.89,1730.1 L317.22,1728.36 L318.55,1726.62 L319.88,1724.88 L321.21,1723.14 L322.54,1721.4 L323.87,1719.66 L325.2,1717.92 L326.53,1716.18 L327.86,1714.44 L329.19,1712.7 L330.52,1710.96 L331.85,1709.22 L333.18,1707.48 L334.51,1705.74 L335.84,1704 L337.17,1702.26 L338.5,1700.52 L339.83,1698.78 L341.16,1697.04 L342.49,1695.3 L343.82,1693.56 L345.15,1691.82 L346.48,1690.08 L347.81,1688.34 L349.14,1686.6 L350.47,1684.86 L351.8,1683.12 L353.13,1681.38 L354.46,1679.64 L355.8,1677.9 L357.13,1676.16 L358.46,1674.42 L359.79,1672.68 L361.12,1670.94 L362.45,1669.2 L363.78,1667.46 L365.11,1665.72 L366.44,1663.98 L367.77,1662.24 L369.1,1660.5 L370.43,1658.76 L371.76,1657.02 L373.09,1655.28 L374.42,1653.54 L375.75,1651.8 L377.08,1650.06 L378.41,1648.32 L379.74,1646.58 L381.07,1644.84 L382.4,1643.1 L383.73,1641.36 L385.06,1639.62 L386.39,1637.89 L387.72,1636.15 L389.05,1634.41 L390.38,1632.67 L391.71,1630.93 L393.04,1629.19 L394.37,1627.45 L395.7,1625.71 L397.03,1623.97 L398.36,1622.23 L399.69,1620.49 L401.02,1618.75 L402.35,1617.02 L403.68,1615.28 L405.01,1613.54 L406.34,1611.8 L407.67,1610.06 L409,1608.32 L410.33,1606.58 L411.66,1604.84 L412.99,1603.11 L414.32,1601.37 L415.65,1599.63 L416.99,1597.89 L418.32,1596.15 L419.65,1594.41 L420.98,1592.68 L422.31,1590.94 L423.64,1589.2 L424.97,1587.46 L426.3,1585.72 L427.63,1583.98 L428.96,1582.25 L430.29,1580.51 L431.62,1578.77 L432.95,1577.03 L434.28,1575.3 L435.61,1573.56 L436.94,1571.82 L438.27,1570.08 L439.6,1568.35 L440.93,1566.61 L442.26,1564.87 L443.59,1563.13 L444.92,1561.4 L446.25,1559.66 L447.58,1557.92 L448.91,1556.19 L450.24,1554.45 L451.57,1552.71 L452.9,1550.98 L454.23,1549.24 L455.56,1547.5 L456.89,1545.77 L458.22,1544.03 L459.55,1542.29 L460.88,1540.56 L462.21,1538.82 L463.54,1537.09 L464.87,1535.35 L466.2,1533.61 L467.53,1531.88 L468.86,1530.14 L470.19,1528.41 L471.52,1526.67 L472.85,1524.94 L474.18,1523.2 L475.51,1521.47 L476.84,1519.73 L478.18,1518 L479.51,1516.27 L480.84,1514.53 L482.17,1512.8 L483.5,1511.06 L484.83,1509.33 L486.16,1507.6 L487.49,1505.86 L488.82,1504.13 L490.15,1502.4 L491.48,1500.66 L492.81,1498.93 L494.14,1497.2 L495.47,1495.47 L496.8,1493.73 L498.13,1492 L499.46,1490.27 L500.79,1488.54 L502.12,1486.81 L503.45,1485.08 L504.78,1483.34 L506.11,1481.61 L507.44,1479.88 L508.77,1478.15 L510.1,1476.42 L511.43,1474.69 L512.76,1472.96 L514.09,1471.23 L515.42,1469.51 L516.75,1467.78 L518.08,1466.05 L519.41,1464.32 L520.74,1462.59 L522.07,1460.86 L523.4,1459.14 L524.73,1457.41 L526.06,1455.68 L527.39,1453.96 L528.72,1452.23 L530.05,1450.51 L531.38,1448.78 L532.71,1447.05 L534.04,1445.33 L535.37,1443.61 L536.7,1441.88 L538.03,1440.16 L539.37,1438.44 L540.7,1436.71 L542.03,1434.99 L543.36,1433.27 L544.69,1431.55 L546.02,1429.83 L547.35,1428.1 L548.68,1426.38 L550.01,1424.66 L551.34,1422.95 L552.67,1421.23 L554,1419.51 L555.33,1417.79 L556.66,1416.07 L557.99,1414.36 L559.32,1412.64 L560.65,1410.92 L561.98,1409.21 L563.31,1407.5 L564.64,1405.78 L565.97,1404.07 L567.3,1402.36 L568.63,1400.64 L569.96,1398.93 L571.29,1397.22 L572.62,1395.51 L573.95,1393.8 L575.28,1392.09 L576.61,1390.39 L577.94,1388.68 L579.27,1386.97 L580.6,1385.27 L581.93,1383.56 L583.26,1381.86 L584.59,1380.16 L585.92,1378.45 L587.25,1376.75 L588.58,1375.05 L589.91,1373.35 L591.24,1371.65 L592.57,1369.96 L593.9,1368.26 L595.23,1366.56 L596.56,1364.87 L597.89,1363.18 L599.22,1361.48 L600.56,1359.79 L601.89,1358.1 L603.22,1356.41 L604.55,1354.73 L605.88,1353.04 L607.21,1351.35 L608.54,1349.67 L609.87,1347.99 L611.2,1346.31 L612.53,1344.63 L613.86,1342.95 L615.19,1341.27 L616.52,1339.59 L617.85,1337.92 L619.18,1336.25 L620.51,1334.57 L621.84,1332.9 L623.17,1331.24 L624.5,1329.57 L625.83,1327.91 L627.16,1326.24 L628.49,1324.58 L629.82,1322.92 L631.15,1321.26 L632.48,1319.61 L633.81,1317.96 L635.14,1316.3 L636.47,1314.65 L637.8,1313.01 L639.13,1311.36 L640.46,1309.72 L641.79,1308.08 L643.12,1306.44 L644.45,1304.8 L645.78,1303.17 L647.11,1301.54 L648.44,1299.91 L649.77,1298.28 L651.1,1296.66 L652.43,1295.04 L653.76,1293.42 L655.09,1291.8 L656.42,1290.19 L657.75,1288.58 L659.08,1286.97 L660.41,1285.37 L661.75,1283.77 L663.08,1282.17 L664.41,1280.58 L665.74,1278.99 L667.07,1277.4 L668.4,1275.82 L669.73,1274.24 L671.06,1272.66 L672.39,1271.09 L673.72,1269.52 L675.05,1267.95 L676.38,1266.39 L677.71,1264.84 L679.04,1263.28 L680.37,1261.74 L681.7,1260.19 L683.03,1258.65 L684.36,1257.12 L685.69,1255.59 L687.02,1254.06 L688.35,1252.54 L689.68,1251.03 L691.01,1249.52 L692.34,1248.01 L693.67,1246.51 L695,1245.02 L696.33,1243.53 L697.66,1242.05 L698.99,1240.57 L700.32,1239.1 L701.65,1237.64 L702.98,1236.18 L704.31,1234.73 L705.64,1233.28 L706.97,1231.85 L708.3,1230.41 L709.63,1228.99 L710.96,1227.57 L712.29,1226.16 L713.62,1224.76 L714.95,1223.37 L716.28,1221.98 L717.61,1220.6 L718.94,1219.23 L720.27,1217.87 L721.6,1216.51 L722.94,1215.17 L724.27,1213.83 L725.6,1212.51 L726.93,1211.19 L728.26,1209.88 L729.59,1208.58 L730.92,1207.29 L732.25,1206.01 L733.58,1204.74 L734.91,1203.48 L736.24,1202.24 L737.57,1201 L738.9,1199.77 L740.23,1198.56 L741.56,1197.36 L742.89,1196.16 L744.22,1194.98 L745.55,1193.82 L746.88,1192.66 L748.21,1191.52 L749.54,1190.39 L750.87,1189.27 L752.2,1188.17 L753.53,1187.08 L754.86,1186.01 L756.19,1184.94 L757.52,1183.9 L758.85,1182.87 L760.18,1181.85 L761.51,1180.84 L762.84,1179.86 L764.17,1178.89 L765.5,1177.93 L766.83,1176.99 L768.16,1176.07 L769.49,1175.16 L770.82,1174.27 L772.15,1173.39 L773.48,1172.54 L774.81,1171.7 L776.14,1170.88 L777.47,1170.07 L778.8,1169.29 L780.13,1168.52 L781.46,1167.78 L782.79,1167.05 L784.13,1166.34 L785.46,1165.65 L786.79,1164.98 L788.12,1164.33 L789.45,1163.7 L790.78,1163.09 L792.11,1162.5 L793.44,1161.93 L794.77,1161.38 L796.1,1160.85 L797.43,1160.34 L798.76,1159.86 L800.09,1159.39 L801.42,1158.95 L802.75,1158.53 L804.08,1158.13 L805.41,1157.76 L806.74,1157.4 L808.07,1157.07 L809.4,1156.76 L810.73,1156.48 L812.06,1156.21 L813.39,1155.97 L814.72,1155.75 L816.05,1155.56 L817.38,1155.39 L818.71,1155.24 L820.04,1155.11 L821.37,1155.01 L822.7,1154.92 L824.03,1154.87 L825.36,1154.83 L826.69,1154.82 L828.02,1154.83 L829.35,1154.87 L830.68,1154.93 L832.01,1155.01 L833.34,1155.11 L834.67,1155.24 L836,1155.38 L837.33,1155.56 L838.66,1155.75 L839.99,1155.97 L841.32,1156.21 L842.65,1156.47 L843.98,1156.75 L845.32,1157.05 L846.65,1157.38 L847.98,1157.73 L849.31,1158.1 L850.64,1158.49 L851.97,1158.9 L853.3,1159.34 L854.63,1159.79 L855.96,1160.26 L857.29,1160.76 L858.62,1161.28 L859.95,1161.81 L861.28,1162.37 L862.61,1162.94 L863.94,1163.53 L865.27,1164.15 L866.6,1164.78 L867.93,1165.43 L869.26,1166.1 L870.59,1166.79 L871.92,1167.49 L873.25,1168.21 L874.58,1168.95 L875.91,1169.71 L877.24,1170.49 L878.57,1171.28 L879.9,1172.09 L881.23,1172.91 L882.56,1173.75 L883.89,1174.61 L885.22,1175.48 L886.55,1176.36 L887.88,1177.27 L889.21,1178.18 L890.54,1179.11 L891.87,1180.06 L893.2,1181.02 L894.53,1181.99 L895.86,1182.98 L897.19,1183.98 L898.52,1184.99 L899.85,1186.02 L901.18,1187.06 L902.51,1188.11 L903.84,1189.17 L905.17,1190.25 L906.51,1191.33 L907.84,1192.43 L909.17,1193.54 L910.5,1194.66 L911.83,1195.79 L913.16,1196.94 L914.49,1198.09 L915.82,1199.25 L917.15,1200.42 L918.48,1201.61 L919.81,1202.8 L921.14,1204 L922.47,1205.21 L923.8,1206.43 L925.13,1207.66 L926.46,1208.9 L927.79,1210.15 L929.12,1211.4 L930.45,1212.66 L931.78,1213.93 L933.11,1215.21 L934.44,1216.5 L935.77,1217.79 L937.1,1219.09" fill="none" stroke="#cc2018" stroke-width="1.7" stroke-dasharray="7.5 5.8"/>
</g>
<rect x="140.3" y="673.5" width="796.8" height="585.6" fill="none" stroke="#000" stroke-width="2"/>
<path d="M177.5,1259.1v-10M177.5,673.5v10M215.49,1259.1v-5M215.49,673.5v5M253.47,1259.1v-10M253.47,673.5v10M291.45,1259.1v-5M291.45,673.5v5M329.44,1259.1v-10M329.44,673.5v10M367.43,1259.1v-5M367.43,673.5v5M405.41,1259.1v-10M405.41,673.5v10M443.39,1259.1v-5M443.39,673.5v5M481.38,1259.1v-10M481.38,673.5v10M519.37,1259.1v-5M519.37,673.5v5M557.35,1259.1v-10M557.35,673.5v10M595.34,1259.1v-5M595.34,673.5v5M633.32,1259.1v-10M633.32,673.5v10M671.31,1259.1v-5M671.31,673.5v5M709.29,1259.1v-10M709.29,673.5v10M747.27,1259.1v-5M747.27,673.5v5M785.26,1259.1v-10M785.26,673.5v10M823.25,1259.1v-5M823.25,673.5v5M861.23,1259.1v-10M861.23,673.5v10M899.22,1259.1v-5M899.22,673.5v5M140.3,1206.18h5M937.1,1206.18h-5M140.3,1174.87h5M937.1,1174.87h-5M140.3,1152.65h5M937.1,1152.65h-5M140.3,1135.42h5M937.1,1135.42h-5M140.3,1121.34h5M937.1,1121.34h-5M140.3,1109.44h5M937.1,1109.44h-5M140.3,1099.13h5M937.1,1099.13h-5M140.3,1090.04h5M937.1,1090.04h-5M140.3,1081.9h10M937.1,1081.9h-10M140.3,1028.38h5M937.1,1028.38h-5M140.3,997.07h5M937.1,997.07h-5M140.3,974.85h5M937.1,974.85h-5M140.3,957.62h5M937.1,957.62h-5M140.3,943.54h5M937.1,943.54h-5M140.3,931.64h5M937.1,931.64h-5M140.3,921.33h5M937.1,921.33h-5M140.3,912.24h5M937.1,912.24h-5M140.3,904.1h10M937.1,904.1h-10M140.3,850.58h5M937.1,850.58h-5M140.3,819.27h5M937.1,819.27h-5M140.3,797.05h5M937.1,797.05h-5M140.3,779.82h5M937.1,779.82h-5M140.3,765.74h5M937.1,765.74h-5M140.3,753.84h5M937.1,753.84h-5M140.3,743.53h5M937.1,743.53h-5M140.3,734.44h5M937.1,734.44h-5M140.3,726.3h10M937.1,726.3h-10" stroke="#000" stroke-width="2" fill="none"/>
<text x="177.5" y="1297.3" font-family="Liberation Sans, sans-serif" font-size="33.5" text-anchor="middle" transform="translate(0,1297.3) scale(1,1.045) translate(0,-1297.3)">-3</text>
<text x="253.47" y="1297.3" font-family="Liberation Sans, sans-serif" font-size="33.5" text-anchor="middle" transform="translate(0,1297.3) scale(1,1.045) translate(0,-1297.3)">-2</text>
<text x="329.44" y="1297.3" font-family="Liberation Sans, sans-serif" font-size="33.5" text-anchor="middle" transform="translate(0,1297.3) scale(1,1.045) translate(0,-1297.3)">-1</text>
<text x="405.41" y="1297.3" font-family="Liberation Sans, sans-serif" font-size="33.5" text-anchor="middle" transform="translate(0,1297.3) scale(1,1.045) translate(0,-1297.3)">0</text>
<text x="481.38" y="1297.3" font-family="Liberation Sans, sans-serif" font-size="33.5" text-anchor="middle" transform="translate(0,1297.3) scale(1,1.045) translate(0,-1297.3)">1</text>
<text x="557.35" y="1297.3" font-family="Liberation Sans, sans-serif" font-size="33.5" text-anchor="middle" transform="translate(0,1297.3) scale(1,1.045) translate(0,-1297.3)">2</text>
<text x="633.32" y="1297.3" font-family="Liberation Sans, sans-serif" font-size="33.5" text-anchor="middle" transform="translate(0,1297.3) scale(1,1.045) translate(0,-1297.3)">3</text>
<text x="709.29" y="1297.3" font-family="Liberation Sans, sans-serif" font-size="33.5" text-anchor="middle" transform="translate(0,1297.3) scale(1,1.045) translate(0,-1297.3)">4</text>
<text x="785.26" y="1297.3" font-family="Liberation Sans, sans-serif" font-size="33.5" text-anchor="middle" transform="translate(0,1297.3) scale(1,1.045) translate(0,-1297.3)">5</text>
<text x="861.23" y="1297.3" font-family="Liberation Sans, sans-serif" font-size="33.5" text-anchor="middle" transform="translate(0,1297.3) scale(1,1.045) translate(0,-1297.3)">6</text>
<text x="937.2" y="1297.3" font-family="Liberation Sans, sans-serif" font-size="33.5" text-anchor="middle" transform="translate(0,1297.3) scale(1,1.045) translate(0,-1297.3)">7</text>
<text x="128" y="1272.6" font-family="Liberation Sans, sans-serif" font-size="32.5" text-anchor="end" transform="translate(0,1272.6) scale(1,1.05) translate(0,-1272.6)">10<tspan font-size="23.2" dy="-11.9">-3</tspan></text>
<text x="128" y="1094.8" font-family="Liberation Sans, sans-serif" font-size="32.5" text-anchor="end" transform="translate(0,1094.8) scale(1,1.05) translate(0,-1094.8)">10<tspan font-size="23.2" dy="-11.9">-2</tspan></text>
<text x="128" y="917" font-family="Liberation Sans, sans-serif" font-size="32.5" text-anchor="end" transform="translate(0,917) scale(1,1.05) translate(0,-917)">10<tspan font-size="23.2" dy="-11.9">-1</tspan></text>
<text x="128" y="739.2" font-family="Liberation Sans, sans-serif" font-size="32.5" text-anchor="end" transform="translate(0,739.2) scale(1,1.05) translate(0,-739.2)">10<tspan font-size="23.2" dy="-11.9">0</tspan></text>
<clipPath id="cia"><rect x="507.6" y="3.5" width="431.5" height="290.8"/></clipPath>
<g clip-path="url(#cia)" fill="none" stroke-width="3" stroke-linejoin="round" stroke-linecap="round">
<path d="M507.6,241 L509.4,255.6 L511.6,267.3 L516,266.6 L519.6,260.3 L524,262.2 L527.7,261.2 L530.6,257.8 L535,254.4 L540.1,246.1 L543.8,242.4 L547.4,237.3 L549.6,230 L555.5,224.9 L559.9,216.1 L562.8,213.9 L566.5,209.5 L569.4,203.7 L575.2,198.5 L579.6,189.8 L584,183.2 L589.9,170.7 L592.8,168.5 L598.7,162.7 L604.5,151.7 L608.9,140 L611.8,137.1 L618.4,129 L625.1,117.9 L629.5,110.3 L634,104.5 L638.4,96.9 L642.9,95.3 L649.2,91.2 L656.9,81 L661.9,73.4 L668.9,61.9 L675.9,62.3 L681,60.7 L688.6,56.2 L696.3,55.6 L699.4,54.1 L709,44.8 L714.1,44.8 L718.5,43.5 L729.3,46.9 L735,47.8 L738.8,47.2 L749,50.1 L757.9,48.4 L767.4,59 L778.2,63 L788.4,71.3 L798.6,81.5 L810,89.1 L816.4,92.9 L827.8,102.5 L835.4,106.3 L844,112.8 L850.4,117.5 L858.8,123.4 L866.8,133.4 L877.4,130.8 L886.4,142.4 L898,149.9 L907.6,152.5 L916.6,166.3 L927.2,168.9 L933,181.1 L939.3,192.2" stroke="#4cb810"/>
<path d="M507.6,122.4 L510.1,142.9 L515.2,143.7 L519.6,137.8 L524,140.7 L528.4,140.3 L531.3,138.5 L535,138.2 L540.1,131.2 L543.8,130.9 L547.4,127.6 L550.4,123.2 L555.5,123.9 L559.9,119.2 L563.5,120.2 L566.5,119.5 L569.4,115.9 L575.2,117.3 L580.4,114.4 L584,112.9 L589.9,107.8 L592.8,109.3 L598.7,110.4 L604.5,107.1 L609.6,103 L617.7,103.7 L620.6,102.2 L625.1,103.3 L629.5,100.7 L634,101.4 L639.1,99.4 L645.4,104.5 L651.1,106.2 L658.1,104.9 L663.9,102.4 L668.9,98.2 L673.4,103.9 L681,108.7 L688.6,110.3 L693.7,113.4 L699.4,115.1 L707.7,110.5 L714.1,112.5 L718.5,113 L727.4,118.5 L734.4,120.4 L745.2,122.5 L757.9,119.6 L768,127.6 L778.2,127.6 L788.4,129.8 L796,133.6 L804.9,134.6 L813.8,133.6 L826.5,133 L836.7,129.1 L848.2,129.4 L857.8,126.2 L866.8,127.6 L876.3,115.4 L887.4,118.1 L897,115.4 L907,109.9 L917.1,115.4 L926.6,109.6 L932.5,117 L939.3,123.4" stroke="#cc2018"/>
</g>
<path d="M507.6,3.5V294.3H937.1" fill="none" stroke="#000" stroke-width="1.6"/>
<path d="M507.6,24.6h-5.5M507.6,121.35h-5.5M507.6,218.1h-5.5M507.6,72.97h-3M507.6,169.72h-3M507.6,266.48h-3M538.7,294.3v5.5M601.27,294.3v3M663.83,294.3v5.5M726.39,294.3v3M788.96,294.3v5.5M851.53,294.3v3M914.09,294.3v5.5" stroke="#000" stroke-width="1.5" fill="none"/>
<text x="497.6" y="33.4" font-family="Liberation Sans, sans-serif" font-size="23.6" text-anchor="end">5x10<tspan font-size="16" dy="-9.6">-4</tspan></text>
<text x="497.6" y="130.15" font-family="Liberation Sans, sans-serif" font-size="23.6" text-anchor="end">0</text>
<text x="497.6" y="226.9" font-family="Liberation Sans, sans-serif" font-size="23.6" text-anchor="end">-5x10<tspan font-size="16" dy="-9.6">-4</tspan></text>
<text x="538.7" y="323.3" font-family="Liberation Sans, sans-serif" font-size="23.6" text-anchor="middle">2</text>
<text x="663.83" y="323.3" font-family="Liberation Sans, sans-serif" font-size="23.6" text-anchor="middle">3</text>
<text x="788.96" y="323.3" font-family="Liberation Sans, sans-serif" font-size="23.6" text-anchor="middle">4</text>
<text x="914.09" y="323.3" font-family="Liberation Sans, sans-serif" font-size="23.6" text-anchor="middle">5</text>
<text x="649.8" y="262.4" font-family="Liberation Sans, sans-serif" font-size="28.5">log</text>
<text x="689.5" y="269.6" font-family="Liberation Sans, sans-serif" font-size="19">10</text>
<text x="711.4" y="262.4" font-family="Liberation Sans, sans-serif" font-size="28.5">(</text>
<text x="721" y="262.4" font-family="Liberation Sans, sans-serif" font-size="28.5" transform="translate(721,0) scale(1.1,1) translate(-721,0)">ν</text>
<text x="741.9" y="262.4" font-family="Liberation Sans, sans-serif" font-size="28.5" textLength="64.5" lengthAdjust="spacing">[Hz])</text>
<clipPath id="cib"><rect x="552" y="673.5" width="387.1" height="278.8"/></clipPath>
<g clip-path="url(#cib)" fill="none" stroke-width="3" stroke-linejoin="round" stroke-linecap="round">
<path d="M551.6,913.9 L553.7,877.7 L556.9,874.5 L562.6,863.7 L567.1,863.7 L571.5,859.3 L578.5,863.7 L583,863.1 L591.2,855.5 L598.2,840.8 L603.9,837 L607.5,832 L611.6,836.4 L616.6,838.3 L621.1,825.6 L624.9,814.2 L628.1,814.2 L635.7,809.3 L642.1,803.3 L649.7,790 L651.6,781.5 L660.5,795.7 L669.5,764.8 L687,770.5 L696.2,746.4 L704.5,750.2 L713.4,752.8 L722.3,754.9 L731.2,738.1 L740.1,741.7 L749.6,730.3 L757.9,738.8 L767.4,727.3 L775.7,730.5 L784.5,729.7 L793.4,739.5 L802.3,735.4 L811.2,735.4 L818.9,739.5 L828.4,746.2 L837.9,754.5 L850,760.8 L860.2,765.9 L871.6,771 L881.1,776.7 L890.4,790.4 L900.3,795.6 L909.1,803.8 L917.3,826.7 L926.1,847.8 L931.4,864.7 L936,878.8" stroke="#4cb810"/>
<path d="M551.6,751.7 L554.1,721.1 L558.2,722.4 L562.6,719.5 L568.3,725.3 L572.2,727.5 L577.9,737.7 L584.9,744 L590.6,743.1 L598.2,736 L602.7,737.3 L607.1,735.8 L616.6,750.4 L624.9,733 L632.5,736.8 L638.3,736.8 L644.6,733.5 L651.6,724.6 L660.5,746.6 L669.5,723.5 L687,746.4 L696.2,731.5 L710.8,753.4 L722.9,766.7 L731.8,758.7 L740.7,769.3 L749.6,765.1 L757.9,780.3 L766.8,774 L774.4,781.4 L784.5,783.7 L793.4,795.8 L802.3,791.1 L811.2,789.4 L818.9,791.4 L828.4,792.6 L837.9,793.3 L848.7,788.6 L856.4,784.4 L866.5,776.7 L873.4,771 L882.2,764.6 L890.9,764.6 L898.6,757 L907.3,754.6 L909.7,755.2 L917.3,768.7 L926.1,785.1 L931.9,800.9 L936,811.4" stroke="#cc2018"/>
</g>
<path d="M552,673.5V952.3H937.1" fill="none" stroke="#000" stroke-width="1.6"/>
<path d="M552,702h-5.5M552,777h-5.5M552,852h-5.5M552,927h-5.5M552,739.5h-3M552,814.5h-3M552,889.5h-3M579.5,952.3v5.5M635.52,952.3v3M691.55,952.3v5.5M747.58,952.3v3M803.6,952.3v5.5M859.62,952.3v3M915.65,952.3v5.5" stroke="#000" stroke-width="1.5" fill="none"/>
<text x="542" y="709.4" font-family="Liberation Sans, sans-serif" font-size="22" text-anchor="end">3x10<tspan font-size="15" dy="-10.2">-4</tspan></text>
<text x="542" y="784.4" font-family="Liberation Sans, sans-serif" font-size="22" text-anchor="end">0</text>
<text x="542" y="859.4" font-family="Liberation Sans, sans-serif" font-size="22" text-anchor="end">-3x10<tspan font-size="15" dy="-10.2">-4</tspan></text>
<text x="542" y="934.4" font-family="Liberation Sans, sans-serif" font-size="22" text-anchor="end">-6x10<tspan font-size="15" dy="-10.2">-4</tspan></text>
<text x="579.5" y="979.2" font-family="Liberation Sans, sans-serif" font-size="22" text-anchor="middle">2</text>
<text x="691.55" y="979.2" font-family="Liberation Sans, sans-serif" font-size="22" text-anchor="middle">3</text>
<text x="803.6" y="979.2" font-family="Liberation Sans, sans-serif" font-size="22" text-anchor="middle">4</text>
<text x="915.65" y="979.2" font-family="Liberation Sans, sans-serif" font-size="22" text-anchor="middle">5</text>
<text x="682.2" y="932.2" font-family="Liberation Sans, sans-serif" font-size="28.5">log</text>
<text x="722.7" y="939.4" font-family="Liberation Sans, sans-serif" font-size="19">10</text>
<text x="742.4" y="932.2" font-family="Liberation Sans, sans-serif" font-size="28.5">(</text>
<text x="751.2" y="932.2" font-family="Liberation Sans, sans-serif" font-size="28.5" transform="translate(751.2,0) scale(1.1,1) translate(-751.2,0)">ν</text>
<text x="776.3" y="932.2" font-family="Liberation Sans, sans-serif" font-size="28.5" textLength="62.5" lengthAdjust="spacing">[Hz])</text>
<text x="159.2" y="67" font-family="Liberation Sans, sans-serif" font-size="48">(a)</text>
<text x="153.9" y="731" font-family="Liberation Sans, sans-serif" font-size="48">(b)</text>
<text x="163.1" y="323.6" font-family="Liberation Sans, sans-serif" font-size="37">BrBPh 216 K</text>
<path d="M163.1,357.0H248.0" stroke="#4cb810" stroke-width="1.7"/>
<path d="M163.1,403.4H248.0" stroke="#cc2018" stroke-width="1.7"/>
<text x="257.0" y="370.1" font-family="Liberation Sans, sans-serif" font-size="37">2 comp.s</text>
<text x="257.0" y="416.0" font-family="Liberation Sans, sans-serif" font-size="37">3 comp.s</text>
<text x="166.6" y="995.3" font-family="Liberation Sans, sans-serif" font-size="37">BPh 209 K</text>
<path d="M166.9,1028.3H251.7" stroke="#4cb810" stroke-width="1.7"/>
<path d="M166.9,1074.3H251.7" stroke="#cc2018" stroke-width="1.7"/>
<text x="261.3" y="1041.2" font-family="Liberation Sans, sans-serif" font-size="37">2 comp.s</text>
<text x="261.3" y="1087.2" font-family="Liberation Sans, sans-serif" font-size="37">3 comp.s</text>
<text x="464.6" y="1356.9" font-family="Liberation Sans, sans-serif" font-size="42">Log</text>
<text x="574.4" y="1356.9" font-family="Liberation Sans, sans-serif" font-size="42">/[Hz])</text>
<path d="M544.8,1334.2 C535,1339.5 533.2,1358 544.8,1363.9" fill="none" stroke="#000" stroke-width="1.5"/>
<path d="M545.9,1334.7 C548,1333.2 550.5,1332.3 553.6,1332.3 L560.9,1354.5 L559.4,1357.9 L557.7,1357.9 L549.3,1335.5 C548.2,1334.7 547,1334.7 545.9,1335.1 Z" fill="#000"/>
<path d="M558.7,1357.2 C562,1351 566.5,1343.5 568.7,1337.6" fill="none" stroke="#000" stroke-width="1.8"/>
<ellipse cx="569.3" cy="1334.8" rx="2.7" ry="3" fill="#000"/>
<g transform="translate(0,0)">
<path d="M13.1,279.6 L22.6,280.2 Q24.9,280.4 24.9,282 Q24.9,283.6 22.6,283.8 L13.1,284.4 Z" fill="#000"/>
<path d="M13.1,288.7 L22.6,289.3 Q24.9,289.5 24.9,291.1 Q24.9,292.7 22.6,292.9 L13.1,293.5 Z" fill="#000"/>
<path d="M28.05,299.88 C27.58,300.07 26.40,301.36 25.95,302.30 C25.50,303.25 25.34,304.48 25.34,305.57 C25.34,306.65 25.58,307.82 25.95,308.83 C26.32,309.84 26.84,310.91 27.58,311.63 C28.32,312.34 29.45,313.03 30.38,313.12 C31.31,313.21 32.30,312.78 33.17,312.19 C34.05,311.59 35.13,310.01 35.60,309.53 C36.07,309.05 36.22,309.41 35.97,309.30 C35.72,309.18 34.73,308.71 34.11,308.83 C33.49,308.95 32.94,309.82 32.24,310.00 C31.54,310.17 30.65,310.19 29.91,309.86 C29.17,309.52 28.32,308.71 27.81,307.99 C27.31,307.28 27.00,306.36 26.88,305.57 C26.76,304.77 26.80,303.97 27.11,303.24 C27.43,302.50 28.59,301.70 28.75,301.14 C28.90,300.58 28.51,299.68 28.05,299.88 Z" fill="#000"/>
<path d="M35.41,309.86 C35.72,310.45 36.89,311.99 37.84,312.65 C38.78,313.31 39.93,313.90 41.10,313.82 C42.27,313.74 43.88,313.10 44.83,312.19 C45.78,311.28 46.41,309.62 46.79,308.36 C47.16,307.10 47.22,305.88 47.07,304.63 C46.91,303.39 46.46,301.93 45.86,300.90 C45.25,299.88 43.95,298.64 43.43,298.48 C42.91,298.32 42.73,299.49 42.73,299.97 C42.73,300.45 43.12,300.75 43.43,301.37 C43.74,301.99 44.35,302.85 44.60,303.70 C44.85,304.56 45.04,305.49 44.92,306.50 C44.81,307.51 44.53,308.99 43.90,309.76 C43.26,310.54 42.03,311.01 41.10,311.16 C40.17,311.32 39.16,311.04 38.30,310.69 C37.45,310.34 36.45,309.20 35.97,309.06 C35.49,308.92 35.10,309.26 35.41,309.86 Z" fill="#000"/>
<circle cx="28.51" cy="299.51" r="2.15" fill="#000"/>
<ellipse cx="42.59" cy="299.41" rx="2.6" ry="2.5" fill="#000"/>
<path d="M35.51,301.14L35.51,309.53" stroke="#000" stroke-width="1.25"/>
</g>
<g transform="translate(-13.6,665)">
<path d="M13.1,279.6 L22.6,280.2 Q24.9,280.4 24.9,282 Q24.9,283.6 22.6,283.8 L13.1,284.4 Z" fill="#000"/>
<path d="M13.1,288.7 L22.6,289.3 Q24.9,289.5 24.9,291.1 Q24.9,292.7 22.6,292.9 L13.1,293.5 Z" fill="#000"/>
<path d="M28.05,299.88 C27.58,300.07 26.40,301.36 25.95,302.30 C25.50,303.25 25.34,304.48 25.34,305.57 C25.34,306.65 25.58,307.82 25.95,308.83 C26.32,309.84 26.84,310.91 27.58,311.63 C28.32,312.34 29.45,313.03 30.38,313.12 C31.31,313.21 32.30,312.78 33.17,312.19 C34.05,311.59 35.13,310.01 35.60,309.53 C36.07,309.05 36.22,309.41 35.97,309.30 C35.72,309.18 34.73,308.71 34.11,308.83 C33.49,308.95 32.94,309.82 32.24,310.00 C31.54,310.17 30.65,310.19 29.91,309.86 C29.17,309.52 28.32,308.71 27.81,307.99 C27.31,307.28 27.00,306.36 26.88,305.57 C26.76,304.77 26.80,303.97 27.11,303.24 C27.43,302.50 28.59,301.70 28.75,301.14 C28.90,300.58 28.51,299.68 28.05,299.88 Z" fill="#000"/>
<path d="M35.41,309.86 C35.72,310.45 36.89,311.99 37.84,312.65 C38.78,313.31 39.93,313.90 41.10,313.82 C42.27,313.74 43.88,313.10 44.83,312.19 C45.78,311.28 46.41,309.62 46.79,308.36 C47.16,307.10 47.22,305.88 47.07,304.63 C46.91,303.39 46.46,301.93 45.86,300.90 C45.25,299.88 43.95,298.64 43.43,298.48 C42.91,298.32 42.73,299.49 42.73,299.97 C42.73,300.45 43.12,300.75 43.43,301.37 C43.74,301.99 44.35,302.85 44.60,303.70 C44.85,304.56 45.04,305.49 44.92,306.50 C44.81,307.51 44.53,308.99 43.90,309.76 C43.26,310.54 42.03,311.01 41.10,311.16 C40.17,311.32 39.16,311.04 38.30,310.69 C37.45,310.34 36.45,309.20 35.97,309.06 C35.49,308.92 35.10,309.26 35.41,309.86 Z" fill="#000"/>
<circle cx="28.51" cy="299.51" r="2.15" fill="#000"/>
<ellipse cx="42.59" cy="299.41" rx="2.6" ry="2.5" fill="#000"/>
<path d="M35.51,301.14L35.51,309.53" stroke="#000" stroke-width="1.25"/>
</g>
</svg>
</body></html>
